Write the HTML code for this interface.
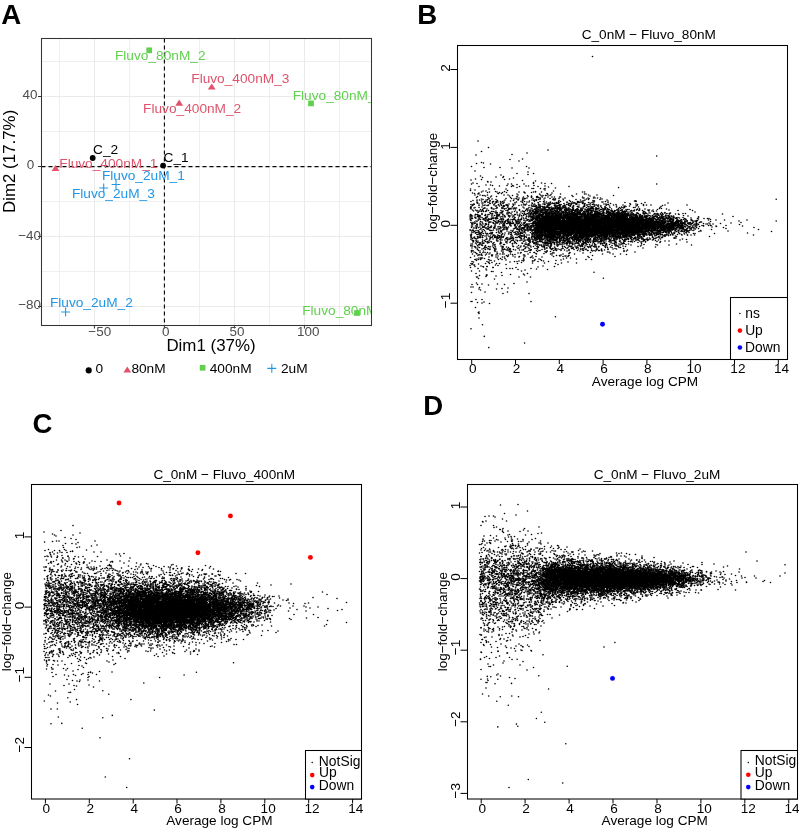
<!DOCTYPE html>
<html><head><meta charset="utf-8"><style>
html,body{margin:0;padding:0;background:#fff;}
svg{display:block;font-family:"Liberation Sans", sans-serif;-webkit-font-smoothing:antialiased;will-change:transform;}
</style></head><body>
<svg width="799" height="830" viewBox="0 0 799 830">
<defs><marker id="dot" markerUnits="userSpaceOnUse" markerWidth="4" markerHeight="4" refX="2" refY="2" overflow="visible"><circle cx="2" cy="2" r="1.6" fill="#000"/></marker></defs>
<rect width="799" height="830" fill="#fff"/>
<g font-weight="bold" font-size="27.6">
<text x="1.31" y="23.75">A</text>
<text x="417.15" y="24">B</text>
<text x="32.47" y="433">C</text>
<text x="423.15" y="415">D</text>
</g>
<path d="M59.5 38.5V325.5M129.5 38.5V325.5M199.5 38.5V325.5M269.5 38.5V325.5M339.5 38.5V325.5M41.5 61.5H371.5M41.5 131.5H371.5M41.5 201.5H371.5M41.5 271.5H371.5" stroke="#EFEFEF" stroke-width="1" fill="none"/>
<path d="M94.5 38.5V325.5M164.5 38.5V325.5M234.5 38.5V325.5M304.5 38.5V325.5M41.5 96.5H371.5M41.5 166.5H371.5M41.5 236.5H371.5M41.5 306.5H371.5" stroke="#EAEAEA" stroke-width="1" fill="none"/>
<path d="M164.4 38.5V325.5M41.5 166.6H371.5" stroke="#000" stroke-width="1.1" stroke-dasharray="4 3" fill="none"/>
<clipPath id="cpA"><rect x="41.5" y="38.5" width="330.0" height="287.0"/></clipPath>
<g clip-path="url(#cpA)">
<circle cx="92.7" cy="158" r="2.9" fill="#000"/>
<circle cx="163.1" cy="165.6" r="2.9" fill="#000"/>
<path d="M51.60 171.10H59.40L55.50 164.90Z" fill="#DF536B"/>
<path d="M175.30 105.70H183.10L179.20 99.50Z" fill="#DF536B"/>
<path d="M207.80 89.60H215.60L211.70 83.40Z" fill="#DF536B"/>
<rect x="146.35" y="47.45" width="5.7" height="5.7" fill="#61D04F"/>
<rect x="308.15" y="100.55" width="5.7" height="5.7" fill="#61D04F"/>
<rect x="354.15" y="310.15" width="5.7" height="5.7" fill="#61D04F"/>
<path d="M99.30 188.00H108.10M103.70 183.60V192.40" stroke="#2297E6" stroke-width="1.1" fill="none"/>
<path d="M111.60 184.50H120.40M116.00 180.10V188.90" stroke="#2297E6" stroke-width="1.1" fill="none"/>
<path d="M61.20 312.00H70.00M65.60 307.60V316.40" stroke="#2297E6" stroke-width="1.1" fill="none"/>
<text x="114.98" y="59.60" font-size="13.7" fill="#61D04F">Fluvo_80nM_2</text>
<text x="191.28" y="83.00" font-size="13.7" fill="#DF536B">Fluvo_400nM_3</text>
<text x="292.68" y="99.60" font-size="13.7" fill="#61D04F">Fluvo_80nM_3</text>
<text x="143.08" y="113.20" font-size="13.7" fill="#DF536B">Fluvo_400nM_2</text>
<text x="93.00" y="153.60" font-size="13.7" fill="#000">C_2</text>
<text x="163.50" y="161.60" font-size="13.7" fill="#000">C_1</text>
<text x="59.28" y="168.00" font-size="13.7" fill="#DF536B">Fluvo_400nM_1</text>
<text x="101.88" y="180.00" font-size="13.7" fill="#2297E6">Fluvo_2uM_1</text>
<text x="71.88" y="197.70" font-size="13.7" fill="#2297E6">Fluvo_2uM_3</text>
<text x="49.88" y="307.40" font-size="13.7" fill="#2297E6">Fluvo_2uM_2</text>
<text x="302.18" y="314.80" font-size="13.7" fill="#61D04F">Fluvo_80nM_1</text>
</g>
<rect x="41.5" y="38.5" width="330.0" height="287.0" fill="none" stroke="#333" stroke-width="1.05"/>
<path d="M94.4 325.5v3M164.4 325.5v3M234.4 325.5v3M304.4 325.5v3M41.5 96.5h-3.5M41.5 166.5h-3.5M41.5 236.5h-3.5M41.5 306.5h-3.5" stroke="#333" stroke-width="1" fill="none"/>
<text x="88.34" y="335.70" font-size="13.45" fill="#4D4D4D">−50</text>
<text x="161.97" y="335.70" font-size="13.45" fill="#4D4D4D">0</text>
<text x="229.56" y="335.70" font-size="13.45" fill="#4D4D4D">50</text>
<text x="296.98" y="335.70" font-size="13.45" fill="#4D4D4D">100</text>
<text x="22.59" y="99.40" font-size="13.45" fill="#4D4D4D">40</text>
<text x="26.67" y="169.40" font-size="13.45" fill="#4D4D4D">0</text>
<text x="18.14" y="239.60" font-size="13.45" fill="#4D4D4D">−40</text>
<text x="18.24" y="309.40" font-size="13.45" fill="#4D4D4D">−80</text>
<text x="166.41" y="351.30" font-size="16.9" fill="#000">Dim1 (37%)</text>
<text transform="translate(15.30,212.99) rotate(-90)" font-size="16.9" fill="#000">Dim2 (17.7%)</text>
<circle cx="88.7" cy="370.4" r="3.05" fill="#000"/>
<text x="95.56" y="373.20" font-size="13.7" fill="#000">0</text>
<path d="M123.40 372.60H131.20L127.30 366.40Z" fill="#DF536B"/>
<text x="131.40" y="373.20" font-size="13.7" fill="#000">80nM</text>
<rect x="199.75" y="364.95" width="5.7" height="5.7" fill="#61D04F"/>
<text x="209.69" y="373.20" font-size="13.7" fill="#000">400nM</text>
<path d="M267.35 368.40H276.25M271.80 363.95V372.85" stroke="#2297E6" stroke-width="1.1" fill="none"/>
<text x="280.91" y="373.20" font-size="13.7" fill="#000">2uM</text>
<clipPath id="cpB"><rect x="457.5" y="45.5" width="330.0" height="314.0"/></clipPath>
<g clip-path="url(#cpB)"><path transform="scale(0.5)" d="M952 310l-9 23 7 9 1 16-9 2 4 6-3 2-2 10 9 2-9 1 4 5 4 1 1 3-4 11-4 2 6 5-2 1-4 0 5 0 1 0-3 2 0 0-3 2 0 2 8 0-8 1-1 0 7 0-6 2 9 2-6 0 2 2 5 7-11 0 10 0 0 0-9 1 1 1 7 1-5 0-5 0 1 0 1 1 8 2-8 1 2 0 8 0-12 0 11 0-6 1-2 0-2 2 0 1 1 1 10 1-3 2-3 1-4 0 9 1-2 1-5 0 0 1 0 0 2 0-3 4 8 0-6 0-2 3 4 1 3 0-9 4-1 0 6 0 0 1-1 0-2 1 4 0 2 1 0 0-3 2 5 1 0 0-8 0 0 3-2 1 1 1 0 1 0 2 7 0-6 0 5 1-6 1 3 1 5 0-5 0 6 0-9 2 3 2 2 0-2 0 7 0-5 2-1 1 5 2-6 2-3 0 0 3 3 1-3 0 7 1 2 1-1 0-6 2 8 0-9 5 3 0-3 1 1 0-1 2 5 0 3 1-6 3 4 4-8 3 10 4-1 0-6 4 3 1-5 3 3 0-1 2 4 1 1 0-9 1 10 2-9 2 2 7 1 27 2 5-4 0 1 11 1 18-2 0 9 12 5-333 7 21 0 22 4 1-14 1 15 8-7 17 4 3-2 4-9 8 4 6 8 9-3 2-5 2-1 1-1 1 4 2 5 1-10 2-2 2 10 3 3 1-12 1 5 0 4 2-9 0 0 3 10 1 2 0-11 0 0 0 3 2 7 2-7 1 6 3-6 1 9 2-6 2 4 0-1 2-10 0 12 0-12 1 4 0 2 0 3 1 4 0-10 1-1 1 8 2-9 2 9 0-8 1 3 1 1 0-4 1 1 0 0 0 0 1-2 0 4 0 2 1 3 1-7 1 2 0 9 1-1 1-8 0 7 0-5 1 6 0-11 1 1 0 4 3-7 0 10 1 1 2-5 0 1 2 5 0-12 0 0 1 6 1-6 0 9 0-9 0 11 2-11 1 13 1-1 0-6 0 5 1-12 0 4 0 5 2-9 0 14 2-7 0 4 1-8 1-4 0 5 1 8 1-8 1 2 0-6 1 10 0-7 0 4 1 4 0-5 1 8 0-6 0-3 1 4 1-8 0 2 0 6 1-3 0 7 1-5 1 4 0-10 1 6 1-2 0-2 0 8 1-6 0 2 0 4 0-9 1-1 0-2 2 12 2-9 2 9 1-12 0 1 1 6 1-4 0 10 1-6 0 4 0 4 0-2 1-7 1-6 0 8 0-3 1 6 1-6 0 5 0 2 1-10 0 1 3 3 1 8 2-3 1-9 0 0 1 2 2 3 1 7 0-7 3 6 0-13 2 1 1 9 0 0 1-5 0 2 1 4 1-8 0 9 5-3 0 0 0-4 0 4 2-8 0 3 1 4 0-8 2 4 7 5 4 4 1 1 1-11 3 3 5-7 5 7 4-6 3 2 0 2 3-4 9 11 2-9 1 4 6-1 3 3 2 3 19-12 0 16 5-13 1 9 1-6 18 0 3 0 9 19-341 4 33-6 35 7 1-6 0-4 6 9 0-3 8-6 4 7 2-4 1 0 5-7 1 15 1-12 0 10 2-5 1 2 2 0 1-3 1-3 1 8 1-6 1 6 0-9 1-2 0 10 1-3 1-6 0 10 2 0 0-3 3-7 0 4 1 2 0-8 0 15 4-14 1 14 0-13 0 13 1-9 1-1 3 4 0-4 1 10 1-12 0 9 2 1 2 2 1-12 1 5 0 2 0-7 2-1 0 5 1 8 0-8 2-2 0-2 1 2 1 10 0-12 1 7 1 5 0-6 0 5 0-8 1 4 0-1 0 1 0 4 0-13 1 2 0 5 1-1 0-3 1-1 0 5 0 6 2-2 0-2 0 1 1-2 1-5 1-1 1 0 0 2 1 4 0-7 2 13 1-6 0-1 1 6 0-13 1 0 0 12 1 1 0-3 0-3 1-5 0 2 0 4 1-2 1-1 0 4 1 4 2-1 0-12 0 11 0-9 3 11 1 2 1-12 1 3 0 7 0-3 0 5 0-11 1 9 0-6 2-6 2 11 0-8 0 5 1 4 2-9 1 8 0-1 0 0 2-6 0-2 1 7 1-10 1 0 0 9 1-7 1 11 0-7 0-1 1 9 0-5 1-1 0-2 1-4 5 9 2-3 0-7 0-1 2 4 0-1 0 8 1-4 1 0 1-6 0 9 1-8 0 9 0-10 6 5 0 5 1-7 2 5 0 5 2-12 0 13 1 0 1-6 2-9 3 8 2 2 1 3 1-8 2 4 1-1 1-6 2 8 0-5 6 0 0-2 5 1 2 10 3-10 7 1 0-1 1-1 2 5 17-7 14 9 23 13-253-7 17 14 1-10 6 2 5 3 1 5 1-2 2-1 0-3 6-9 5 8 1 3 2-1 1-8 1 7 0-6 0 4 1-6 0 11 0-3 1-8 1 5 1 7 2-9 0 0 1 9 0 2 2-6 0-2 0 3 3 0 1-2 1-6 1 2 0 4 4-8 1 3 0 3 1 3 1 1 0-3 1 3 0-9 1 9 1 5 1-3 0-3 1-8 0 10 0 4 0-2 1-8 0 9 1-3 0-2 0 1 1-8 1 7 1 2 1-4 0-1 0-4 0 9 1-8 0 5 0-7 0 7 1 8 1-3 2-10 0 7 1-5 0 8 1-6 0 7 0-1 1-11 1 8 0-1 1-6 0 8 0-4 0-4 1 3 1 9 0-8 2-2 2 9 1-8 0 6 1-8 1-1 1 2 0 1 0 9 1-5 1 3 0 3 0-13 2 6 0-9 1 13 1 0 2-4 1-8 0 13 1-3 4-7 0-2 0 4 1-3 0 10 0 2 1-4 1-10 0 14 0 0 0-9 0 1 1 2 0-3 0 5 1-5 0-1 0 10 0-4 0-11 0 9 1 4 0-3 0 2 1-10 1 7 2 1 0 0 2 2 0-8 3-2 2 14 1-14 0 4 1-2 1-3 2 5 0 1 2-4 1 2 2 0 1 1 0 2 0-1 2-2 1 1 2 4 1 1 3 5 1-6 0-2 2-7 0 11 2-4 2 3 2 2 3-8 3-5 3 15 2-6 0-2 3 5 1-10 4 0 0 0 8 6 9-3 6 6 10-2 10 7-243 2 15 5 3-1 2 3 4 5 12-2 7 3 3-6 2-4 2 8 0-10 2 5 3 8 0-4 7-2 3-2 2-7 1 4 0 3 2-6 0 4 1-5 1 5 0-4 2 12 0-2 1 1 0 2 1-8 0-4 0 13 0-8 1 1 0-2 1-1 1 9 0-11 1 1 1 3 1 4 0-8 0 5 1 3 3 3 0-13 0 4 1-1 1-1 1 1 0 11 1-14 0-2 1 14 0-11 0 2 2 9 0 2 0-10 1 3 2-3 1 4 1-6 0-3 1 9 0-4 2-4 1 4 1-2 0-1 1 12 0-8 0 8 2-3 0 3 1-9 0-3 0 8 1-1 0-5 0 5 0-10 0 16 1-11 0-4 0 9 1-8 1 2 0 4 0 0 1 5 0-5 0 7 0-9 2 3 1 0 0-1 1-2 0 3 0-2 1-6 2 4 0 5 0 2 0-11 1 12 0-5 0 7 1-6 0-7 0 10 2 2 0-1 0 2 0-8 0 1 1-1 0-2 1-2 2-1 0 12 0-13 0 1 1 1 1 7 2-10 0 5 1 0 1 4 2-6 0 0 0-3 2 3 1 4 0-1 1 8 1-12 0 4 0 10 1-14 0 11 1-1 0 0 0-11 1 14 1-15 0 15 0 0 1-5 0-6 0-3 2 13 1-2 1 0 0-11 1 2 1 11 0-13 1 6 2 2 0-7 3 3 1 1 0-2 1 9 0-7 1-1 1 10 2-6 0-5 0 2 1 0 0 4 0 3 1-10 2 3 0 0 3-1 3 3 0 5 3 3 1-1 1-6 1-4 0 5 3-9 0 3 2 8 1 0 9 1 8-10 8 1 6 5 18 7 7-12 1 11 7-9 3 18-278-4 10 4 17 3 20-8 2-3 10 7 0 2 3 2 1-4 1 2 18-6 1 2 3 2 2 9 0-4 1-1 3-6 1 9 3-12 3 8 0 4 0-3 2 0 0-2 3-9 1 12 2 2 0-6 0-5 1 11 0-9 0-3 0 4 1 5 0-10 0 2 0-2 1 14 1-15 2 13 1-5 1-5 1-1 1 4 1 7 2 2 0-7 1-7 1 3 1-1 0 8 0 1 0-11 0 2 2 6 0 5 1-1 1-1 1-11 1 0 1 12 0-2 0-2 0-3 0 9 1-6 2 6 0-11 0-4 0 2 2 0 0 7 0-8 1 4 0 6 1 5 0-14 0 2 1 5 0 2 0-5 0-3 0 4 0-4 1 11 1-1 1-9 0 11 0-10 0 9 1-9 0 9 1-8 0-5 2 15 0-1 1 0 1-2 1-2 1-5 3 4 0-1 2-7 1 13 0-9 1 6 0-6 0 8 0-12 1 5 2-6 0 5 1 8 0-9 0 3 2-2 2 4 1 5 1-6 0-4 1 2 0 1 1-2 0 5 0-7 0 0 1-2 1 9 1-1 0 0 1-3 0-2 2 8 0-9 2 11 0-2 1-4 1 0 0 0 3 2 3-1 0-9 2 3 3 1 0-2 0-3 0 3 1 8 0 4 1-15 1 3 1 2 0 2 1-4 0 2 1 0 4 9 1-5 0-8 1 9 2 4 2-1 9-9 1 0 13 5 0-4 12 7 18 17-249-7 4-4 25 11 14-11 8 5 4-5 2 4 9-4 4 2 2-2 3 13 1-13 0 4 2 8 0-1 2-11 0 14 0-11 1-1 1 10 0-1 1-3 2 3 1-12 0 12 1 2 3-4 2-5 1 8 3-13 2 6 3 0 2 6 1 2 1-13 1 8 0-8 2 11 1-5 1 8 1-13 1 4 0 4 1 4 0-9 1 1 0 5 2-7 2 10 0-4 1 5 1-7 1-4 0 6 0-5 1-3 0 6 2-3 0-5 0 3 1-3 0 2 1 3 0 1 1-6 0 14 1-8 0 4 0-9 1 3 0-1 0 10 2-5 0-6 1 5 1 8 0-5 0-3 2-1 0-6 1 4 0 7 1 3 1-1 0-1 0-5 0 0 0 6 0 0 0 2 1-14 0 12 0-2 0-6 1-3 0 8 0 4 0-7 1-6 0 9 0-6 0 2 1 5 1 0 1-5 0-1 0 8 0-12 1 5 0 2 2-5 0 5 0-5 1 6 0 3 0-2 0-11 1 13 0-4 0-4 1-4 0 6 0-3 1 5 1-7 0 14 0-4 1-3 0 2 1-4 0 8 0-3 1-7 0 5 1-3 0-5 1 5 0-5 0 6 0 8 2-5 0-1 0 0 3 2 0-12 0 8 1-5 0 0 1 12 1-3 3 1 1-12 0 4 4 5 1 6 0-14 2 7 0-3 2-2 1 11 2-8 1 8 0-3 0-2 5-1 1-5 0 11 4-8 3 9 1-10 0 9 3 0 3-3 1-6 1 9 0-13 1 9 2-8 2-3 8 4 4 7 3 4 6-9 6 15-221 5 3-2 8 0 5-8 19 9 4-5 0-4 12 15 1-14 0 1 1 5 5 8 1-7 1 7 0 0 2-9 1-4 1 0 0 14 3-5 2-10 1 5 1 4 0 6 2-11 2-3 1 13 1-12 0-3 0 10 1 5 1-5 3 4 1-14 0 8 1 8 0-11 1 0 1 5 1-3 0 6 0-10 1 9 0-5 1 5 1-12 0 1 1 11 0-2 1 5 0-8 2 1 0 4 0-11 0 12 0 3 0-11 1 10 0-5 1 3 0-10 0 10 1 1 2-5 0-4 0 6 0 4 1-10 0 7 0 1 1-4 0-5 2 0 1 9 1-6 1 8 0-6 0-3 1-6 1 6 0 5 0 4 0-4 0 2 1-10 0 9 0-2 1-8 2-1 0 0 1 0 1 13 0 2 0-10 1 3 0 2 0-5 0-1 2 2 0-1 0-3 0 0 0 4 0-1 1-5 0 3 0 11 0-8 0 6 1-3 0-7 0 6 1-1 0 6 0-1 0 2 1-13 0-1 0 0 0 9 0-5 0 2 1 5 0 3 0-8 1 3 0 4 1-9 1 8 0-2 0-4 0 0 0 1 1 5 0-11 0-1 1 14 0-1 0-1 0-2 0-7 1 4 0-6 0 6 1-7 1-1 2 13 0-10 1 13 1 0 2-6 1-4 0-5 0 15 2-15 1 3 0-3 0 0 2 9 0-5 0 10 0-5 2 1 0 5 1-8 0 0 1 4 0-2 1-8 0 6 0-2 0-6 0 12 1-10 1 10 0-2 0 0 1 1 0 1 1 0 1-8 1 7 2-2 0 0 0-7 0 4 1-2 0 4 2 2 0-10 1 13 0-7 2 8 0-11 0 0 2 6 0-7 1 9 1 3 1 0 1-1 1-3 0-8 2 4 0 6 2-4 3-7 2 1 2 13 2-2 1-13 5 14 17-12 3 5 7-6 3 12 4-7 10 4 23 4 16 5-256 4 15-4 3 0 2 1 4 8 2-12 4 3 0 4 6-4 1 4 0 8 4-5 5 1 0-2 1 5 1-4 0 2 0-10 2 14 1-7 1 4 0-6 1-3 0 5 1-5 0 1 2 7 2 1 1-12 1 4 1 8 1 1 0-8 1-3 0 5 1 7 1-2 0-11 0 7 0-4 1 2 0-5 0 14 1-6 0 6 0-7 1 0 0 4 0-1 0 1 0-3 1-1 0-2 2 5 0-3 0-3 0 5 0 2 1-7 0-1 0 9 1-4 0 4 0-11 0-3 0 8 1 0 0 8 0-15 0 10 1-1 0 1 1-4 0-5 0 2 0 9 0-10 0 6 0-6 0 8 1-11 0 10 1-2 0 6 0-9 0 0 0 5 1-4 0 0 0 0 1 5 0-3 0 0 0-5 0 1 0 11 1-2 0-10 0 12 0-9 0 8 1-2 1 3 0-12 0 11 0-6 0-6 0 6 0-6 0 11 1 2 0-2 0-4 1-5 0 7 0 0 0 4 0-10 0 11 0-7 1-8 0 14 0-1 1-4 0 1 0 2 0-12 0 6 0-4 0 8 0-11 0 8 0 1 1 6 0-11 0 9 0 0 0-13 0 12 0 0 1-11 0 2 0 10 0-12 0 3 0 11 0 0 1-14 0 5 0 0 0 7 0 2 0-4 0-1 0 5 1-12 0 6 0-8 0 11 0-4 0 2 0-3 0 9 0-7 1-7 0 7 0 6 0-8 0-6 0 15 1 0 0-1 0-5 0 1 0-1 0 4 1-1 0-12 0 9 0 4 0-3 0-5 1 7 0-6 0 7 0 1 1 1 0-9 0 5 0 3 0 0 0-9 0 8 0-2 0-7 0 10 0-11 0-1 1 10 0-7 0 1 0 1 0 7 0-3 0-6 0-1 0 4 1 4 0-2 0-1 0 1 0 2 0-11 0 11 0-10 1 0 0 10 0 1 0-1 0 1 0-4 0 5 0-7 1-3 0 2 0-6 0 3 0 11 0-3 0-1 0 0 1-3 0 8 0-7 0 5 0-3 0 2 0 1 0 2 1-1 0-1 0-4 0 3 0-6 0 3 1-9 0 15 0-5 0-8 0-1 0 9 1 4 0-6 0-5 0 7 0-4 0 7 1-2 0-10 0 1 0 3 0 8 0-2 0-3 1 6 0-12 0 10 0-10 0 8 0 4 0-2 0 2 1-7 0-6 0 8 0 3 0-4 0 1 0-2 1 4 0 1 0-6 0 4 0-6 1 7 0-1 0-1 0-1 0 7 0-3 0-8 0 6 1 4 0-10 0 10 0-4 1-4 0 7 0-9 0 6 0 3 0-1 0-5 0 1 0 5 0 0 0-3 0-3 1 3 0 2 0-5 0 3 0-8 0 11 0-12 1 12 0-13 0 6 0 7 0-10 0 0 0 10 1-4 0 5 0-4 0-4 0 9 0-5 0-10 0 7 1 7 0-4 0-6 0 10 0-1 1-7 0 5 0-12 0 13 0-2 0 2 0-5 1 7 0-10 0 3 0 0 0 3 0 1 0-6 0 10 0-1 0-1 0-2 1-4 0 6 0-12 0 8 0 5 0-10 0 9 0 2 0-9 0 7 0-12 1 9 0-7 0 6 1 4 0-7 0-4 0 4 0 9 0-8 1 2 0-4 0 9 0-14 0 4 1 5 0 3 0 1 1-9 0 6 0 0 0 0 0-9 0 13 0-2 1-2 0-5 0 6 0-1 0-3 1 4 0-3 0 4 0-11 0 11 1-11 0-2 0 10 0 1 0 4 0-6 0-4 0-3 1 11 0 0 0 3 0-2 0-4 0-1 0 1 0 2 0-5 1-2 0 0 0 10 0-3 1-6 0 1 0 3 0-5 0 10 0 0 0-8 1-1 0 9 0-8 0 7 0-2 0 3 0 0 1 0 0-15 0 16 0-8 0-3 0 4 0 2 1 4 0-5 0-7 1-1 0 4 0 2 1-1 0 8 1 1 0-15 1 11 0 4 0-5 0-9 0-1 1 8 0-5 1 4 0-2 0 6 1-3 0-5 1 0 0 0 0 2 0 4 1-1 0 3 1-5 1 8 0-4 2-1 1-7 0 9 1 1 0-1 1-2 2-4 0 5 1-2 3 5 0 2 0-5 2-6 2-1 0 4 2 1 1-8 4 7 1-6 3 12 2-8 1-1 2-4 1 1 0 10 1-11 3 11 8-3 4 10-172 7 1 0 5 0 5-9 0 7 1 2 2-7 4 11 3 1 1-14 2 10 1 1 0-6 0-3 1 2 2-4 2 9 0-2 2-8 0 9 4-9 1 7 0 6 1-5 2 2 0 4 1-8 1 10 1-7 0 1 0-9 1 15 1-16 1 15 0-1 0 1 1-7 0-3 0-3 0 8 1 3 0 3 0-10 1 4 0-1 0 5 0-14 0 7 1-7 1 9 0-5 1 6 0-8 0 4 0 4 0 6 1-11 0-3 0 10 0 0 0-2 0-4 1 4 0 3 0 2 0-8 0-2 0 10 1-12 0 7 0 5 1-9 0-4 0 11 1-2 0 1 0-10 0-2 0 2 0 7 1-4 0 6 1-6 0-2 0-1 0 9 0-3 0 4 0-1 0-6 0 9 1-7 0 7 0-13 0 10 1 0 0-3 0 4 0-2 0-4 0 8 0 0 0 1 1-1 0-3 0 0 0 2 0-1 0-10 1 0 0-1 0 3 0 3 0-2 0-5 1 4 0-3 0 4 0 7 0-9 0 10 0 0 0-7 0 8 1-9 0 6 0-9 0 2 0 1 0-2 0 8 0 1 0-2 1 1 0 2 0 2 0-3 0-8 0-1 0 0 0 11 1 2 0-12 0 1 0 8 0-2 0-8 0 8 0-6 0 2 0 8 0-4 0 4 1-9 0 3 0 0 0-5 0 3 0 4 0-1 0-8 1 5 0 6 0 2 0 0 0-5 0 0 1 5 0-3 0-3 0-4 0 6 0 0 0-3 0 3 0-5 0 10 0-7 0-4 0 8 0-7 0-1 1 4 0-4 0-1 0 4 0-8 1 6 0 8 0-2 0-4 0 2 0-8 0 6 0-2 0-6 0 6 1 2 0 8 0-4 0-1 0 4 0-1 0-8 0 4 0 4 0-1 0-1 0-9 0 10 0-1 1-10 0 3 0 9 0-4 0-1 0 5 0-9 0 5 0-6 1 7 0 0 0 1 0-4 0 1 0-9 0 0 0 0 0 5 0 3 0 2 0 5 0-11 1 5 0-9 0 7 0-1 0 1 0-1 0 8 0-10 1 7 0-6 0 1 0 4 0-9 0 13 0 1 0-6 0-6 0 7 0-3 0-6 1 12 0 3 0-10 0 0 0 9 0-1 0-9 0 11 0-9 0 5 1-2 0-4 0 4 0-9 0 2 0 5 0-4 0-3 0-1 0 12 0-11 0 12 0-3 0-5 1 6 0-7 0 8 0 1 0-5 0 5 0 1 0-2 0-3 0-1 0-8 0 2 0 9 1 0 0-1 0 5 0-12 0 1 0 6 0-2 0-6 0 1 0-2 0 14 0-11 0 8 1 3 0-14 0-1 0 13 0-4 0 3 0 2 0-14 0 9 0-4 0 6 0 5 1-12 0-1 0 7 0-4 0 3 0-4 0 8 0-8 0-5 0 15 0-5 0-4 0-1 0 10 0-7 0-6 0 6 0 5 0-3 0 5 1 0 0-7 0 3 0 0 0-6 0 6 0-10 0 8 0 1 0 5 0-9 0 9 0-4 0-4 1 7 0 0 0-14 0 4 0 9 0-10 0 8 0 5 0-2 0-8 0 4 0 1 0-3 0 5 0-7 0-4 0 6 0 5 1-5 0 6 0-6 0 6 0-2 0-3 0-8 0 3 0 4 0 0 0-6 0 7 1-2 0 7 0-14 0 4 0 3 0 3 0-8 1 3 0 1 0 9 0 0 0 1 0-2 0 2 0-13 0 13 0-15 0 0 0 4 0 7 1-9 0 0 0 5 0 7 0-5 0 4 0 2 0-4 0-8 0 7 0-8 0 2 1 6 0-3 0-1 0 9 0-10 0 5 0-10 0 9 0 3 1-5 0-7 0 4 0 4 0-8 0 5 0-3 0 7 0-9 0 11 1-7 0 8 0-10 0 6 0 3 0-7 0-1 0 3 0 3 0 3 0-12 0 9 0 4 0-1 1-10 0 12 0-12 0-1 0 8 0-4 0 10 0-7 1-3 0 5 0 4 0-9 0-2 0 0 0 9 0 2 0-5 0 5 0 0 1 1 0-8 0-5 0 1 0 0 0-1 0 11 0 0 0-11 0 6 0-3 1 8 0-1 0-2 0 2 0-9 0 5 0 0 1 1 0 2 0-7 0-4 0 14 0-12 0 12 0-12 0 1 0 3 1 3 0 1 0-9 0 0 0 8 0-6 0-1 0 13 1 0 0-4 0-10 0 6 0-4 1 2 0 4 0-5 0 4 0 2 0 3 1-11 0 8 0-11 0 4 0 0 1 2 0 5 0-9 0 7 0 7 0-3 0-8 1 8 0 0 0-6 0-1 1-5 0 9 0-6 0 11 0-13 0 6 0-6 0 7 0-2 0-5 0 9 1-10 0 7 0-6 0-2 0 11 0-6 0 8 0-11 1 14 0-2 0-2 0-3 0 4 0-8 0 6 0-1 1-1 0-5 0 0 0 7 0 3 0-11 0 13 0-7 1 4 0-13 0 2 0 10 0-8 0 7 0-8 0 11 0-11 1 12 0-1 1-12 0 6 0-6 0 13 1-12 0 9 0-3 0-4 1 10 0-11 0-2 1 12 0-7 0 5 1-9 0 2 0 5 0-10 1 15 0-4 1-10 1 2 0-3 0 14 1-9 0 5 0-1 1-1 0-3 0 10 0-2 0 0 0-1 1-3 0 2 0 3 1-3 0 1 1-5 0-7 2 11 0-8 0 6 0-6 1 11 0 0 0-6 1-1 0 2 1-5 0 2 1 3 1 5 1-1 0-4 2 1 0-6 1 10 3 0 0-4 1 3 1-1 1-4 2-4 7-3 5 2 2 4 1 2 4-3 6 9 7 8-172-6 7 14 2-4 6-3 4-2 3-6 1 4 1 4 3-8 0 13 0-9 3 11 1-1 0-3 0 0 0-1 1 4 1-2 0-7 4-1 1 10 1-5 0-8 0 10 1 2 0-5 0-6 0 3 1-3 1 2 0-1 1-1 0 13 0-2 0 0 1 2 1-8 2 7 0 1 0-11 1-1 0-2 0 11 1 3 0-6 0 6 1-4 0 0 0 0 0-4 0-4 0 5 0 2 1 3 0-11 0 5 0-5 0 7 1-4 0 2 1 1 0 6 0-9 1 8 0 0 0-11 0 8 1 5 0-11 1 11 0-8 0 4 0-11 1 9 0-2 0 3 0-4 0-3 1-1 0 11 0-11 0 1 0 4 0 6 0-12 0 0 1 5 0 2 0 5 0 1 0-10 0-1 0-2 0-1 1 12 0 3 0-5 0 5 0-4 0 4 0-14 0 11 0-5 0-7 1 4 0 4 0 2 0-6 0 2 0-4 0 1 0 12 1-13 0 8 0-2 0-6 1 13 0-1 0 0 0-5 0 1 0-1 0-6 0 13 1-14 0-1 0 8 0 5 0-6 0 0 0 7 0 1 0-16 0 14 0-14 1 1 0 10 0 2 0-6 0-2 0 3 0-4 0 11 1-5 0-10 0 14 0-7 0-3 0 4 0-1 1 2 0 2 0-3 0-2 0 1 0 3 0-7 0 13 0-8 0 2 0 6 1-6 0-6 0 9 0-10 0 2 0-5 0 10 0 3 1-11 0 9 0-6 0 9 0-10 0 4 0 7 0-10 0 6 0-7 0 10 0 1 1-14 0 2 0 7 0-5 0 10 0-6 0 5 0-11 0 3 0 2 0 3 1 5 0 0 0-10 0-1 0 2 0 1 0 1 0-7 0-2 0 5 0 8 0-2 0-2 0-1 0 2 1 1 0-8 0 11 0-13 0 12 0-12 0 1 0 11 0 3 0-14 0 5 0-3 1-1 0 0 0-2 0 12 0-12 0 6 0-4 0 6 0 4 0 1 0-3 0-3 0 5 1-12 0 3 0 8 0 3 0-15 0 3 0 13 0-10 0 8 0-4 0-3 0-5 1 11 0-9 0 3 0 3 0-1 0 2 0-6 0-2 0 10 0 1 1-13 0 0 0 0 0 1 0 0 0 13 0-3 0 4 0-1 1-9 0 6 0-7 0-2 0 4 0-3 0 7 0-4 0-5 0 3 0-1 0 3 0 4 0-3 0-8 0 10 0-9 0 14 0-9 1 6 0-11 0 12 0-6 0-3 0 5 0-3 0 9 0-6 0-7 0 1 0 5 0 0 0 2 0-10 0 8 0-8 0 14 1 0 0 1 0 0 0-1 0-9 0-2 0-3 0 15 0-3 0 2 0-12 0 12 0-2 0 3 1-2 0-12 0 0 0 8 0-3 0 10 0-13 0 11 0-8 1 0 0 9 0-11 0 10 0-1 0-4 0 6 0-13 0 8 0 1 0-4 0 1 0 1 0 5 0-7 0-1 1-6 0 7 0-3 0 6 0-3 0-1 0 8 0-2 0-11 0 13 0-6 0 3 0 4 1 0 0-7 0 0 0-6 0 2 0 10 0-10 0 5 0-8 0 10 0-8 0 13 1-15 0 6 0 4 0-9 0 12 0-3 0-5 0 7 0-1 0-4 0-7 0-1 0 7 0 5 0-8 0 2 1 3 0 2 0-3 0 2 0-6 0 12 0-12 0-2 0 10 0 1 0-11 0 7 0 2 1 0 0-9 0 0 0 0 0 8 0-5 0 7 0-6 0 5 0 0 1-4 0-6 0 11 0-1 0-3 0 7 0 1 0-4 0-4 0 2 0-1 0 0 1 7 0-11 0-4 0 3 0 5 0 3 0-10 0 5 0 6 0-4 0 5 0-5 0 6 0 0 0-1 0-3 0-8 0-2 1 8 0-3 0-3 0 8 0-6 0 7 0 4 0-7 0-1 0-7 1 0 0 0 0 5 0 8 0-3 0-7 0 12 0-13 0 3 0 0 0 0 0-3 1 13 0-4 0-10 0 2 0 2 0-3 0 11 0-2 0-10 0 7 0 7 0-8 0-4 0 7 0 2 1-6 0-4 0 3 0 4 0 0 0 6 0-7 0 6 0-11 0 10 0-11 0 6 0 2 1-9 0 12 0-12 0 3 0 8 0-10 0-1 0 9 0-9 0-1 0 4 0-3 0 4 0-2 0 12 0-3 0-1 1 3 0-13 0 0 0 0 0 6 0-7 0 13 0 0 0 0 0 1 0-9 0 0 0-2 0 2 1 4 0 5 0-5 0-1 0-2 0 1 0 6 0-7 0-5 0 6 1-1 0 9 0-15 0 12 0-7 0 0 0-5 0 14 0-11 0-1 0 3 1 3 0-6 0 5 0 4 0 2 0-1 0-1 0-5 0-2 1 1 0 3 0 1 0-8 0-2 0 12 0-11 0 6 0-3 1 0 0 12 0-10 0 8 0-5 0-4 0 4 0-4 0-1 1 2 0-1 0-1 0 9 0-10 0 4 0 3 0-4 0-2 0 3 0 0 0-7 1 4 0 2 0 2 0 8 0-15 0 11 0-10 0 12 0-10 1 4 0 6 0-1 0-7 0 5 0-2 0-7 0 8 0 1 0-5 0-3 0 12 0-14 1 14 0-9 0-2 0-1 0-2 0 4 0 5 0 0 0 1 0-8 0 11 1-5 0-1 0 4 0 0 0-12 0 9 0-4 0 2 0 6 1-2 0 0 0 5 0-11 0 1 0 3 0 5 1-11 0 1 0 9 0-6 0 0 0-4 0 9 0 0 0-4 0 7 1-3 0-12 0 3 0-3 0 1 0 2 0-1 0 10 0 2 0-8 0 8 0-10 0 6 0-2 1 1 0-4 0 2 0 4 0-8 0 8 1 4 0-7 1-2 0-2 0 7 0 0 1 2 0-11 0 7 0-7 0 3 0 2 0 7 1-9 0 3 0 2 0 2 0-9 1 11 0 2 0-13 0 5 0 4 0 1 1-11 0 9 1-9 0-2 0 8 0-4 0 1 0 3 0-6 1 1 0 13 1-11 0 0 0 6 1-1 0-4 0 4 0 3 0-11 1-2 1 13 0-6 0-4 0 2 0-4 0 6 1-7 1 13 0-7 0 1 1-2 2-4 0 5 0-1 0 0 1 8 1-9 0 0 1 1 1 9 0-4 1-5 0 0 0 4 0 6 0-7 1 7 1-8 0 7 1-3 1-6 2 5 2 2 1-4 1-3 1 3 2 3 3-10 10 14 4-2 6 12-145 0 6-2 0-1 3 8 1 1 2-9 1-1 2 4 0-3 2-5 0 3 1-2 0 0 1 3 0-4 0 6 2 3 0-1 1-2 1-2 0-1 0 11 1-12 0 5 0-7 0 13 0-14 1 8 0 5 1 2 0-13 0 14 1-10 0-2 0 6 0-3 0-2 0-3 1 5 0-7 0 4 0 3 0 7 0-7 1-5 0 3 0-1 0 5 0 3 0-3 0-5 1-2 0 5 1-4 0 7 0-7 0 8 0-3 1 1 0-7 1 0 0 6 0 0 1 3 0-8 0-3 0 5 1 9 0-1 0 2 0-9 0-6 0 11 1-10 0 14 0-10 0-2 0 10 1 0 0-12 0 3 0 9 0 2 1-8 0 2 0 0 1-6 0 8 0-4 0 0 0-1 0 5 1-1 0 5 0-5 0 4 0-4 0-9 0 6 0 0 1-7 0 6 0 9 0-5 0-6 0-3 0 6 1-2 0-2 0 7 1-1 0 7 0-7 0 5 0-8 0-4 0 6 1 4 0-11 0 9 0 6 0-15 0 6 0-5 0 14 0-13 0 8 1-7 0 5 0-7 0 13 0-11 0 7 0-2 1 2 0-10 0 13 0-7 0-7 0 10 0-6 0 0 1 4 0 1 0 6 0-1 0-2 0-6 0-6 0 9 0 3 0 1 1-13 0 1 0 2 0 5 0 0 0-4 0 2 0-3 0 13 0-3 0-5 1 2 0-9 0 15 0-6 0 2 0-7 0 8 1 2 0-13 0 2 0-1 0 11 0-6 1-1 0 7 0-10 0 11 0-9 0-4 0 5 0-4 0-1 0 6 0 1 1-1 0-4 0 12 0-13 0 2 0-1 0-3 0 2 0-3 0 1 0 1 0-2 0 8 0-1 1 7 0 1 0 0 0 1 0-4 0-6 0 8 0-9 0 0 0 2 0-3 0 8 0-2 1 2 0-9 0 8 0-6 0 6 0-5 0 1 0 4 1 0 0 0 0-7 0 6 0-4 0-2 0 0 0 7 0-2 0-8 0 3 0-3 0 6 0 2 0 1 0-2 1-1 0-1 0 7 0-5 0-5 0 12 0-13 0 9 0-8 0 5 0 8 0-9 0-6 0 1 0 13 0-8 1 0 0 7 0-13 0 14 0 0 0-3 0 3 0-12 0 1 0 5 0-7 0 7 0-8 0 1 0 4 1 3 0-8 0 12 0 2 0-2 0 2 0-5 0 5 0-6 0 1 0 5 0-7 1 3 0 0 0-11 0 2 0 5 0-3 0 9 0 2 0-1 0-1 0-11 0 4 0-4 1 14 0 0 0-9 0 2 0-8 0 3 0 1 0 0 0 11 0-2 0-13 0 5 0 2 0 0 0-4 0-1 0 7 0-8 0 11 0 2 1-3 0-7 0 2 0-1 0 8 0-5 0-4 0-3 0-1 0 4 0 1 0-2 0 0 1 7 0-6 0 11 0-8 0 7 0-13 0 11 0-5 0 2 0 2 0-1 0 1 0-9 0 1 0 12 0-2 0 2 0-12 0-3 1 2 0 9 0 1 0 0 0-3 0 6 0-15 0 8 0-3 0 9 0-13 0 11 0 0 0-3 1-9 0 7 0-2 0 1 0-1 0-1 0 11 0-13 0 13 1-2 0 1 0-4 0-5 0 9 0-1 0-7 0 7 0-7 0 8 0-1 0-4 0-2 0 5 0-3 0-3 0 6 1 2 0-14 0-1 0 7 0-1 0-5 0 1 0 5 0 5 0 0 0-3 1-8 0 13 0-9 0-2 0 1 0 11 0-13 0 6 0 6 0-1 0-11 0 11 0 0 0 2 1-10 0 4 0-8 0 13 0-3 0 2 0-12 0 2 0 9 0-6 0 8 1-13 0 2 0 2 0 6 0 0 0 0 0-9 0-1 0 14 0-6 0-9 0 2 0 6 0-5 0-1 0 9 1-6 0-3 0 10 0 0 0 0 0-9 0 6 0-6 0 4 0-3 0 5 0-5 0 2 0 9 1 1 0-15 0 13 0-8 0 8 0 1 0-14 0-1 0 8 0-1 0 8 0-7 1 3 0-9 0 9 0-7 0 8 1 4 0-2 0-5 0 0 0 6 0-10 1 6 0 2 0 0 0-2 0 0 0-2 1-1 0-3 0-1 0 12 0-9 0 9 0-2 0-5 0-8 0 2 0 10 0-3 1-5 0 10 0-13 0 13 0-3 1-11 0 8 0-8 0 6 0 6 0-13 0 7 0-6 0 0 1 15 0-2 0-1 0-11 0 1 0-3 0 16 0-6 0 4 0-8 0 8 1-10 0 5 0 4 0-1 0-5 0-3 0 2 0 1 1-2 0 2 0-7 0 2 0 3 0 5 0-8 1 0 0 13 0-11 0 3 0 7 1-6 0 1 0-2 0 2 0-5 0-2 0 12 1-11 1 4 0-4 0 7 0-5 0 9 1-6 0-1 0 7 1-3 0 1 0-8 0 2 0 9 0-15 0 13 1-6 0-6 0 12 0-11 1 14 0-11 0-2 0 0 0 5 0 2 0-9 1 2 0 12 0-7 0 3 0 0 0-1 1-7 0 5 0-7 1 14 0-15 0 1 0 6 0 1 1 4 0 3 0 0 1-15 0 1 0 9 0-3 0 6 1-5 0-6 0 0 1 6 0-1 1-1 0-4 0 6 0 6 1-10 0 11 0-14 1 11 0 1 0-10 2 5 0-1 0 9 0-6 1-6 0-3 1 4 0 8 0-10 2 0 0 10 1 0 3 1 1-3 1-10 0 3 0 4 1-7 2 9 0 4 7-4 2-3 1-6 0 7 1 6 1 1 5-5 2-10 1 11 5-7 3 22-156-8 23 9 5 2 2-7 1 0 1 9 1-5 1-1 0 1 0-10 0 14 1 1 0-1 0-6 1-3 0 5 1-9 0 9 1-9 0 12 0-10 1 10 0-1 0-9 2-2 0 1 1 7 1-4 0 5 0-4 1-2 0 6 1-9 0 3 0 8 0-4 1-3 0 5 0 4 0-12 1-1 0 5 0 8 0-10 0 6 1-4 0 0 0-4 0 7 1 5 0-10 0 12 1-5 0 3 0-10 0 7 1-9 0 2 0 0 1 6 0-10 0 7 0 9 0-8 0-4 1 8 0-9 0 12 0 1 0-2 1-10 0 3 0 7 0-2 0 0 1-9 0 5 0-6 0 10 0-2 0-8 0 9 0 3 0 1 1-7 0-4 0 5 0-3 0-3 0 7 0 3 0-6 0 2 0 3 1 1 0 0 0-5 0 6 0-8 0 0 0-1 0-4 1 4 0-2 0 5 0-6 0 4 0-2 0-1 1-2 0 3 0 6 0 1 0-4 0-4 0-2 0 6 0 8 1-11 0 6 0 4 0-8 0 8 0-2 0-11 1 14 0-11 0 10 0-6 0 0 0 0 0 5 0-6 0 8 0-13 0 4 0 4 0 3 1-6 0 4 0 4 0 0 0-11 0-2 0 9 0 2 0-2 0-6 0 4 1-6 0 5 0 0 0 7 0-10 0 2 0 0 0 4 0-10 1 5 0 8 0-9 0 8 0-4 0 6 0-7 0 0 0 8 0-6 1 0 0-3 0 5 0 3 0 0 0-15 1 15 0 1 0-3 0-3 0 1 0 1 0-5 0 1 0 4 0-11 1 7 0 5 0-13 0 1 0 5 0 4 0-4 0 9 0-12 1 4 0-4 0-3 0 3 0 6 0 5 0-10 0 7 0-1 0 4 0 0 0-12 0 12 0 2 0-6 0-5 0 0 0 9 0 1 0-7 0-6 0 3 1 0 0-3 0 11 0-9 0 7 0 5 0-4 0-2 0-5 0-3 0 7 0 2 0 1 0-1 0-4 1 4 0-2 0-2 0 4 0 4 0-3 0-11 0 8 0-9 0 13 0 2 0 1 0-13 0-1 1 5 0 5 0 2 0-12 0 4 0 5 0-3 0 5 0-10 0 8 0 2 0-10 0 1 0 10 0-1 1-10 0 5 0 1 0-7 0-1 0 9 0-1 0 2 0-3 0 2 0 4 0-5 0 0 0-6 0 12 1-12 0 5 0 0 0 0 0-2 0 8 0-10 0 7 0-5 0 7 0-2 0 0 0-4 0 9 0-6 0 2 0 2 1-14 0 7 0 5 0-10 0 2 0 5 0 5 0-4 0 3 0-4 1 5 0-8 0-2 0-4 0 13 0-12 0 1 0 12 0-11 0 5 0 3 0-4 0 1 0 4 0-1 0-10 0 13 0-9 0 2 0-3 0 9 0-13 0 2 1 9 0-9 0 3 0 1 0 1 0-3 0 2 0 5 0-5 0 7 0-4 0 0 0 5 0-1 0-12 0 7 1-7 0 14 0-7 0-8 0 1 0 11 0-6 0 8 0-14 0 13 0-9 0 3 0-3 0 11 0 0 0-13 1 4 0-3 0 8 0-8 0 4 0 3 0 2 0 1 0-11 0 7 0 0 1-1 0 8 0-9 0 1 0 4 0-2 0 0 0 5 0-10 1 8 0-5 0 3 0-9 0 10 0-10 0 9 0 5 0-4 0-7 0-5 0 4 0 4 0 6 0-2 0-10 0 0 0 4 1 9 0-12 0-3 0 2 0 8 0-1 0-8 0 4 0-1 0-3 0 2 0 6 0 6 0-1 1-12 0 11 0-4 0-8 0 3 0 7 0-8 0 6 0-3 0 4 1-6 0 1 0 4 0-7 0 9 0-7 0 7 0 2 0 1 1-1 0-12 0 8 0 7 0-6 0-3 0-3 0 0 0 0 0-3 0 10 1 1 0 0 0-12 0 14 0-3 0 1 0-2 0-5 0-3 0 12 0-7 0 6 0-2 0-11 0 16 0-14 0 13 1 0 0-2 0 0 0-6 0-3 0 1 0 9 0-5 0 7 0-13 0 4 0 8 1 0 0-9 0 2 0 2 0 5 0-4 0-4 0 5 0-5 0 4 0-4 1 0 0-1 0-3 0-3 0 3 0 11 0-6 1 7 0-11 0 5 0 6 0 1 0-15 0 15 0-7 0 7 0-9 1 9 0-10 0 6 0-5 0-3 0-3 0 5 0-4 0 12 0-8 0 3 1 1 0-10 0 13 0-4 0 6 0-11 0 0 0 4 1 3 0 4 0-1 0 0 0-4 0 3 0 2 0-1 0-13 0 10 0-8 0 12 0-13 1 9 0 1 0-9 0 0 0 4 0-5 0 4 0-5 0 7 0-5 0 12 0-8 0 7 0-7 1 1 0-5 0-3 0 8 0 4 0 0 0 1 0-2 0 5 1 0 0-5 0 3 0-3 0-2 1 6 0 0 0-1 0-10 0 1 0-3 0 6 0-4 1 8 0 2 0-11 0 5 0 0 0 3 0-10 0 3 0 9 0-6 0-3 0 10 0-2 1-4 0-3 0-3 0 1 0-2 0 10 0-5 0-1 0-4 0 8 1 5 0-13 0 4 0 4 0-1 1-3 1 1 0-4 0 3 0 11 0-9 1 7 0-2 0 2 0-14 0 14 0-7 1 8 0-5 1-8 0 9 0-7 0 11 0-9 1 1 0 1 0 2 1-5 0 2 0 5 1-8 0-2 0 2 1-4 0 8 0-8 1 9 0-8 0 7 0 3 0-10 0 12 1-6 0-5 0 8 0 0 1-3 0 2 0-2 0-2 1 7 0 2 1-9 0 6 0-10 0 3 1 8 0-5 0-1 0 10 0-10 0 5 1-6 0 1 2 10 2-5 0-2 0 3 1 2 0-13 0 12 0 1 0 1 1-7 1-5 0 3 2 9 0-5 2-9 1 9 1-4 1 6 3-1 1-1 1-1 4 1 0-8 1 2 0 4 1-3 3 8 0-5 8 17-136-9 3 2 2 6 6 3 4 1 0 2 1-13 0 13 1-10 0 10 0-3 0-6 1 1 0-4 1 6 0 2 1-1 0-1 1 6 1-11 1 0 1 8 1 0 0-8 1-2 0 13 0-1 0-12 1 1 2 9 0-8 1-1 0 8 0 0 1-1 0 4 0-3 0-1 0-2 1-5 0-1 0 6 0 5 0-10 0-2 0 1 1 6 0-3 0 0 0 2 1 6 0-1 0-10 0 14 0 1 0-8 0-1 0 1 0-2 1 10 0-4 0-4 1 2 0 2 1 2 0-3 0-7 0 9 1-11 0 12 0-8 0 8 0-14 0 15 0-15 0 13 0-12 0 3 0 10 0-10 0 7 0-6 1 4 0-4 0 0 0 2 1 6 0-3 0-4 0 8 0-7 0 4 1-4 0 4 0-6 0 4 0 0 0-5 0-2 0 8 0 1 0-8 0 4 1 3 0-4 0-4 0 13 0-6 0-1 0-3 0 1 0-5 0 2 1 5 0-7 0 1 0-1 0 10 0-6 0-5 1 6 0 5 0-5 0 5 1 3 0-4 0 2 0-5 0 1 1-4 0 10 0 0 0-6 0-7 0 13 0-4 0-6 0-1 0 8 0-10 0 0 0 4 1 3 0-1 0-2 0-3 0 6 0 0 0 1 0 7 0-3 0-4 0-1 1 6 0-9 0-4 0 8 0 3 0 4 0-12 0 10 0-4 0 0 0-6 1-4 0 1 0 3 0-3 0 12 0-9 0 8 0-9 0 4 0 0 0 1 0 3 1 2 0-5 0-3 0 0 0-3 0 12 0-7 0 2 0 6 0-7 0 6 0-6 0 4 0-4 0 6 0-8 1-5 0 9 0-4 0 2 0 8 0-12 0 5 1-5 0 8 0-5 0-2 0 6 0-2 0-6 0 7 0 0 0-5 0 3 0-4 0-2 0 2 0-1 1 4 0 6 0-5 0 2 0 6 0-7 0 1 0-1 0 3 0-8 0-3 0 7 0 5 0-6 1-1 0-4 0 6 0 5 0-1 0-8 0 2 0 1 0 6 0-2 0 0 0-4 0 5 1-9 0-3 0 15 0-12 0 11 0-9 0 2 0 3 0 4 1-7 0 8 0-1 0-11 0 10 0-11 0 8 0-1 0-8 0 8 0 5 0 1 0-8 0 6 1-7 0 7 0-8 0 8 0-7 0 10 0-2 0-12 0 12 0-5 0 4 0-3 0 6 1-9 0-3 0 12 0-11 0-2 0-1 0 13 0-8 0-2 0 1 0-1 0 7 0-9 0-1 0 11 1-1 0-4 0 2 0-10 0 14 0 0 0-7 0 8 0-13 0 6 0 2 0 0 0-9 0 4 0-3 0 11 0 2 1-5 0-2 0 7 0-1 0 2 0-8 0-5 0-1 1 10 0 2 0-11 0 12 0-7 0-8 0 6 0 6 0-7 0-2 0 9 0-12 0 6 1 10 0-10 0-1 0 9 0-2 0 3 0-7 0 6 0-13 0 13 0-12 0 13 0-5 0-8 0 7 1 6 0-7 0-7 0 5 0-3 0 12 0-5 0 3 0-6 0-2 0-3 0 1 0 7 0-7 0 10 0-1 0-5 1 3 0 5 0-12 0-1 0 0 0 12 0-11 0 5 0 6 0-5 0-5 0 0 0 6 0-8 0 3 0 5 0-8 0 8 0 0 0 4 0-1 1 2 0-15 0 1 0 1 0 14 0-14 0 7 0-3 0-2 0-2 0 4 0-5 1 10 0 4 0-8 0-3 0 10 0 1 0-10 0 2 0-2 0-3 1 12 0-12 0 0 0 1 0 11 0-3 0-11 0 6 0-1 0 2 0 9 0-5 0 5 0-13 0 10 0-12 0-1 1 4 0 4 0 7 0-6 0-1 0 3 0 4 0-14 0 4 0-3 0 2 0-2 0 4 0 5 0 2 1-1 0-11 0 2 0 1 0 8 0-7 0 0 0 8 0-11 0 0 0 0 0 6 0-2 1 2 0-8 0 14 0 0 0-12 0 6 0-4 1 7 0 1 0-6 0 0 0-2 0 3 0 7 0-14 0 3 0 12 0-5 1-4 0-6 0 11 0 4 0-12 0 2 0 2 0-1 0 5 0-8 0 4 0-7 0 3 0 7 1 5 0-5 0-5 0 0 0 8 0 0 0-7 0 4 0 4 1-4 0-4 0 4 0-6 0-2 0 10 0 3 0-12 0 13 0-2 0-8 0 0 0 2 0 4 1-2 0 6 0-15 0 12 0 1 0-4 0-5 0-1 0-3 0 3 0-3 0 0 0 9 0 2 0-2 0 6 0-14 0 9 0-10 1 15 0-4 0-9 0 1 0-1 0 7 0 5 0-11 0 5 1-3 0-4 0 0 0 14 0-1 0-2 0 2 0-15 0 3 1 8 0-5 0 8 0-8 0-4 0 10 0 3 0-15 0 1 0 12 0-12 0 0 0 9 0 2 0 1 0 0 0 3 1-9 0 1 0-6 0 5 0-7 0 9 0-6 1 12 0-6 0-2 1 2 0 5 0 2 0-10 0 9 1-5 0-5 0 3 0 3 0 4 0-8 1 0 0 8 0-8 0 1 0 3 0-8 0 4 0 3 0 3 1-7 0 2 0-4 0 0 0 1 1 4 0 7 0-8 0-6 1 13 0 1 0-14 0 8 0 0 0 3 0 1 0-2 1-11 0 3 0 6 0-3 0 7 0-2 0 4 1-6 0-2 0-1 0-3 0 1 0 5 0 2 0 0 1 0 0-3 0-3 0-5 0 13 1-7 0-6 0 4 0 0 0 2 0 0 0-6 1 1 0 11 0-8 0 3 0 4 0 0 1 0 0-3 0 2 0 5 0-3 0-11 1 13 0-6 0-5 0 11 1-1 0-9 0 4 1 4 0 1 0-12 1 4 0-6 0 12 1-2 1-1 0 4 0 0 1-12 0 6 0 5 0 2 1-12 0 3 0-4 1 14 1-1 1-3 1-5 0 2 2 1 1-7 0 10 0-3 0 1 0-7 1 6 1-8 0 12 1-9 1 7 2 5 1-11 6 4 10 0 8 16-142-4 0 7 4-3 0-4 6 1 2 2 0 8 0-3 2-3 2-9 0 7 1-3 1 1 2-5 0 2 0 3 1 2 2-3 0 5 0-1 2 5 1 0 0-5 0 0 1 0 1-2 1 2 0 4 2-7 1 0 0-4 0 14 1-6 1-8 0 2 0-2 0 10 1 3 0-14 1 4 0 5 0-7 0-2 1 1 0 2 0 9 0 1 1 0 0-11 0 12 1-7 0 0 0 0 0 4 0-2 1 0 1 4 0-8 0-5 1-1 0 1 0 9 1 5 0-5 0-4 0 1 0 3 0-4 1 6 0-10 0 0 0 3 1 10 0-13 0-2 0 4 0 1 0 6 0-11 0 4 0 4 0 8 0-8 1 6 0-6 0-6 0 7 0 0 0-5 1 11 0-5 0-4 1 8 0-1 0-3 0-7 0 7 0 2 0-4 0 4 0-11 1 0 0 10 0-1 0 4 0-11 0 12 0-4 0 5 0-13 0 11 0-8 1 7 0 2 0-12 0-2 0 11 0-6 0 6 0-3 0 0 1 4 0-2 0-9 0 7 0-9 0 13 1-10 0 9 0 0 0-8 0 10 0-13 0 9 0 0 0 3 0-4 1 1 0-1 0 2 0 3 0-4 1 4 0-13 0 7 0 6 0-1 0-8 0 6 0-1 0-10 0 15 1-10 0 10 0 0 0-10 0 8 0 1 0-14 0 0 0 4 0 3 0 2 0-2 1 7 0 1 0-1 0-8 0-4 0 13 0-9 0-1 0 3 0-3 0 4 0-1 0-2 1 5 0-1 0 1 0 2 0 3 0-4 0-4 1-4 0 0 0-2 0 4 0 5 0-7 0-1 0-2 0 1 0 2 0 0 1 2 0-1 0 1 0 4 0 6 0-5 0-2 0-4 0 0 0 2 0-1 0-3 0 12 0 0 0-4 0-10 0 12 0-2 1 2 0-13 0 5 0 4 0-7 0 3 0 8 0-1 0 2 0-4 0 0 0-5 0 7 0-3 0-2 0 0 0 3 0 5 1-10 0 7 0 3 0-1 0 1 0-3 0-1 0-1 0 4 0-14 0 3 0-1 0 8 0 2 0-4 0-6 0 13 0-10 1-4 0 4 0-2 0 10 0-12 0 8 0-3 0-3 0 1 0 3 0-2 0-4 1 10 0-2 0-9 0 10 0-4 0 1 0 4 0-9 0 7 0 1 0-1 1 3 0-2 0-7 0 11 0-14 0 12 0-2 0 2 0-10 0 0 0 11 0-2 0-3 0-3 0-3 0-1 0 9 0 5 0-8 0 7 1-2 0-4 0-2 0-5 0 1 0 9 0-1 0 2 0-1 0 0 0-3 0 7 0-5 0-4 0 1 0-3 0 9 0-6 0-4 1 5 0-5 0 0 0 10 0-4 0 6 0-14 0 7 0 1 0 2 0-5 0 7 0 1 0-8 0-5 0 12 1-1 0-6 0 4 0 0 0 3 0-1 0-11 0 10 0-7 0 1 0 1 0-5 0 10 0 3 0-7 0-1 0 5 0-8 1 10 0 0 0-7 0-3 0-1 0 5 0-5 0-1 0 3 0 8 0-8 0 4 0-4 0 11 0-5 0-3 1-1 0-4 0 12 0-9 0 3 0-7 0 8 0-6 0-1 0 6 0-8 0 12 0-1 0 0 0-8 0 8 1 1 0-11 0 14 0-9 0 3 0-6 0 10 0-8 0 11 0-3 0-5 0 5 0 3 0-16 0 12 0-4 0 5 0-13 1 15 0 1 0-10 0-5 0 10 0-7 0-2 0 5 0-7 0 10 0 3 0 1 0-6 0-5 0 10 0 3 0-8 0-6 0 14 0-10 0 7 0-2 0 1 0-12 0 16 0-1 1 0 0-7 0-5 0 11 0-9 0-4 0 9 0-7 0 1 0-1 0-3 0 4 1 7 0 1 0 2 0-3 0 3 0-12 0 0 0 5 0 4 0 4 0-14 0 2 0-3 0 4 0-3 0 3 1 10 0-5 0 2 0 1 0-9 0 4 0-3 0 6 0-6 0-3 0 2 0-1 1 7 0 0 0 2 0-9 0 12 0-2 0 0 0 1 0-4 0 1 0-9 0 14 0-13 1 0 0 14 0-1 0-6 0-6 0 10 0-12 0 2 0 3 0-4 0 4 0 4 0 5 0-2 1-8 0-1 0 4 0 4 0 4 0-11 0 6 0-8 0 9 0-2 0-6 0 4 0-7 0 5 0 10 1-10 0 0 0-3 0-3 0 10 0 1 0-7 0 3 0-3 0-2 0 7 0-2 0 4 0 5 0-10 0 6 0 3 0-10 0-1 1 11 0 1 0 0 0-3 0-1 0-10 0 13 0-3 0-4 0 5 0-1 1-9 0 13 0-10 0-2 0 10 0-6 0 5 0 3 0-10 0-2 1 9 0-4 0-1 0-2 0 2 0-2 0-1 0-1 0 7 0-2 1-9 0 15 0-3 0 3 0-4 0 4 0-4 0-5 0-3 0 6 0 4 0-8 1-4 0 1 0-1 0 3 0 11 0-8 0 6 0 1 0 0 1-4 0-1 0 1 0-1 1-3 0-2 0 9 0 2 0-12 0 10 0-4 0-6 0-3 0 15 1 0 0-11 0-1 0 4 0-3 0 9 0-7 0 5 0-1 0-8 0 6 0-6 1 7 0-6 0 10 0-6 0-6 0-1 0 9 1 1 0-3 0 3 0-1 0 2 0-10 0 4 0 10 1-1 0-10 0 10 0-11 0 5 0 5 0 3 0-8 0 3 1-8 0-1 0 4 0-2 0 11 0 0 1-1 0-14 0 7 0-4 0 1 0 3 0-5 0 12 0-10 0-2 1 14 0-4 0 2 0-4 0 5 0-11 0 4 0-5 1 9 0 4 0-12 0 9 0-8 1 1 0 6 0-10 0 3 0 10 0 0 1-5 0-10 0 9 0 6 0-14 1 0 0 9 0 2 0 4 0-5 0 4 1-13 0 12 0-8 0 6 1 3 1-15 0 11 0 1 0-6 0-5 1 5 0 1 0 9 1-7 0 2 0 0 1-4 0 2 0 3 0-8 1 3 0 5 0-6 1-1 1 9 0-8 0 1 0-3 1-1 0 9 0-10 1 2 0 0 1 1 0 5 0-9 1 0 0 14 0-10 0 4 2-3 2-4 1 10 0-11 0 7 0-3 0 7 1-7 1 10 1-8 0-1 5 10 7-4 6 5-129 3 2 8 2 2 2-3 0-9 1-1 2 9 2 2 1 1 0-3 2 2 0-4 1-7 0 3 1 1 2 6 0-2 1-7 0 10 0 2 1-1 2-8 0-3 1-2 0 12 0-2 1-2 0-1 0 0 1 2 0-7 1 4 0 3 1-4 0 1 0 5 0-4 0-1 0 5 1-8 0 12 0-12 1-1 0 13 1-5 0-4 0-5 0 3 0 1 1 2 0-7 0 5 0-3 0 6 0 2 0 4 1-13 1 11 0-5 0 1 1 0 0 6 0-13 0 5 0-4 0 12 0-13 1 4 0 9 1-6 0-1 0 8 1-14 0 0 0-1 0 14 0-10 0 9 1 1 0-10 0 9 0-13 0 14 0-10 0 8 1-4 0 3 0 3 0 2 0-6 0-1 0-1 0-3 0 7 1-5 0-5 0 7 0 6 0-7 1-1 0 1 0-8 0 6 0 10 0-15 0 7 0-1 0 6 0 1 1-2 0 2 0-2 0 3 0-13 0 3 0 9 0-4 0 2 0-9 0 13 0-1 0-4 0 2 0-3 0-2 1 2 0 6 0 0 0-2 0-5 0 3 0-2 0-5 0 6 0 2 0-10 1 6 0 0 0 7 0-1 0-15 0 10 1-2 0-4 0 4 0 8 0-3 0 2 0-7 0 1 0 5 0-9 0 10 0-9 0 8 1-6 0-8 0 3 0-1 0 10 0-2 0 2 0 2 0-13 0 15 1-8 0-6 0 0 0 2 0 5 0 5 0-9 0-3 0 14 0-5 0-6 1 0 0 11 0-3 0-12 0 6 0 2 0 6 0-7 0-6 0 3 0 3 0 5 0 1 0-2 0-10 0 6 0 7 1-6 0 1 0-1 0-1 0 5 0-13 0 15 0-14 0 7 0 2 0-6 0-2 0 8 0 3 0-8 1-1 0 10 0-2 0 2 0-10 0 0 0 6 0-5 0 0 1 7 0-3 0-2 0 7 0-9 0 3 0-1 0-1 0 9 0-11 0-2 0 0 1 11 0-6 0-3 0 7 0-2 0 1 0-10 0 14 0-5 0-6 1 7 0 6 0-11 0 4 0-9 0 13 0 2 0-11 0 0 0 1 0 8 0-13 0 12 0-4 0-2 0-3 0 5 0-3 1 0 0-4 0 0 0 2 0 8 0-3 0-4 0 8 0-12 0 8 0 2 0-5 0 9 0-13 0 0 0 2 0 4 0-2 0 10 0 0 0 0 1-15 0 13 0 0 0 2 0-2 0 2 0-13 0 14 0-10 0 9 0-1 0 2 0-6 1 2 0-12 0 11 0 0 0-9 0 3 0 7 0-4 0 0 0 8 0-10 0-4 0 12 0 2 0-15 0 8 0-9 1 1 0 9 0-9 0-1 0 2 0-1 0 11 0-5 0-4 0 11 0 2 0-14 0 1 1 4 0 9 0-11 0 6 0 2 0-10 0 0 0 7 0-6 0 4 1 3 0-3 0 6 0-2 0-10 0 1 0 6 0-2 0 9 0-11 0 3 0-8 1 8 0-6 0 12 0-7 0-2 0-4 0 4 0 10 0-9 0 3 0 6 0-6 0 0 0 2 1-1 0 1 0-9 0 0 0 3 0-1 0-4 0 6 0 6 0-7 0 3 0 7 0-3 0 1 0-6 0 2 0-1 0 1 0 2 0-11 0 13 0-12 0 9 1-5 0 9 0 0 0 0 0-9 0-3 0-1 0-1 0 6 0-4 0 0 0 13 0-12 0 7 0-6 1 11 0 0 0-14 0 2 0 9 0 1 0 1 0-11 0 0 0 2 0-1 1 1 0 10 0-14 0 13 0-9 0 3 0 3 0 0 0-8 0 1 0 9 0 2 0-5 0 1 0 1 0-11 0 9 0-9 1 14 0-10 0 3 0 7 0-12 0-2 0 15 0-13 0-1 0 8 1 5 0-15 0 9 0-6 0 6 0 5 0-10 0 1 0 6 0 0 0 1 0 2 1-13 0 12 0 3 0-13 0 4 0 1 0-7 0 0 0 0 0 8 0 6 0-6 0 4 0-9 0 5 0-7 1-1 0 7 0 6 0-2 0 4 0 0 0-3 0-6 0-4 0 4 0-4 0 2 0 0 0 8 0-12 0 10 0-9 0 1 1 10 0-8 0 4 0 7 0-7 0-2 0-5 0-2 1 3 0 12 0-3 0-7 0-4 0 4 0-2 0 0 0 0 0 2 0-1 0 1 0 8 0-11 0 9 0-9 0 2 0 0 0-3 1 10 0 4 0-5 0 1 0 0 0 1 0-8 0 2 0 1 0-3 1-3 0 12 0-11 0-1 0 11 0-5 0-4 0 3 0 8 0-6 0 1 0 6 0-5 0-5 0 7 0-9 0 8 0-8 0 3 1 8 0 1 0-1 0-6 0 3 0-9 1 13 0-1 0-7 0 3 0 0 0-9 0 0 0 8 0-5 0 8 1-5 0-4 0-1 0 6 0 3 0 3 0 0 0-10 0 1 0-5 0 5 1-1 0 11 0-14 0 5 0 6 0-8 0 3 0 8 0-10 0 9 0-4 0 2 0 3 0-8 1-5 0 12 0-13 0 12 0 3 0-11 0 9 0-10 0 4 0-7 1 7 0 5 0-7 0 3 0-8 0-1 0 5 0 10 0-7 1-2 0 10 0-2 0-4 0 0 0 5 0-12 0-1 0 10 0-1 0-4 0-3 0 7 0-10 1 12 0-2 0-11 0 14 0-6 0 3 0-2 0-6 0 6 0-7 0 1 0 4 1-6 0 9 0-3 0-1 0-3 0 9 0 3 0-11 1 10 0 1 0-14 0 7 0 6 0-4 1-5 0 2 0 0 0-5 1 14 0-6 0-7 0 4 0 9 1-3 1 3 0-1 0-15 0 13 0-8 1 8 0-12 0 0 1 11 0 3 0-14 0 11 0-7 0 7 0-1 1 1 0-7 0-2 0 9 1 2 0-3 1-5 1 4 0-6 0-2 0 1 0 10 1 2 0-4 0-1 1-5 1 6 0-10 0 12 2-4 1-6 1 11 0 0 1-6 1 5 1-9 0 3 0 4 1-7 0-3 1 12 0-12 1 4 0 2 3 5 3-12 0 7 0 8 1-6 0-4 3 4 6-7 4 5 4 11-129 1 6 6 0 3 2-4 1 4 5 2 0-9 6-4 0 3 1 6 1-1 0-5 1 7 2-11 0 6 1 8 1-13 0 3 0 1 0-5 0 3 1-2 0 0 0 12 0 2 1-5 0 0 0 0 0-4 1 10 0-9 1 7 0-12 1 13 0-13 1-1 0-1 0 10 0-9 1 12 0-10 0 3 0 9 0-9 1 0 0 10 0-13 0-1 1 1 0 6 0 5 0-9 0 0 0-3 0 5 1-5 0 8 0-5 0-5 0 2 0-1 0 14 0-2 0-8 1 1 0 3 0-2 0-5 0 0 0 2 0 5 1-3 0-5 0 10 0-3 0 7 0-8 0 8 0-10 1-4 0 10 0-6 0 10 1-3 0 1 0-12 0 2 0 5 1-3 0 2 0 4 0 5 0-6 0-10 1 1 0 6 0 4 0-9 0 10 0-8 0 0 0 6 1-8 0 2 0-1 0 2 0-4 0 14 1-8 0-5 0 2 0 0 0 8 0-11 0 4 0 8 0 2 0-9 0 10 0-15 0 9 1 3 0-12 0 10 0 3 0-13 0 9 0-8 0 13 1 1 0-10 0 4 0 5 0-1 0-9 0 9 0-2 0-3 0 5 0 0 1-4 0-10 0 5 0 8 0-8 0 9 0-13 0 10 0 3 0-3 0 4 1-6 0-5 0-4 0 4 0 6 0 2 0-7 0 1 0 2 0-4 0 6 0 1 0 1 0 1 1-7 0 3 0 5 0-14 0 2 0 11 0 2 0-4 0-3 0-6 0 4 0 1 0 9 0-15 0 0 0 7 0-6 1 12 0-3 0-6 0 5 0 1 0 2 0 1 0 1 0-10 0 7 0-12 0 15 0-1 1-3 0 2 0-8 0-3 0 2 0 5 0 1 0 0 0 3 0-10 0-1 0 2 0 1 0 6 0 4 0-6 0-6 1 5 0-6 0 6 0-3 0 6 0-2 0-6 0-2 1 14 0-2 0 1 0 2 0-12 0-1 0 13 0-4 0-5 0-3 0 5 0-4 0 4 0 5 0-2 0-1 0 0 0 0 0-7 0 10 0-6 0 6 0-1 1 2 0-9 0 10 0-1 0-12 0 9 0-10 0-1 0 7 0 8 0-6 0-8 0 5 0 1 0-1 1 8 0-13 0 1 0-1 0-1 0 6 0-4 0 6 0 1 0 5 0-12 0 5 0-7 0 8 0-7 0 5 0 6 1-2 0-2 0 3 0 3 0-11 0 10 0-7 0 2 0 5 0 0 0-12 0 6 0-7 1 8 0 2 0-10 0 1 0 14 0-15 0 4 0-4 0 5 0 8 0-13 0 14 0-14 0 6 0 4 0-10 1 9 0-8 0 1 0 6 0 1 0-7 0-2 0 6 0 4 0-9 0 13 1-7 0-8 0 7 0-2 0-5 0 5 0 5 0-4 0-6 0 7 0 2 0 3 0-7 0-2 0 4 0 3 1 6 0-7 0 0 0 0 0-6 0 4 0-3 0 6 0 3 0-3 0-8 1 12 0 1 0 0 0-10 0-4 0 12 0-8 0 0 0-5 0 9 0-5 0 3 0 0 0-5 0 10 0-1 0-6 0-2 1-1 0 12 0-3 0-9 0 2 0 4 0 1 0 1 0 0 0-1 0 4 0-4 0-8 0 2 0 10 0 0 0 0 0-6 0 6 1-4 0-8 0 12 0-11 0 0 0 7 0-8 0 14 0-3 0-11 0 1 0 7 0-8 0-1 0 3 0 13 0-8 0 3 0 0 0-8 0 12 1-11 0 8 0-10 0 3 0 9 0-8 0-1 0-4 0 6 0 8 0-9 1-1 0 3 0-7 0 0 0 15 0-10 0 9 0-7 0 4 0-10 0 13 0-1 0 2 0-11 0 4 0 6 0-14 0 12 1-9 0 10 0-11 0 7 0-4 0 1 0-6 0 11 0-7 0-1 0 4 0-7 0 1 0 12 0-14 0 7 0-1 0 4 0-9 0 4 1 3 0-1 0-5 0 13 0-12 0 5 0 0 0 4 0 0 0 3 0-3 0-1 1 4 0-9 0 3 0 4 0-8 0-1 0 2 0-3 0 2 0 10 0-10 0 2 0-3 0 8 0-9 0 8 0-1 0-7 0 6 1 6 0-3 0-5 0 8 0-2 0 1 0-3 0-6 0 2 0 6 0-3 0-1 0 6 0-8 1 1 0 2 0-1 0-6 0 10 0-4 0-2 0 5 0-1 0-1 0-8 0 13 0-4 0-4 1 9 0-16 0 5 0-2 0 7 0-6 0-2 0-2 0 15 1-12 0-1 0 14 0-5 0 4 0-9 0 6 0-8 0 10 0-4 1-7 0 5 0-6 0 3 0 7 0 3 0 0 0-14 0 9 0-2 0-8 0 13 0-7 1 1 0 6 0 1 0-2 0 3 0-4 0 3 0 1 0-4 0-3 0 0 0 1 0 7 0-8 1-4 0 6 0-10 0 3 0 5 0 5 0-4 0-4 0-5 0 2 0 0 0 3 1-5 0 12 0-3 0 1 0 3 0-3 0 2 0 2 1 2 0-15 0 4 0 5 0-2 0 5 0 0 0-10 0 11 1-14 0 0 0 12 0-10 0 7 0 6 0-7 0 2 0-7 0 10 1 1 0-12 0 11 0 1 0-6 1 4 0-6 0-1 0 9 0-3 0-7 0 6 0 5 1-1 0 1 0-4 0 5 0-8 0-1 0 0 0-1 0 2 0-1 0-4 0 3 1 5 0-7 1 3 0 0 0-1 0 1 0 4 0 0 0-8 1 11 0-6 1 4 0-9 1 13 0-5 1-2 0 5 0-6 0-2 0 6 0 3 0-5 0-6 1-3 1-1 0 11 0-11 0 2 1 12 0-3 0-2 0 2 1-7 0 8 0-10 1 7 0-3 0 5 1 4 0-9 0 2 0-4 2 9 1-4 0 1 0 6 0-7 1-9 2 13 0 2 1-9 2-6 0 5 1-5 0 1 2 10 2-8 0 8 1-10 0 0 1 6 1 4 0-6 0 7 1 1 6 9-108 2 2-5 1 5 2 5 2-9 1-4 0 8 1 1 0-5 1 1 0 6 2-9 1 10 2-8 0-2 1 0 0 5 1-4 0 12 1-13 0 7 1 1 0-1 0-7 0 4 0 8 2 2 1-11 0 1 0 2 0 4 0-6 1 3 0 0 0-3 1 1 1 1 0 5 0-5 0 3 0-5 1 5 0 3 0-10 0 8 0-1 1 2 0-3 0 0 0-5 0 8 1 2 0-15 0 11 1-4 0 1 0 4 0-2 0 3 1 3 0-3 1-3 0-7 0-1 0 7 0-5 0 11 0-9 0-6 1 9 0-9 0 6 0 4 0-6 0 4 1 0 0 8 0-9 0-4 0-1 0 13 0-4 0-4 0 9 0-10 0 3 1 6 0-11 0 2 0 5 0 0 0-1 1-8 0-1 0 13 0-7 0-3 0 1 0 3 0-7 0 10 0-1 0-2 0 2 0 4 1-11 0-2 0 13 0 2 0-7 1-1 0-8 0 10 0-8 0 13 0-4 0-1 0-2 0-5 0 9 0 0 0 3 0-11 0 7 1-11 0 2 0 6 0-3 0-2 0 3 0 4 0-7 1 12 0-5 0-8 0 11 0-7 0 5 0-9 0 0 0-1 0 9 0 2 0-5 0-7 0 7 1 3 0-6 0 6 0-1 0-7 0 8 0-5 0 2 0 3 0-9 0 12 1-1 0-3 0-2 0 7 0-11 0 5 0-6 1 10 0-1 0-5 0 0 0 9 0-12 0 5 0-5 0 11 0-7 0 6 0 3 0-13 0 12 0-1 0 2 0 0 0-14 0 11 1-7 0 1 0 8 0-9 0 2 0-8 0 1 0 1 0-2 0 15 0-14 0 6 0 5 0-10 0 6 0 1 0-8 1 3 0 5 0 6 0-12 0 6 0-1 0 5 0-7 0 1 0-2 0 1 0-4 1 8 0-9 0 8 0 3 0-9 0 3 0 9 0-2 0 0 0-13 0 2 0 8 1-3 0-7 0 4 0-3 0 4 0 7 0-5 0 3 0-10 0 4 0 10 0-3 0-3 0-5 1 4 0 7 0 1 0-11 0 10 0 1 0-8 0-1 0 3 0-6 1 11 0 1 0-7 0 1 0-5 0 3 0 4 0-3 0-1 0 1 0 6 0-10 0 4 0-2 0 9 0 0 0 0 0-3 0-1 0-5 0 2 0 5 0-12 0 13 0-9 0-3 0 6 1-6 0 5 0-2 0-4 0 14 0-6 0 6 0-7 0 7 0-4 0-1 0-1 0 3 0-8 0 10 0-10 0 6 1-8 0 14 0-12 0 7 0 1 0-11 0 5 0 8 0-1 0 2 0-13 0 0 0 1 0 6 0-2 0-1 0-3 0 3 0 9 1-11 0 8 0-4 0-1 0-5 0-2 0 0 0 11 0 4 0-8 0-3 0 12 1-9 0 4 0-1 0-9 0 11 0 2 0-6 0-3 0 3 0-3 0 2 0 8 0-13 0 6 0-2 1 7 0-4 0 6 0-1 0-13 0 11 0-6 0 7 0-11 0 10 0-5 0-6 0 8 0-6 0 2 0 10 0-8 0 1 0 6 0 0 1-14 0 9 0 4 0-10 0 2 0-5 0 6 0-4 0 9 0 4 0-12 1-2 0 11 0-6 0 7 0-4 0 2 0 0 0 0 0 2 0-4 0-8 0 10 0-7 0 9 0-9 1 7 0 1 0-6 0 9 0-6 0-5 0 0 0 2 0 6 0-9 0-2 0 7 0-3 0-4 0 13 1-13 0 7 0-3 0 6 0-1 0 4 0-5 0-4 0 9 0-13 0 11 0 2 0-7 0 4 0 0 0 0 0-8 0 1 0 8 1-11 0 8 0-4 0 0 0 4 0 1 0-9 0 7 0 1 0-5 0 11 0-8 0 9 0-3 0-12 0 9 0-1 0-2 0 8 0-6 1-1 0 1 0-1 0-4 0 10 0-5 0-9 0 10 0 1 0-4 0 0 0-4 0 4 1 1 0 4 0 1 0-9 0-3 0 8 0-6 0 0 0 7 0 2 0-11 1 11 0-4 0-6 0 4 0-1 0 4 0 6 0 1 0-6 0 0 0-10 0 12 0-2 0 2 0-2 0-3 0 1 0 6 0 0 0 1 1-9 0-3 0 0 0 6 0 7 0-10 0 9 0-6 0-8 0 2 1 11 0-1 0 0 0 2 0-8 0 6 0-1 0-12 0 15 0-15 0 15 0-10 0-1 0 5 0-7 0-2 0 0 0 8 0 7 1-10 0 9 0 1 0-5 0-7 0 3 0 0 0 1 0-5 0 13 0-1 0-11 0 10 0-11 0 4 0-5 0 1 1 5 0 1 0 7 1-5 0-4 0 4 0-1 0-2 0 2 0 2 0 0 0-7 0 0 1 5 0 5 0-2 0-9 0 5 0-4 0 4 0-5 0 11 0-6 0-3 0-5 0 13 1-12 0 1 0 11 0 2 0-15 0 1 1 3 0-4 0 10 0-8 0 5 0-4 0 8 0-11 1 6 0 5 0-6 0-4 0 6 1-6 0 15 0-14 0 9 0-6 0 3 1-4 0 8 0-11 0 3 0 11 0-10 0 8 1-10 0 2 0 6 0-5 0 6 0-6 0-6 0 3 0-3 1 2 0 3 0-1 0 10 0-13 1 2 0 1 0 6 0-8 0 6 1-4 0 2 0-4 0 13 0-11 0 6 1-6 0 0 1 10 0-8 0 3 0 2 1 1 0-10 0 9 0-7 0-3 1 10 1 2 0-13 1 12 0-8 0 6 1 2 1 3 0-14 1 13 1-12 0 3 1 0 2 6 0-8 1 13 1-13 0 3 1-4 1 11 1-10 1 4 0 1 3 0 1-7 1 6 4 3 0 2 2 7-115 5 18-5 1 6 2 0 2 6 1-2 2-3 2 4 1-2 0 0 0-7 1 3 0-8 0 13 1-7 0-4 1 10 0-12 0 1 0 4 0-3 1 13 0-3 1 2 0-11 0 8 0-6 1 4 0 4 0-12 0 7 0-3 1 11 0-13 0-3 0 13 0 2 0-6 0 1 0-8 1 9 0 3 0-12 0 11 0 0 0-5 0-5 0 6 1-2 0-5 0 0 0 9 0-6 0 2 1 5 0 4 0-7 0-1 0 3 0-4 0 4 0-8 1 1 0-1 0 12 0-7 0 5 0 1 0-6 1 7 0-5 0 5 0-11 0 1 0 2 0-6 0 8 1 4 0-13 0 12 0-2 0-6 1 3 0-3 0 10 0 0 0-9 0-4 0-1 0 8 0 5 1-4 0-5 0 11 0-6 0-7 0 7 0 2 0 2 0-1 0 4 1-9 0 6 0 0 0-4 0 2 0 1 1 2 0-10 0 8 0-8 0-1 0 9 0-7 0 10 0-12 0 6 0 4 0 3 0-7 0 0 0 4 0-4 1-5 0 8 0-8 0 5 0-9 0 14 0 0 0 2 0-1 0-8 1-7 0 7 0-6 0 12 0-4 0-1 0 6 0-13 0 0 0 9 0 2 0 3 1-14 0 6 0-4 0 2 0 9 0-9 0 3 0 3 0 4 0 0 0-9 1 5 0-10 0 7 0 7 0-15 0 4 0 6 0 2 0-5 1 6 0-3 0-5 0-4 0 1 0 2 0 6 0 0 0-3 0 8 0-5 0-9 0 3 0 6 0 4 1-10 0 9 0-11 0 14 0-12 0-4 0 14 0-11 0 8 0-6 0 9 0-7 0 7 0 1 0-11 0 3 0-5 0 3 0 4 1-4 0 5 0 1 0-7 0 2 0-5 0 4 0 8 0-7 0 4 0 5 0-10 0 1 1 4 0-4 0 1 0 6 0-1 0-7 0 5 0 2 0 0 0-9 0 13 0-12 1 12 0 0 0-5 0 4 0-7 0-2 0-4 0 11 0-6 0 8 0-13 0 6 0-4 0 7 0-3 0-4 0-3 0 3 0-1 1 2 0 6 0-9 0 10 0-3 0 5 0-8 0-3 0 1 0 0 0 7 0-6 0 0 0 2 0 4 0 3 0 1 0-5 1-4 0 9 0 1 0-7 0 4 0-10 0 12 0-5 0 0 0 4 0-7 0 8 1-8 0 8 0-1 0-7 0 2 0-2 0-3 0 5 0 5 0-8 0 3 0-3 0 6 0-3 0 2 1 0 0 4 0-9 0-5 0 5 0 8 0 2 0-13 0 0 0 0 0 2 0-3 0 1 0 4 1 0 0-4 0 9 0 0 0 0 0 2 0-6 0 2 0 2 0-5 0-3 0 5 0 0 0 4 0-2 0-1 1 4 0 0 0-9 0 1 0 6 0-9 0 2 0 9 0-3 0-3 0-4 0 10 0-14 0 8 0-1 0 8 0-13 0 13 0-9 1-3 0 1 0 11 0-14 0 13 0-2 0-11 0 6 0 4 0-11 0 8 0 4 0 4 0-8 0 6 0-10 0 11 0 1 1-2 0-12 0 7 0 3 0-3 0 0 0 5 0 1 0-9 0-3 0 8 0 2 0-7 0 1 0-7 0 4 0-2 0 13 0-7 0-7 0 5 0-5 1 7 0 7 0-5 0 5 0-14 0 11 0-9 0 0 0 5 0 7 0 0 0-2 0-3 0-9 1 13 0-7 0 6 0 0 0-12 0 1 0 9 0 2 0 0 0-9 0 2 0 7 0-10 1-2 0 13 0-6 0 3 0 3 0-2 0-10 0 7 0 5 1 1 0-13 0 8 0 5 0-7 0-6 0 4 0 10 0-6 0-8 0 7 0-8 0 0 0 0 0 13 0-13 0 0 1 13 0-2 0-12 0 14 0 1 0-6 0-6 0 11 0-6 1 3 0 4 0-7 0-2 0 1 0-2 0 5 0 2 0 2 0-11 0 4 0-5 0 5 1 5 0-1 0-10 0 4 0-4 0 4 0-3 0 6 0-5 0 10 0-3 0 4 0-4 0-10 0 4 0 9 1-10 0 2 0 5 0-7 0-2 0 7 0 5 0-1 0 3 0-4 1-3 0-8 0 2 0 11 1-4 0-5 0 6 0 0 0 4 0-13 0 3 0 0 0 12 0-3 0-9 1 8 0-8 0 8 0 2 0-10 0 5 0-3 0 0 0 0 0 9 1-3 0-12 0 3 0-1 0 11 0-5 0-3 0 9 0-5 0-2 0 4 0 1 1 4 0-16 0 1 0 7 0-1 1 8 0-2 0-8 0 9 0-11 0 5 0 3 1-9 0 4 0-5 0 2 0 1 0 0 0 1 0-1 0 2 1-3 0 1 0 4 0 4 0-4 0-6 0 4 0-6 0 14 1-9 0 1 0-3 0-2 0 6 1 4 0-3 0 4 0 1 0-12 1 8 0 6 0-12 0 3 0 9 0-1 1-9 0 6 0 3 0 1 0-6 0 3 0-11 0 6 1 7 0 0 0-6 0 7 0-7 0 4 1-3 0-6 0 8 0-7 1 11 0-11 0 1 1 2 0 2 0-5 1 6 0-2 1 7 0-13 1 2 0-4 0 5 1 0 0 2 1 8 0-7 1-1 1 2 1-4 0-3 1 3 0 9 1-8 1 0 1 3 0 7 0-7 1 1 1 2 0-5 0 6 1-13 2 14 0-8 2 3 1-7 0 0 10 4 5 20-108-4 5 4 2-1 1 3 0-4 1-5 0 6 1-5 0 3 1-6 1 11 2-8 0 11 0-10 1-4 1 1 0 7 1 4 0-9 0 9 0-2 1-6 0 5 0 0 0-4 0 5 1-5 0 1 0 2 0-5 1 3 0-5 1 14 0-13 0 5 0 3 0-8 0 11 1-9 0 6 0-2 0 1 0-1 1-5 0 7 0-10 0 9 0-4 0 3 1-4 0 9 0-11 0 4 0 5 0 1 0 3 0-13 1 9 0 1 0 0 0-5 0-8 0 1 0 6 0-6 1 2 0 12 0-1 0-12 0 13 0-9 0 4 0-4 0-1 0 10 0-2 0-12 0 8 0 3 1-11 0-1 0 11 0-7 0 6 0-2 1-7 0 2 0 1 0 5 0 0 0 5 0-7 0 0 0-2 1 7 0-6 0-3 0 4 0 6 0-11 0 8 0-9 0 5 0 4 1-5 0-2 1 3 0-5 0 2 0 1 0-2 0 13 0-6 0-3 0 5 0-1 0-8 0 13 0-6 0 3 0 2 1 1 0-4 0 2 0-12 0 6 0 8 0-12 0 8 0-3 0-1 0-1 1-3 0 0 0 4 0-6 0 5 0 3 0-4 0 1 0 4 0-4 0 8 1-4 0 1 0-3 0-1 0-4 0 4 0-6 0 0 0 4 0 0 0 8 0-1 0-5 1 7 0-2 0 0 0-3 0 3 0-6 0 7 0-11 0-1 0 9 0-2 0-5 1 1 0 6 0-9 0 7 0 2 0-9 0 2 0 8 0 0 0-4 0 2 0 6 1-6 0-2 0 0 0 6 0-1 0-4 0-2 0-2 0 1 0 1 0-5 1 4 0 1 0 7 0-2 0-3 0 7 0-2 0-8 0 4 0-5 0-3 0 7 0-7 0 0 0 1 0 2 0-4 0 15 0-4 0 0 0-5 0-2 0 0 0 8 0-11 1 6 0 9 0-7 0 5 0-9 0-5 0 2 0-1 0 9 0 4 1-7 0 0 0-1 0-4 0 1 0 7 0 5 0 1 0-8 0-4 0-2 0 7 0-8 0 12 0-12 0 6 0 5 0-8 0 10 0-10 0 5 0-2 1-2 0 7 0 1 0-5 0-7 0 3 0-2 0 13 0-11 0-4 0 4 0-2 0 1 0 11 0-7 0-2 0 2 1 1 0-2 0 5 0-1 0 4 0-13 0 12 0-1 0-10 0 10 0-6 0 3 0-1 1 6 0-14 0 9 0-1 0-1 0 0 0 7 0-10 0-4 0 9 0-6 0 6 0-5 0 8 0-2 0 2 0-5 0-2 0 1 0 9 0-11 0 9 0 3 0-6 0-3 1 9 0-7 0-7 0 11 0 0 0-7 0-4 0 4 0 5 0-4 0 8 0-1 0-8 0-2 0 0 0-3 0 1 0 4 1-3 0 1 0 2 0-3 0 1 0 1 0-3 0 0 0 0 0 7 1 2 0 1 0-9 0 4 0-4 0 10 0-6 0 6 0-9 0 10 0-8 0-3 0 10 0-5 0 7 0-12 0 4 0-3 1 8 0-9 0 8 0-2 0-9 0 3 0 3 0 1 0 4 0 4 0-10 0 9 0-5 0-2 0 5 0-1 0-11 0 1 1 5 0 7 0-10 0 0 0 7 0-8 0 6 0 7 0-8 0-2 0 10 0-15 0 11 1-4 0 0 0 9 0-9 0 4 0-3 0-7 0 8 0-7 0 4 0 2 0 2 0 3 0-1 0-9 0 9 0-3 1-6 0 1 0 3 0 2 0-5 0 3 0-2 0 4 0 4 0-2 0-7 0-4 0 13 0-7 0 0 1 2 0 5 0-12 0 1 0-2 0 2 0 2 0-2 0 0 0 6 0-5 0-3 0 14 0-2 0 3 0-13 0 10 0-8 0 7 0-2 0 3 1-2 0-7 0 13 0-7 0-1 0-6 0 5 0-2 0 11 0 0 0-6 0 3 1-1 0-6 0-4 0 11 0-12 0 5 0 6 0-10 0 13 0-7 0-2 0-3 1 10 0-10 0 12 0-3 0 0 0-10 0 14 0-6 0 4 0-11 0 9 0-1 0 4 0-1 0-6 0 5 1-6 0 0 0 9 0-1 0-3 0 3 0-11 0 7 0-9 0 12 0-6 0 2 0-6 0-1 0-1 0 14 0-4 0-12 0 4 1 4 0-3 0 1 0-3 0 6 0-3 0 0 0 3 0 4 0-9 0 5 1-3 0-2 0-3 0 8 0 2 0-4 0 8 0-9 0 1 0 2 0 2 1-4 0-3 0 4 0 4 0 0 0-4 0 7 0-11 0 4 0 3 0-2 1 5 0-1 0-7 0 8 0 0 0-6 0-3 0-2 0 3 0 2 0 7 1-11 0 2 0 4 0 2 0 2 0-11 0-1 0 3 0 1 0-3 1 5 0-7 0 12 0 0 0-4 0 1 0 1 0-7 0 4 0-1 0-5 0 2 1-3 0 1 0-2 0 7 0-5 0 2 0 7 0 2 1-12 0 4 0 7 0 0 0-7 0 10 0-2 1-9 0 11 0-9 0 4 0 5 0 0 0 1 0-15 0 5 1 10 0-15 0 10 0 1 0-7 0 9 0 0 0-5 0 5 1 1 0-2 0 2 0 0 0-2 0-12 0 7 0 3 0-3 1 2 0 4 0-8 0 1 0 6 0-8 0 5 0-1 0 2 1 1 0-5 0 6 0-6 0 3 0-9 0 15 1-7 0-8 0 2 0-2 0 8 0-3 1 2 0 5 0-12 0 9 1-6 0-2 1 13 0-3 1 4 0-4 1-7 0 5 0-1 0 4 0-5 2 1 0-2 1-6 0 10 0-2 1-7 2 5 0 1 2-1 0-2 0 3 0-4 1-2 0 10 1-6 3 5 1-10 2 6 2 8 3-7 1 5 1-5 1-7 5 12 1 16-107 3 0-1 0 1 1-12 4 12 1-11 1-2 3 13 0-2 3-3 0-9 4 11 1-1 1-5 0-2 1 7 0-4 0-8 2 4 0 4 1-1 1-6 1 9 0-6 1 2 0 5 0 0 1-3 0 6 0-14 1 16 0-1 0-15 0 11 0-7 0 5 0-3 0-5 0 5 1-2 0 10 0-11 1 11 0-14 0 10 0-3 1 0 0-1 1 9 0-1 0 2 0-6 0 0 0-6 0 0 1 11 0 0 0-7 0 6 0-10 0 6 0-6 0 1 0 10 0 0 0-6 0-2 1 2 0 2 0 1 1-4 0 6 0-5 0 2 0-1 0 1 1-7 0-4 0 9 0-8 0 3 0 2 0 3 0 3 0-12 1 3 0 0 0 12 0-1 0-10 0-2 0 8 0 1 0-11 0 4 0 11 0-12 0 7 1-3 0 7 0 0 0-2 0-12 0 8 0 1 0-3 0-3 0 11 0-8 0 5 0 1 0-7 0 0 0-3 0 5 1-7 0 1 0 8 0 0 0-1 1 6 0-10 0 0 0 10 0-12 0 11 0 0 0-11 0 8 0-8 0 5 0 7 0-10 0 3 0 0 0 4 0-5 0-3 0 7 0-4 1 10 0-3 0-12 0 2 0-2 0 13 0-3 0 1 0 1 0-12 0 11 0-8 0 3 0-5 0 2 0 1 1 7 0-6 0 4 0-6 0 11 0 0 0-6 0 3 0-9 0 3 0 0 0 4 0 1 1 3 0-4 0-8 0 10 0-10 0 3 0-3 0 13 0-5 1-7 0-1 0 12 0-5 0 6 0-9 0-1 0 7 0 2 0 2 0-12 0 5 0 0 0 6 1-8 0-2 0 8 0-10 0 1 0-3 0 10 0-2 0-4 0 4 0-6 0 8 0 3 1-7 0 0 0-2 0-2 0 2 0 1 0 0 0 2 0-5 1 6 0 6 0-10 0 5 0-8 0 0 0 5 0 4 0 3 0-13 0 10 0-7 0 1 0 5 0-3 0-1 0 6 0-1 0 4 1-11 0-2 0 9 0 4 0-14 0 14 0-4 0-8 0-3 0 5 0-2 0 5 1 1 0-7 0 5 0 5 0-2 0-3 0 1 0-2 0-1 0 2 0 6 0 0 0 2 0-12 0-2 1 8 0 4 0-8 0-2 0 10 0-3 0-2 0 0 0-5 0 6 0 1 0-6 0 1 0 0 1-4 0 7 0 3 0-1 0-3 0 1 0 2 0 0 0-10 0 12 0-9 0 6 0-2 1 2 0-3 0-3 0 3 0 10 0-1 0-5 0-3 0 2 0 5 0-14 0 6 0-1 0 1 0 5 0 5 0 0 1-5 0 1 0-6 0 4 0-5 0 1 0 3 0 5 0 2 0-9 1 3 0 1 0-4 0 1 0 2 0-10 0 13 0-8 0 10 0 0 0-9 0 4 0-7 0 7 0-9 0 13 0-9 0 2 0 6 0-6 0 8 0-1 1 1 0 0 0-10 0 2 0 5 0-10 0 4 0 2 0 2 0-8 0 9 0-2 1-1 0-7 0 11 0 0 0-1 0 3 0-2 0-11 0 10 0 4 1 0 0-3 0-9 0 1 0 4 0 7 0-2 0-9 0 2 0 1 0 5 0-1 0-11 1 4 0 4 0-3 0-3 0 2 0-3 0 6 0-2 0 10 0-11 0 0 0 2 0-2 0 9 0 1 0-9 0-2 0 4 0-4 0 4 0 2 1 0 0-6 0 5 0 2 0-4 0-2 0 8 1-6 0-4 0 9 0-9 0 13 0-10 0 6 0-8 0 12 0-12 0 4 0 2 0-1 0-8 1 12 0-9 0 4 0 8 0-11 0 12 0-11 0 9 0-2 0 4 1-12 0 7 0-3 0 0 0-8 0 7 0 4 0 3 1 2 0-14 0 2 0 7 0 2 0-7 0 7 0 1 0-11 0-2 0 14 0-7 0-1 0-7 0 2 0 9 1-7 0 3 0 0 0 4 0-1 0-8 1 9 0-5 0-5 0 0 0 8 1 2 0-9 0 12 0 0 0 0 0-5 1-1 0-1 0 2 0 3 0-2 0-7 1 5 0-4 0-1 0 2 0-1 0 8 1 1 0-3 0-2 0-5 1 0 0 2 1-3 0 3 0-1 0 1 0-1 1 2 0 1 0 8 0-7 1-1 0 6 1 2 0 1 0-3 0-6 0 7 0 0 0-13 1 10 0-6 0 7 1-11 1 6 0 3 1-2 0-3 3 2 0 6 0-8 0-4 0 8 1-8 4 5 2 8 14 13-97 4 2-12 0 12 2-13 0 3 3 2 4-4 0 4 0-5 1 5 1-6 0 12 1-7 0 9 2 0 2-14 1 2 0 11 0 2 1-13 0 2 0 10 0-6 2-3 1-5 0 7 0 0 0-7 0 12 1-12 0 0 0 9 1 3 0-6 0-5 0 8 0 1 1-4 0-6 0 2 0 9 1-4 0-6 0 6 0 5 0-13 0 11 0-1 1-9 0 8 0-7 0 3 0 9 0-2 1 1 0-11 0 10 0-7 0 8 0-7 0 0 0 1 0-4 1 9 0-2 0 2 0-12 0 12 0-9 1 5 0 5 0-3 0 5 0-11 0 0 0-2 0 11 0 2 1-5 0 3 0-12 0 0 0-1 0 2 0 11 0-8 0 0 0 6 0 5 0-15 0 6 1 4 0 1 0-10 0 1 0 8 0-11 0 7 0 2 0 1 0 5 0-3 1 3 0-8 0 6 0-4 0 5 0-10 0 12 0-6 0 5 0-3 0-1 0-1 0 5 1-5 0-9 0 12 0-4 0-9 0 13 0-9 0 10 0-7 0-3 0 1 0 9 0-5 1 2 0-3 0-3 0 2 0 7 0-1 0-2 0 2 0-9 0 2 0-3 1 7 0 6 0-6 0-1 0-5 0 9 0-6 1 1 0 6 0-14 0 11 0 3 0 0 0-10 0 5 0-1 0 4 0-4 0-7 0 8 1-2 0 0 0-5 0 5 0 2 0-5 0 5 0 5 0-10 0 2 0-3 0 5 0 4 0-7 0 10 0-2 0-5 1 0 0 3 0-8 0 5 0 3 0-10 0 5 0-4 0 2 0 5 0-2 0-1 0 2 0-4 0 4 0 4 0-3 0-6 0-2 0 5 0-6 0 5 0 1 0 5 1-8 0 13 0-1 0-11 0 1 0 2 0-5 0 8 0-7 0 1 0 6 0 4 0-8 0-4 0 8 0 4 0-9 0 0 0-4 0 5 0 6 0-11 0 14 1-12 0 2 0-1 0 3 0 0 0 9 0-7 0-5 0 9 0-1 0-11 0 0 1 7 0 6 0-9 0 8 0-2 0-9 0 11 0-6 0-4 0 13 0-16 0 5 0 8 1-2 0 3 0-10 0 11 0-3 0-5 0-4 0 8 0-9 1 11 0-2 0 4 0-1 0 2 0-11 1 5 0-2 0-1 0-2 0-4 0 8 0-2 0 4 0-5 0-5 0 10 0-11 0 12 0 0 0-4 0-8 0 14 0-1 1 3 0-3 0-2 0 1 0-6 0-2 0 1 0 8 0-11 0 3 0 3 0 4 1-10 0 11 0-12 0 14 0-4 0 2 0-10 0-3 0 1 0 7 0 2 0-2 0-4 0 11 0-5 1-7 0-2 0 0 0 8 0-7 0 6 0 5 0-8 0 5 0 4 0-7 1-7 0 7 0 5 1-6 0-2 0 11 0-10 0 2 0 3 0 0 0 2 0 2 0-5 0 3 0 3 0-2 0-3 0 3 1-2 0-4 0-4 0 11 0-1 0-11 0 8 1 1 0-8 0 5 0-5 0 4 0-4 0 7 0-6 0 2 0 6 1 0 0-9 0 4 0-7 0 4 0 3 0 6 0 1 0-14 0 0 1 5 0 3 0 2 0-4 0 7 0-4 0-5 0 3 0 4 0 1 0-2 0-7 0 6 0 0 1 6 0-13 0-1 0 3 1-2 0 7 0-6 0-3 0 4 0 6 0 3 0-6 0 1 0 2 1-5 0 5 0 5 0-14 0 5 1 5 0-9 0-2 0 2 0 12 0-1 0-5 0-8 0 0 1 4 0 9 1 1 0-8 0 8 0-11 0-2 0 13 1-6 0-3 0 3 0-1 0 3 0 3 0 1 1-10 0-1 0 3 0 9 0-10 1 3 0-4 1 2 0 10 0-1 0-12 1 8 0 4 0-7 0 2 1-3 0-3 1 2 1 4 0 2 0-10 0 10 0-1 0-5 1 8 0-10 1-4 1 12 0-9 0 12 0-10 1-1 0 11 1-15 0 7 1 7 1-4 1 1 0-7 1 7 2 5 2-5 1-2 2-5 1 10 3 4-91 12 5-9 0-3 8 9 2-3 0 1 1 7 1-15 1 9 1-7 1 0 1 9 0-7 1-3 0 6 1-8 0 1 2 3 1 4 0 3 0 2 1-8 0 0 0 3 0-7 1 1 0 4 0-1 0-4 0 13 1-8 0-5 0 3 0 0 0-1 0 8 1-9 0 2 0 1 1 1 1 3 0-4 0 7 0 3 0-4 0 4 0-6 0 5 0-10 1 9 0 3 0-8 0-4 0 9 0-4 0-1 0 0 1-7 0 2 0 11 0 1 0-4 0-10 0 1 0 2 0 9 0 0 1-2 0-7 1-2 0 12 0-11 0 2 0 9 0 1 0-6 0-6 0 5 0 3 1-5 0-1 0 4 1-2 0 2 0-2 0 0 0-1 0 7 0 2 0-7 0 3 0-4 0 0 0 7 0-10 1-2 0-2 0 12 0-8 0-2 0 4 0 5 0-1 0 5 0-11 0 9 1-10 0 8 0-3 0 7 0-5 0-3 0 1 0 1 0 5 0-5 0 5 0 0 0-9 0-4 1 2 0 4 0-1 0-4 0 4 0 8 0-2 0 2 0-13 0 9 1-4 0-3 0-2 0 7 0 8 0-7 0 6 0-14 0 5 0 8 0-2 0 0 0-7 0 4 1 1 0-10 0 8 0 1 0 6 0-3 0 1 0-1 1-9 0 1 0 9 0-6 0 1 0 7 0 0 0-14 0 6 0 2 0-2 0 5 0-1 0 2 1-8 0 0 0 11 0-7 0-3 0 4 1 5 0-12 0 1 0 6 0 1 0-9 0-1 0 14 0-2 0-9 0 2 0 3 0 6 0-8 0 2 0 1 0-4 0-4 0 6 0 4 0-12 1 12 0-4 0-4 0 5 0-4 0 10 0-6 0 4 0 3 0-11 0 7 0-2 0-8 0 6 0 0 1 3 0-2 0-5 0 3 0-4 0-1 0 1 0 4 0-3 0 1 0 4 0-4 0-3 0-1 1 8 0-8 0 7 0 7 0-5 0 0 0-6 0 1 1 4 0-1 0-3 0-1 0 9 0 2 0-10 0 8 0-12 0 10 0-5 0 1 0-7 0 3 0 6 0-4 1-1 0 4 0 0 0 4 0 4 0-7 0 5 0-8 0 0 1 10 0-8 0-8 0 5 0 4 0 0 0-2 0 5 0-10 0 12 0 1 1-6 0 0 0-7 0 1 0 12 0-9 0-3 0 1 1 5 0-9 0 11 0 4 0-12 0 13 0-6 1-1 0 1 0-3 0-4 0 9 0-2 0 3 1-10 0 1 0 7 0 4 0-8 1-5 0 0 0 1 0 3 0-2 0 2 0 3 0-6 0 6 0-6 1 11 0-10 0 11 0-13 0 14 0-16 1 9 0-6 0 12 0-9 0 5 1 0 0-9 1 6 0-6 0-1 1 0 0 3 0 8 0 3 0-12 0 12 0-4 0-11 0 4 1-2 0 8 0-5 1 0 0-4 0 9 0 5 0-11 1 12 0-10 0 10 0-3 0 0 0-2 1-10 1-1 1 11 3-4 0-2 2 8 0-12 1 3 0 3 0 3 0-2 1-1 1-6 0 2 2 0 1 28-67-4 2-9 1 7 2-6 1 8 4-6 0 3 0 4 1-1 0-7 1 4 1 3 0-3 0 5 0-12 1 0 0 13 0-8 1-3 1 1 0 4 0 2 0-3 0 3 0-8 1 14 0-6 1-6 0-2 0-1 0 14 0-2 1 1 0-2 0-10 1 3 0 1 0-3 1 1 0 7 0 3 1-12 0-1 0 11 0-3 0 2 0-3 0 3 0-3 1 7 0-6 0 7 1-13 0-3 0 1 0 8 1 7 0-14 0 7 0 5 0-11 0 5 1-5 0 5 0-2 0 3 0 5 0-2 0-5 0 4 0-6 0 6 0-9 0 4 0-3 0 0 0 11 0-3 0-9 1 7 0-2 0-4 0 10 0 2 1-13 0 10 0-3 0 4 0-8 0-1 0 2 0 4 1-7 0 12 0-15 0 0 0 11 0-5 0-4 0 1 0 5 0-7 1 10 0-5 0 1 0 6 0-1 0 0 0-11 0 2 0-3 0 4 0 7 1 4 0-13 0 9 0 1 0-1 0 0 1-3 0-1 0-2 0-2 0 1 0 3 0 0 0-4 0 0 0 4 1-5 0 11 0-8 0-1 0 10 0-1 0-13 0 2 0 4 0 9 0-12 0 1 0-1 0 4 0-4 0 2 0 1 0 4 1 5 0-3 0 3 0-6 0-5 0 5 0 2 0 1 0-4 0-8 0 0 0 5 0-5 0 2 1 10 0-3 0-4 0 0 0-1 0 3 0 2 0 1 0-8 0 5 1-2 0 5 0-7 0 11 0 2 0-1 0-14 0 8 0 4 0-8 0-2 0 11 1-1 0-2 0-8 0 10 0-12 0-1 0 8 0-5 0 10 0-1 0-5 0 8 0-10 1-5 0 12 0-6 0 6 0-1 0 2 0-1 0-10 0 1 0 1 1 8 0-3 0 3 0-6 0 6 0-8 0 8 0-5 1 6 0-4 0 3 0-9 0 0 0-1 0 5 0 5 0-6 1-1 0-2 0 4 0-1 0 1 0-4 1-3 0 4 0-3 0-1 0 11 1 0 0 4 0-12 0-3 0 11 0-3 0 7 1 1 0-9 0-5 0 9 0-2 0-6 0 3 0-1 0 8 0 1 1-8 0-4 0 13 0-2 1-12 0 15 0-5 1-10 0 9 0 0 0 2 1-4 0-4 0-2 0 11 1-7 0 4 1-1 0 7 0-8 0-5 0 10 1-8 0 4 0 0 0-5 0 10 0-1 1-2 0-2 1-4 0 3 1 8 1-10 0 7 1-12 0 12 1 1 0-13 1 9 0-7 1 5 0 7 0-11 1 3 0-4 2 10 1-12 0 6 1 3 2-2 6 3 1-4 4 25-88-6 4-5 1-3 2-2 2 3 2 10 1-10 7 7 0-1 1-4 1 9 0-13 1 11 0-11 0 5 1-2 0 10 2-3 0-8 0 0 1 2 0 1 1 4 0-10 1 7 0 6 0 3 0-13 0 1 0 8 1-9 0 2 0-3 1 6 0 5 0 1 1-7 0-2 0-4 0 9 0-5 0 5 1 5 0-11 0 3 1 3 0-10 0 10 1-3 0 1 0-4 1 1 0 9 0-10 0-3 0 5 1 5 0-7 0-1 1 7 0 0 0-1 0-5 0 8 1-1 0 0 0 5 0-9 0-5 0 6 0 3 0-5 0-2 1-3 0 4 0-3 0 5 0-1 0-5 0 8 0-1 0 2 0-2 1-7 0 2 0 5 0-6 0 4 0 1 1-5 0 4 0 3 0-4 1 10 0 0 0-5 0 5 0-13 0-1 0 12 0-10 0 12 1-15 0 3 0 4 0 8 0 1 0-13 0 9 0 2 1-6 0-2 0-5 1 1 0 11 0-13 0 3 0 3 0 2 0 6 0-8 0 1 1 0 0-3 0 7 0-2 0-8 0 12 0-8 0 10 0-12 0 11 0-12 0 9 0-8 0-1 1 8 0 3 0-1 0-3 0 1 0-8 0 10 0-9 1 9 0-5 0-2 0-5 0 2 0 3 0 3 1 7 0-13 0 3 0 5 0 3 0-7 0 8 1-6 0-5 0 4 0-2 0-3 0 10 1-1 0-5 0-5 0 0 0 6 0-1 0 4 0 3 0-1 0-2 0-7 1-2 0 1 0 14 0-2 0-7 0-7 0 4 0 1 0 5 0-7 1 2 0 3 0 0 0 3 0 4 1 1 0-8 0-3 0 5 1-4 0-3 0 2 0 8 0-5 0 1 1 4 0-12 0 0 0-1 0 14 0-13 1 10 0-3 0 4 1-5 0 4 0 1 1-8 0 1 0 2 0-7 0 0 1 13 0-12 1 4 2-3 0 0 0 11 0-3 1 0 0-2 1 4 0-3 0-4 1 3 0 2 1-6 2 1 0-2 0-2 3 9 4-9 1-1 2 18-65 3 6-2 1 0 0 12 1-12 0-2 3 0 1 10 0-7 0 3 0-4 1 5 0 4 1-1 1-8 0 8 0-10 0 7 1 6 0-9 0-4 1 4 0 1 0-6 0 1 0 4 0 6 1-5 0 4 0-7 1 3 0 5 0-1 0-5 0 1 0 2 1-4 0 6 1-5 0 6 0-9 0 8 0-6 1 5 1-2 0-7 0 4 0-2 0 5 1 8 0 0 0-9 0-6 0 11 0-3 1-1 0 7 1-1 0-3 0-2 0 4 0-7 0 11 0-6 0-6 1 4 0 0 0-5 0 12 0-11 0-2 0 12 0-6 0 2 0 2 0-1 0-3 0 6 0-7 1-6 0 0 0 11 0 3 0-10 0-4 0 12 1-6 0-2 0 0 0-4 0 4 0 7 0-3 0 2 1-9 0 8 0 2 0 0 0-8 0 7 0 4 0-7 1 3 0-4 0 7 0-7 0 1 0-5 0 1 1 0 0-4 0 2 0 12 0-11 0 0 0 12 0-5 0 2 1-10 0 4 0-2 0 1 0 3 0-1 0 4 0-7 0 2 1-3 0 1 0 3 0-2 0 1 0 3 0-8 0 9 0-2 0-6 0 10 1-11 0 7 0-5 0-1 0 8 0 4 1-4 0-9 0 5 0-6 1 12 0 3 0-7 0 3 0-5 0-3 0 4 1 4 0-5 0 4 0-8 0 2 0-2 0 4 1-5 0 15 0-13 0 7 0 2 0-3 1-6 0 4 0-2 1-2 0 12 0-15 0 14 0-12 1 2 0-4 0 4 0 2 1-4 1 0 0 12 0-14 0 12 1-5 0-5 1 0 0-2 0 13 1-5 0 4 0-7 2 4 0-9 0 5 1 5 0-9 1 0 0 14 1-1 4-2 0 1 0 3 0-14 6 0 8 18-69 10 6-9 1 1 1 9 2-1 4-10 0 3 1-6 0 0 0 0 1-1 0 2 1 9 1 4 0-12 0 7 1-2 1 1 0-5 0 1 0-4 0 11 1-6 0-1 0 6 1-9 0 6 0-4 0 1 0-5 1 1 0 2 0-2 0 1 0 12 1-13 0 8 0-4 0-1 0 7 1 1 0-7 0 8 0-1 1-7 0 4 0 1 0 5 0-10 0 9 0-13 0 2 1 5 0-3 0-5 0 13 1-7 0-2 0 8 0-2 1-6 0 0 0 3 0-7 0 5 1 0 0 9 0-3 0-9 0 2 0-3 0 11 0-2 0-2 0 4 0-10 0 8 1-6 0 6 0-9 0 7 0-4 0 6 0-5 0 2 0-3 1 9 0-2 1-7 0 6 0-5 0 8 0-2 0 3 1-5 0-8 0 2 0 10 0-6 0 8 0-5 0 0 0-9 1 11 0-4 0 6 0 0 0-3 1-1 0-10 0 13 0 2 0-3 1-8 0 3 0 7 0-13 0 7 0 7 0 1 2-5 1-6 0 6 1 2 0-7 0-2 0 6 1-9 0 13 0-9 2 2 2 0 0-4 2 8 0 1 1-11 3 12 5-5 2-7 8 21-78 6 9-9 8 5 5 6 4-13 1 2 1 1 1 11 0-13 1 12 0-8 1-4 1 4 0-4 1 4 0-3 1 9 1-11 0 12 0-6 1 2 0 2 0 1 1 3 0-6 0-7 0 6 0 6 1-13 0 8 0-7 1 10 0-8 0 0 1 10 0-7 1-7 1 6 0 4 1-9 0 1 0 10 0-3 1-6 0 8 0 5 1-9 1 7 0-3 0 3 1-7 0-2 1 7 0 3 0-13 1 3 0-3 1 12 0-11 0 2 0 1 1 0 0 5 0-10 1 7 0 1 0-3 1-5 0 4 1 5 1-6 0 1 1-5 0 1 2 13 2-7 0 0 0-2 9 1 5 9 6 2-69 5 3 7 10 0 0-2 3 2 1-4 3 2 0-11 0 4 1-3 0 6 0 2 1-1 1 1 0-6 0-1 1 13 0-6 2 0 0-8 0 5 1 6 0 1 1-7 0 3 1 0 0-6 0 7 0-3 2-6 0 5 0 9 1-13 1 7 0 0 1-4 1-2 0 10 1-6 1-3 2-2 1 12 2-8 4-3 0 2 3 26-33-7 0-7 7 2 0 4 3 8 1-3 0-5 3-3 0 3 1-6 9 1 1 16-25 3 2 11 1-15 0 4 3-3 3 8 2-6 0-3 3 5 0-1 0 11 1-8 2-1 5 6 8-10 6 26-45-4 19-8 6 14 2 2-15 13 6-10 5 0 6 4 5 10-29 12 9 1 7 15-9-12 5 3 7 10 14 13-11-1 15 10-11 26 4 0 0" fill="none" stroke="none" marker-start="url(#dot)" marker-mid="url(#dot)"/></g>
<circle cx="592.5" cy="56.5" r="0.8" fill="#000"/>
<circle cx="471.0" cy="328.7" r="0.8" fill="#000"/>
<circle cx="484.3" cy="336.4" r="0.8" fill="#000"/>
<circle cx="488.8" cy="347.6" r="0.8" fill="#000"/>
<circle cx="524.6" cy="343.0" r="0.8" fill="#000"/>
<circle cx="555.4" cy="316.8" r="0.8" fill="#000"/>
<circle cx="482.5" cy="324.8" r="0.8" fill="#000"/>
<circle cx="478.3" cy="312.6" r="0.8" fill="#000"/>
<circle cx="603.4" cy="278.2" r="0.8" fill="#000"/>
<circle cx="594.0" cy="272.3" r="0.8" fill="#000"/>
<circle cx="776.2" cy="199.3" r="0.8" fill="#000"/>
<circle cx="776.2" cy="221.0" r="0.8" fill="#000"/>
<circle cx="656.7" cy="156.0" r="0.8" fill="#000"/>
<circle cx="656.7" cy="184.0" r="0.8" fill="#000"/>
<circle cx="618.6" cy="187.6" r="0.8" fill="#000"/>
<circle cx="527.0" cy="153.0" r="0.8" fill="#000"/>
<circle cx="548.0" cy="150.0" r="0.8" fill="#000"/>
<circle cx="602.5" cy="324.2" r="2.45" fill="#00f"/>
<rect x="457.5" y="45.5" width="330.0" height="314.0" fill="none" stroke="#000" stroke-width="1.05"/>
<path d="M471.7 359.5v4.5M515.5 359.5v4.5M559.3 359.5v4.5M603.1 359.5v4.5M646.9 359.5v4.5M690.7 359.5v4.5M734.5 359.5v4.5M778.3 359.5v4.5M457.5 69.5h-7M457.5 147.4h-7M457.5 225.3h-7M457.5 303.2h-7" stroke="#000" stroke-width="1" fill="none"/>
<text x="468.92" y="373.40" font-size="13.6" fill="#000">0</text>
<text x="512.72" y="373.40" font-size="13.6" fill="#000">2</text>
<text x="556.56" y="373.40" font-size="13.6" fill="#000">4</text>
<text x="600.27" y="373.40" font-size="13.6" fill="#000">6</text>
<text x="644.12" y="373.40" font-size="13.6" fill="#000">8</text>
<text x="686.48" y="373.40" font-size="13.6" fill="#000">10</text>
<text x="730.36" y="373.40" font-size="13.6" fill="#000">12</text>
<text x="774.02" y="373.40" font-size="13.6" fill="#000">14</text>
<text transform="translate(450.20,71.68) rotate(-90)" font-size="13.6" fill="#000">2</text>
<text transform="translate(450.20,149.77) rotate(-90)" font-size="13.6" fill="#000">1</text>
<text transform="translate(450.20,227.48) rotate(-90)" font-size="13.6" fill="#000">0</text>
<text transform="translate(450.20,308.26) rotate(-90)" font-size="13.6" fill="#000">−1</text>
<text x="581.71" y="39.40" font-size="13.6" fill="#000">C_0nM − Fluvo_80nM</text>
<text x="591.87" y="386.00" font-size="13.6" fill="#000">Average log CPM</text>
<text transform="translate(437.30,231.90) rotate(-90)" font-size="13.4" fill="#000">log−fold−change</text>
<rect x="730.5" y="297.5" width="57.0" height="62.0" fill="#fff" stroke="#000" stroke-width="1.05"/>
<text x="745.28" y="317.90" font-size="13.85" fill="#000">ns</text>
<text x="745.13" y="334.60" font-size="13.85" fill="#000">Up</text>
<text x="745.06" y="351.50" font-size="13.85" fill="#000">Down</text>
<circle cx="739.9" cy="313.5" r="0.75" fill="#000"/>
<circle cx="739.9" cy="330.6" r="2.3" fill="#f00"/>
<circle cx="739.9" cy="347.5" r="2.3" fill="#00f"/>
<clipPath id="cpC"><rect x="31.5" y="484.5" width="330.0" height="314.5"/></clipPath>
<g clip-path="url(#cpC)"><path transform="scale(0.5)" d="M88 1064l1 20 8 15-7 2 10 4 0 1 1 3 1 3-8 0-4 1 6 0 7 1-10 6 9 3-1 2 2 1-6 1-5 7 0 0-4 0 12 2-1 2 3 1-2 1-11 1 1 0 13 1-4 1 4 2-1 3-1 1-5 2-2 2 1 1 6 1 0 1-6 1-6 1 12 0 2 2-8 0 0 1 2 1-4 3 4 1 1 0 2 1 2 0-12 1 5 0 3 1-6 0 7 2-7 0 5 0-1 0 6 1-11 0 5 0-2 0 3 0 0 0 3 1-3 1 6 1-2 1 1 0-10 0 7 0-6 1 6 0 4 3-9 1-3 1 2 1 5 0 6 1-1 0-10 0-2 0 5 1 6 0-6 0 3 1-7 0 7 1-7 0 8 1-7 0-3 1 10 1-2 0 0 0 1 1-2 1 2 0-7 1-1 0-1 0 0 1-1 0 0 0 2 1 5 0-5 1 12 0-9 0 9 2-7 1-6 0 12 0-14 1 4 1 11 0-5 0-1 0-5 1-2 0 11 0-6 1 8 1-6 0 2 0 3 1 1 0 1 1-14 1 9 0-2 0-5 0-4 2 1 0 0 1 6 0 3 0-8 1 1 0 10 0-8 0 9 0 0 1-4 0-9 2 4 0 2 1 9 1-1 1-4 0-10 0 6 1-7 0 10 1-4 0 9 0-6 1-3 0 9 1-8 0 6 0 0 0-9 0 11 1-2 0-1 0-7 1 9 0-12 2 2 1 11 0-6 1-7 0-1 0 12 0-10 1 5 0 6 0-9 0 1 0 0 1 0 0 10 2-15 0 14 0-10 1 8 0-1 0 2 2-7 1 4 1-2 1-5 2 3 1-7 1 3 0 12 1-15 0 9 0-5 1 10 0 0 0-10 1 12 0 0 0-11 0 0 1 8 1-1 0-8 2-4 0 8 2-3 1 8 1 0 1 1 1-3 0-6 0-2 2 7 1 4 0-4 0-2 1-1 2 1 0 0 2 1 1 7 2-12 2 10 0-10 0-4 1 12 6-9 1 9 0 3 1-6 2-7 3 13 2-3 1-10 0 8 1-4 3-6 1 14 2-13 2 11 1-5 1-3 2-3 0 14 5 0 0-15 1 14 1-2 0 4 0-11 1 6 0 5 1-5 1-8 1 5 2-6 1 8 4-7 0 3 0 5 5-10 0 8 0-4 1 0 2 0 3 2 3-1 3 9 3-10 3 11 0 0 7-4 23 1 24 4-324 4 2 3 2 1 10 5 0-13 1 4 18 10 0-14 3 15 0-5 2-7 2 7 4 0 2-1 1-1 5-6 3 10 5-2 1-7 3-3 7 0 1 11 0 0 0-8 3-2 0 9 1-2 0-3 5 9 2-2 0-6 0-7 1 12 3-4 2-8 1 12 2-4 0 2 1-3 1 6 0 2 1-11 0 0 1 0 0-3 0 12 1 2 0 0 0 0 2-8 0 5 1-10 1 4 1 8 1-12 1 6 1 8 1-14 0 0 0 4 0 8 1-2 2-6 0 4 0-6 1-1 0 11 0-8 0 2 0 3 1 3 1 0 0-5 2-3 0 3 1 0 1 2 0-9 0-1 1 3 1-2 0 8 1 3 0-1 0 2 1-3 0-3 0-3 1 9 0-3 1 1 0 1 0-1 0 1 0-4 1 7 0-4 0-1 0-8 0 7 0 5 1-15 0 1 0 9 0 4 2 1 1-5 1-4 0 0 0 3 1-2 1 0 0-7 2 15 0-1 0-12 0 8 1-1 0 3 1 3 1-13 0 13 0-4 2 0 0-1 0-10 0 4 0 5 0-3 1 3 0 2 0-6 1 6 0-4 1-4 0-1 0-1 0 5 0 5 0 2 1 2 1-4 0-10 0 3 1 7 1-8 0 6 0-3 1 7 0-3 0 4 0 1 1-1 0 1 0-5 1 5 1-5 1-5 0 7 1 1 0 2 1 1 0-6 0 3 0-10 0 9 1-6 1 6 0-2 0-4 1 0 0 2 0 4 0 1 0-5 0 2 0 5 1-11 0-4 0 16 1-15 0 9 0 2 1-7 0 6 0-4 0 5 1-2 0-9 1 15 0-7 1-6 1 10 0-12 1 14 0-1 1-12 0 14 0-12 1 6 2-8 1 13 0 1 1-2 1-8 0 9 0-2 1 0 0-7 0 6 1 0 1-3 0-5 1-3 0 3 3 12 0-10 0 5 1 4 1 0 0-10 0 10 0-6 1-4 1-4 0 13 0-2 1-9 0 7 0-4 1 8 1-11 0 2 1 8 0-6 0 5 0-2 1-4 3 9 0-4 1 3 0-11 0 1 0-1 0 11 1-9 0 4 2-2 0 3 1-3 0 6 0-12 0 12 1-6 2 4 0-5 0 6 1-7 1 5 0 0 1-8 2 8 1 3 0-5 1 3 1-9 0 9 1-7 0 7 0 2 1-6 0 9 2-3 1-8 1-4 0 1 1 7 2-7 2-2 1 16 0-7 2-4 3-4 1 6 1 8 7-2 0 3 0-1 3-12 0-1 2 14 1-1 1-5 3-7 1-1 1 11 0-12 3 13 0-11 8 8 1-6 0-3 7 10 1-10 8 6 11-6 4 5 29 4 24 7-345 8 14 1 12-5 4 1 4 2 4 3 2 2 4-10 0 0 6 2 5-1 0 5 4-7 0 10 2-9 0 11 1-10 1 6 3-1 3-7 2 12 1-13 1 11 3-7 3 7 1-1 0-9 0 1 2 5 5-5 2 0 0 7 1-8 0 1 1 6 0 2 1-4 1-5 0 0 3 4 0-2 0-4 1 13 1-2 0-1 1-8 2 11 3-4 1-1 0 2 1-9 1 0 1 4 0 5 0-10 1 5 0-2 0 3 1 6 0-1 2-10 0 13 0 0 1-7 0 4 1-8 0 4 0-7 0 1 1 12 0-11 1 5 0 5 0-13 0 0 1 6 0 0 1 0 1-2 0 0 0 7 0 0 1 0 1-3 1 5 1 2 0-12 1 8 0 1 1 1 0-7 0-3 1 5 0 3 1 2 0 0 1-2 0-10 2 13 0-8 0 1 0 3 1-1 0 6 1-5 0-1 1 1 0-4 0 8 0-6 1-6 0 7 0 4 1-5 0-1 1-1 0 5 1-8 1 6 0-5 1-3 0 4 0 9 0 0 0 0 0-6 1 2 0-2 0 2 2-9 0 6 0 8 0-7 0 6 1-2 0-7 1-4 0 12 0-7 1 6 2 4 0-13 0 11 1-5 0-3 0 2 1-6 0 5 1 6 1 0 0-13 0 9 0-1 1-1 0-3 0-2 1 5 0 5 2-5 1 1 3-6 1 7 0 4 0-12 0 4 1-1 0 6 0 2 0-9 1 6 1 5 0-8 0 4 0-10 1 8 0 2 0 2 0-6 1-2 1-3 0 7 0-5 0 11 1-8 1 8 1-8 0 4 1-5 0 2 0 3 1 1 0-10 2 13 0-4 0-8 1 1 2-3 0 9 0 1 2 5 0-1 1-3 1 1 0-9 0 1 0 6 1 4 1-2 0-11 1 11 0-8 1 11 0 1 1-3 0-1 1-5 1-4 0 9 0 1 1-4 0-6 3 4 0 1 1 7 1-12 2 3 0 8 1-4 0-2 0-8 0 15 0-9 0 3 1-5 1 6 0-5 1 10 2-15 1 4 1 0 1 5 1-1 1 3 0 4 0-14 0 7 2 2 3-10 0 6 1-2 0-2 2 8 1-10 1 1 1 5 0-5 1 1 4 12 1-13 0 10 2 1 0-1 1-1 0 0 1-7 0 7 3-6 1 8 1-2 0 5 0-9 1 3 1 4 1-12 6 4 1 1 2-5 1 6 2 0 1-3 13 6 7 5 8-8 0 5 3-3 10 5 9-6 12 18-320 0 19-4 7 2 10 1 15 0 1-4 0-5 9 0 1 14 0-12 3 10 1-1 1-9 2 10 3 4 3-9 3 8 5-11 0 10 3-7 3-5 1 4 0 7 0-8 1 11 1-7 4-3 1 1 1-4 1 9 1-4 1-6 0 3 1 3 0-2 0-1 3 10 1-14 1-1 1 5 3 1 0-4 0 10 2-5 1-2 2 4 0 4 0-7 1-1 1 10 1-2 0-10 0 6 2-2 1-2 0 2 0 2 1-8 0 0 0 12 0-13 1 7 0 5 1-8 0 4 0-8 0 8 0 1 0-3 1-2 0 9 1-6 1-7 0 3 0 11 1-9 0-1 0 5 0 6 1-2 1-10 0 5 0 3 1 5 0-9 1 9 0-15 0 13 0-1 0-3 1 5 0-1 1 0 0-3 0-1 1-8 0 10 0 0 1-4 0 5 2-11 0 10 1 1 1-12 1 3 1-4 0 1 0 9 1-6 0 3 0 1 0-6 1 1 0 0 0 4 1 0 1-3 0 8 0-2 1 2 0 1 1-3 0-6 0 0 0 12 1-3 0-6 1 8 0-14 1 10 1-1 0-7 0 6 0-7 0 7 1-4 0-2 1 10 1-1 0-6 0 8 0 1 1-2 0-3 0 2 2 1 0-12 1 14 0-10 0 3 1-5 0 10 0-11 0 9 1-3 0-8 0 0 0 11 1-2 0-6 1 0 0 4 0-3 1 8 0 3 1-6 1-5 0 2 1-4 0 2 0 11 1-7 0 3 1-6 0-5 0 6 0 2 0 7 1-5 0-9 0 6 0 2 0-9 1 13 1-12 0 0 1 9 0-5 1-4 0 7 0 1 0 0 1 2 0-3 0 5 0-6 0 8 1-12 0 0 0 1 0 0 0 3 0 2 1-8 0 15 1-8 0 4 1-8 1 5 0-4 1 9 0-4 0-9 1 5 0-3 0 7 0-1 1 5 1-1 0 1 0-1 0-4 2-6 1 1 0 1 1 6 0-2 0-4 0 9 1 1 1-5 0-1 1-8 0 3 1 9 0 2 1-6 0 7 1-13 1 6 2 3 0-12 1 3 0-1 0 2 1 1 1 7 0-5 1-2 0-1 1-4 0 13 1-3 0-2 1 6 0-1 0-8 1 10 1-5 1-4 1 8 0-9 0 3 1 2 0-6 1-2 0 2 1 4 2-4 1 5 0-2 0-6 2 13 0-12 1 4 0-1 1-4 1 0 0 2 1 0 1 10 4-2 1 1 2 0 1 2 2-13 0 6 0-6 1 12 1-12 1 0 0 3 2-3 1 14 1-15 1 8 1-7 1 14 2-10 0-2 1 8 2-5 1 1 1 3 1 6 4-1 0-4 2-4 1 7 1-11 2 6 0-5 1 11 1-15 2 7 12 3 15 1 7 4 2-14 1 8 9-7 7 10 3 1 8-11 6 22-319-8 13 4 6-4 3 7 6-5 1 12 18-9 1 0 9 2 2 8 1 0 0-14 1 0 1 6 1-3 6 7 1-1 3-10 5 2 0 11 0-8 6 4 0-3 0 7 2-8 1 3 1-4 2 9 0-10 0 12 0-13 1 13 3-7 2-5 2 6 0-7 0 8 0 3 1-7 0 8 0-11 0 8 1 2 0 0 1 0 0-3 1-5 0 10 2-3 0-2 2 2 0 1 0-8 1 0 1 2 3 3 0-2 1-3 0 0 1 7 0-3 1 3 0-12 0 12 1 0 1-12 0 4 1 6 0 4 1-3 0-9 0 13 1-13 0 2 1 10 0-4 1-5 1 10 0-1 1-6 0 2 0 5 1-14 0 1 0 13 0-6 0-3 1 8 0-10 0 4 0 0 0-1 1-1 0-4 1 12 0-7 1 9 0-1 1-5 0-5 0 9 0-13 1 3 0-1 1-3 0 2 0 7 0 5 1 1 0-10 0-4 1 13 0-4 2-5 0 8 1-2 0 2 0-4 0-5 0 9 1-11 0 8 1 5 0-1 0-11 0 9 1-8 0 4 0 7 0 0 0-1 0-1 1-7 0-2 0-2 0 0 0 1 1 10 1 1 0-14 0 6 1-4 0 2 1 7 0-3 0 6 0-11 0 10 0-5 0-2 0-3 0 9 1-4 0-4 0 4 1 5 0-12 1 4 0 9 0-10 1 3 0-6 0 8 1 4 0-2 0 0 2-7 0 2 1-1 1 2 1-4 1 7 0-2 3 0 0 5 0 2 0-14 0 8 1-5 1-1 1 1 0-2 0-1 0 4 0-1 1 4 0 3 1-3 1-2 0-2 0 2 2 6 0-3 0 6 1-9 0 0 1 7 0-2 0-1 0-7 1 8 0-8 1 9 0-4 0 6 0-4 0-8 1 3 0 2 1 4 0 4 0-10 1 9 0-7 0 8 0-14 0 5 1 9 0-5 1-8 0 9 1-7 1 6 0-1 2-2 0 9 0-4 0-10 0 3 1-5 0 6 0 10 1-4 0-10 1 11 1-10 0 4 1 8 0-4 1 1 0 1 0-3 1 4 0-11 1 3 0 8 1-1 0-3 0-1 1-1 2-4 0 6 1 0 0-8 1 13 1-15 0 3 1 6 0-1 0 1 1-9 1 11 0 2 0 2 0-5 1 0 0-5 1-2 0 9 0 0 2-8 1 1 0-1 1 0 2 4 0 7 2-13 0 12 1 0 0 0 0 1 5-2 1-3 0-3 2 5 1-3 0-2 0 3 0 0 1 1 0 3 1-9 1 5 2-5 0 0 2 5 1-4 1 8 1-1 0-1 1-1 1-11 2 8 6-6 2 9 0-2 1 1 1-4 3 3 4-6 3 4 2 2 2-4 2 1 8 6 1 3 3-11 4 10 8-3 2-3 11-6 2 5 1-6 9 2 37 28-317-10 8-3 18 14 4-16 2 0 0 11 2-5 4 2 4 6 0-8 1 3 1 7 1-5 1 3 1-14 7 2 1 5 0 2 4-8 1 14 1-4 0-11 2 0 0 11 1-1 1-8 1-1 0 11 0-3 1 3 1-11 1 2 0 6 2-7 0-1 3 9 2-7 0 8 0-6 0 8 1-6 1 6 0-2 0-1 0-9 0 11 1 4 1-1 1-11 1-1 0 5 1-4 0 4 0 3 0-8 1 1 1 3 1-6 1 10 0 4 1-2 0-12 1 2 0 9 0-5 0 1 1-1 0 1 0 2 1-1 0-3 1-4 1 9 0-5 2 6 0 2 1-10 0-2 1 11 1 3 1-1 0-7 0-3 1 5 0 1 1-6 0 1 0-1 0-3 0 5 1 1 0 6 0-7 0 0 1 1 0 1 0-5 1 12 0-11 0-4 1 5 2 3 0 2 1 1 0-8 0 1 0 5 1 2 0 0 0-4 1-1 0 8 0-14 1 10 0-7 1-1 0-2 0 2 1 6 1 5 0-5 0-4 1-4 0 6 0-2 2-3 0 4 0-2 1-2 0 14 0-15 1 5 0 1 0-5 0 12 1 1 0-1 0-11 0 13 0-15 0 0 0 12 1-12 0 13 0 0 0-11 0 4 1 1 0 8 0-5 0-6 0 7 0 3 1-10 1 10 0-4 0-1 0 0 0 4 0-4 1 0 0-4 0 0 1-3 1 7 0 5 0-3 1-1 0 2 0-2 2-7 0 8 3-9 0 1 1-3 1 7 0 6 0-1 0-11 1 4 1 9 0-12 2-1 0 2 1-2 0 2 0-1 1 0 0 12 1-13 0 2 0 4 0-3 0-4 0 4 0 6 0 0 0-8 1 0 0-2 1 10 0 4 1-12 1 5 0 5 0-1 1 0 0-1 2-8 1 3 0-4 0 4 0-1 1 1 0 3 0 4 1-1 0-3 0 3 0-10 1 8 0 1 1-7 0 3 0-3 1-1 0 11 1-4 0-9 3 6 0 3 1-1 0-6 0 3 1-3 0 11 2-2 1-9 2 4 2 9 2-3 1-1 0 3 0-9 0 2 1 0 0-2 1-3 0 12 0-6 1-3 1-2 1 3 0 5 2-6 0-3 1 4 0-5 4-2 0 5 0-1 3 12 4-15 1 10 0-9 0 2 1 7 1-1 0-2 0 2 3 6 0-12 1 6 3-3 2-4 1 5 1 0 5 0 3 5 3-1 1 0 7-11 0 13 1-5 1-4 2-2 7 2 1 8 17-4 1 4 0-5 4 2 4-2 2 0 5 2 10 12-288 4 8-6 14 7 9-5 10 10 9-12 2 5 1-5 2 1 1 4 0-7 2 1 0 13 3-4 1-3 2-4 1 2 0-7 6 3 1 5 0 6 2-8 1 9 0-2 2-4 0-3 0-4 1 5 0-3 0 3 1-5 0 5 3 2 1-8 0 12 0-3 2-2 1 3 2 2 0-5 1-2 1 0 1 2 0 5 0-3 2-2 2-3 0 7 1 4 0-4 0 3 1-8 0 6 2 0 0-4 1 0 0-1 0-6 0 10 0-6 1 2 1 1 0 0 1-1 0 3 0-5 1 1 1 5 0-2 0-7 0 1 0-4 1 1 0 3 0 8 1-5 0 7 1-8 0-1 1 3 0-4 0 1 0-4 1 5 1 2 0 8 1-16 0 12 0-10 1 0 1 3 0 2 0 2 0-5 0 6 0-10 1 1 1-1 0 10 0 6 0-12 1 6 0-8 1 12 0-4 0-6 0 10 0-7 0 7 1-6 0 6 0-3 0-3 0 1 1-3 0 8 0-4 0-7 0 9 1-2 0-10 0 3 0 4 0-6 0 6 1-4 0-2 1 4 0 2 0 5 0-1 0 0 1-7 0 1 0 2 1 4 0-7 0 9 0 1 0-7 1-1 0 7 0-12 0 6 0 0 0 0 0-1 1-2 0 3 0 8 1-10 0 9 0-6 1 3 0-7 0 11 0-4 0 0 0-3 1 4 0-5 0 8 0-10 0-3 1 5 0-4 0-3 1 15 1-11 0 8 0-10 1-1 0 5 0 9 0-5 1-6 0 6 1-2 0-1 0-5 1 8 1-9 1 14 1-11 0 9 1-11 0 10 0-7 0 9 1-4 0 0 0 2 1-12 0 5 1-2 1 7 1-3 0 3 1 2 1 1 0-12 1 11 0-9 0 4 1-3 0 8 0 4 0-7 0 5 1-10 1 12 0-10 0-6 1 12 0-11 2 11 0 1 1 0 0-2 0-7 0-3 1 4 0 7 0-8 0 4 1-5 0-2 0 9 1 3 0-2 0 0 1-11 0 6 0 2 0-7 1-1 1 10 0-4 1 5 0-4 0 8 1-12 1 5 1-5 0 5 1-5 0 9 1-2 1-4 0-2 0 0 1 6 1 0 0 0 0-8 0 11 0 0 2-11 0 0 0 4 2-2 0 10 0-2 0-3 1 5 1-7 0-5 0 13 0-2 1-2 1-3 0 0 1 1 1-7 0 9 0-6 0 0 2 5 2-5 0 10 2-14 0 15 2-15 0 0 1 6 1 7 0-7 1 9 0-15 3 15 1-12 1 11 2-2 0-7 2 8 1-10 1 9 0-3 2-10 3 4 0 4 1 5 2 1 1 0 2-4 3-6 2-1 1 7 3-8 0 9 2 4 3-11 4 11 29-14 3 8 3 6 13-12 12 15-270 12 16-12 3 11 12-3 2 5 0-10 0-3 2 12 2-7 1 5 4-10 1 0 4 13 1 0 3-7 1 0 0-4 0 10 3 1 0-4 2 0 0-1 2-9 1 3 0 4 2-1 3-5 0 0 1 2 0 0 0 4 0-3 0 8 1-11 1 14 0-7 0 4 0-4 0-2 2 8 0-9 1-6 0 7 1-6 1 8 1-3 0-2 0 5 1-2 0 4 0-9 1 1 1 3 0 8 0 1 1-6 0-8 0 12 0 2 1-6 0-6 1 2 1 5 0 0 0-7 0 8 1-9 0 5 0-6 0 14 0-15 1 12 0 0 1-10 0 6 0 2 0-6 0-1 1 2 0 4 0 1 0 3 0-10 1 2 0-4 0 7 0 8 1-12 0 6 0-2 0-4 0 0 0-2 1 9 0-2 0-6 0 3 0 1 0-5 0 6 1 1 0 3 0-10 0 5 1 2 1 6 0-2 0-6 0 6 0-7 0 3 0-8 0 0 0 8 0 1 1 0 0-6 1 6 1-9 1 1 0 7 0-2 0 8 0-13 0 0 1-1 0 2 1-1 0 9 0-4 0 0 0 3 0-6 1 6 0-3 0 8 0-12 0 5 1 1 0 6 0-10 0 11 1-10 0 3 0-4 0 7 0 1 1-1 0-5 0 1 0-2 0 10 1-11 0 2 0 3 0 4 1-3 0-10 0 4 1 2 0 0 0-4 0 9 1-1 0 0 0 4 0-7 1-1 0 3 0 4 0-13 0 7 1 5 1-10 0-2 0 12 0-9 0 11 1-13 0 7 0-7 0-1 1 1 0 5 0 7 0 0 0-7 1 8 1-10 0 8 0-13 0 5 0 3 1 5 0-8 1-1 0 7 0-1 0 4 1-7 0-1 0-5 1 14 0-2 1-7 0-2 0 7 0-2 0-6 0 5 0-4 0-2 1 8 0-2 1 3 0 5 0-4 0-12 1 13 0 3 0-7 0-3 0 5 1-8 0 2 0 7 0-4 0 5 0-13 0 8 1 1 0-6 1 3 0 10 0-2 1-1 0-2 0-4 1 7 0 0 1-13 0 1 0 9 0-3 0 3 1-8 0 10 0-9 0-3 1 13 0 1 0-5 1 2 0 0 0-11 0 15 0-12 0 5 0-4 1 5 0-6 0 2 0-5 0 3 1 6 0-1 0 2 1 2 0-9 0-2 1 9 0 1 0-7 1 8 0 3 1 0 0-4 0-6 0 2 0 5 0-11 0 1 2 8 0-6 0 4 0 1 1-10 0 14 1 2 0-9 0-3 0 11 0-13 0 8 1 1 1-5 0 9 1-6 1 4 1-12 2 13 0 0 1-8 0-4 1 9 0 1 0-6 1 1 0 0 0-3 0 5 1 4 0-10 2 6 1-7 0 4 0 6 1-5 0-7 1 11 1-1 0 1 1-11 0 6 0 6 1-2 0-8 0 2 1 10 0-11 2 11 0-8 1 10 1-12 2 2 0-5 1 11 0 2 0-6 0-3 1-1 3-3 1 12 0-7 1-3 1 2 1-3 0-2 0 2 1 7 0-8 0 3 1 1 2 1 5-4 1 11 0-10 0-2 1 7 4 5 4 3 1-14 1 12 2-11 1 12 0-13 3 12 17 18-214-7 15-1 0-3 1 4 0-6 5 3 2-3 0-3 0 5 1 2 2 1 3-4 0 7 1 3 2-12 0 14 1-7 0 1 5-8 2 2 1-3 1 7 1-7 1 11 1-8 0-3 0 2 1-1 1 7 1 2 0-2 2-7 0 10 1-7 1 3 0-3 1-3 1 5 0 4 0 4 2-6 0 7 1-13 2-2 1 3 0 4 0 0 0 5 1-5 0-2 2 0 1 1 0-6 1 12 0-7 2 5 0-2 0-8 0 3 1 9 0-4 0 0 0 7 0-8 1-2 0 0 0 1 1-5 0 5 0 5 0-11 0 13 1-8 0 2 0-8 0 15 1 0 0 0 1-1 0-4 0 4 1-12 0 11 0 3 0-15 0 12 2-3 0-4 0 5 1 2 0 2 1-6 0 2 0-7 1 7 1-5 0-1 0 1 0 9 1-11 1 6 0 1 0 2 2 2 0-2 0-9 0 5 0 4 0 0 1-4 0-3 0-2 1 0 0 6 1-4 0 1 0 7 0-10 0 3 0 6 0-6 1-5 0 3 0 11 0-13 1 13 0-6 0-5 0 11 0-16 0 3 1 6 0-3 0-5 0 13 0-4 0-7 0 9 1-11 0 11 0-2 0-8 0 2 0 11 1-5 0 0 0 1 1 2 0-9 0-2 0 5 1-3 0-2 0 1 0 9 0 4 0-6 0 3 1-1 0-4 0 1 0-2 0 5 0 2 0 2 0-10 0 10 0-11 1-1 0 6 0 2 0-6 0 8 0 1 0-8 0 5 0-10 1 0 0-1 0 2 0 13 0-10 0 6 0 0 0 4 0-6 0-8 1 13 0-7 0 4 0-3 1 5 0-5 0-3 0 1 0 8 0-1 0 0 1-9 0 9 0-6 0-1 0 4 0-1 1-4 0 7 0-9 0 3 1-4 0 4 0 0 0 4 0-5 0-4 0 5 1-6 0 2 0 4 0 3 0-3 1 0 0 6 0-2 1-7 1-2 0 2 0-4 0 0 0 6 1 8 0 1 0-10 0 9 1-10 0 6 0 3 0-2 1 3 0-8 0 1 1 1 0-8 0 13 0 1 0-13 0 2 1-1 0-1 0 4 0 7 1-11 0 9 0-3 0 2 0-1 1 8 0-2 0-7 0 8 0-10 0 8 1-2 0 1 0 2 0-4 1-1 0 3 0 1 0 3 1-7 0-1 0 4 0-4 0 6 1-3 0 5 0-14 1 13 0-9 0 9 0-10 0-2 1 3 0 7 0-4 0 2 0-2 1 4 0-7 0 8 0-2 0-1 0-10 1 10 0 4 0-4 0-8 1 6 0-4 0 4 0-5 0 1 1 8 0-5 0-5 1 2 0-1 0-2 2 9 0-7 0 6 1 3 0 1 0 0 0-13 0 3 0 1 0 5 1-4 0 3 0 1 1-4 1 1 0-7 0 1 1 7 1 6 0-1 0 2 1-8 0 9 0-5 0-7 0 9 0 2 0-3 1-3 0-9 0 15 1-10 0 10 0-11 1 12 1-4 1-2 0-5 0-3 0 7 1 0 0 4 1-4 1-6 0 6 0-5 1 4 0 1 0 0 0-9 1 10 0-6 0 1 0-4 0 1 1 5 0 0 1-4 0 10 0-1 0 0 0 3 1-1 0-12 0 2 0 4 1-1 1-4 0 10 2-3 0 0 0-10 3 1 0 6 2-6 0 7 1 1 0 3 0 0 1 0 0 1 1 1 1-1 2-8 1 7 0 0 0-10 1 8 1 4 1-13 2 5 2-3 2 6 0 7 0-2 1-2 3-7 0-2 3 5 0 5 3 0 2-11 1 10 0 2 3-3 5-1 1-9 7 8 5 1 7-8 4 13 3-3 2-4 15 15-236 2 4-1 10 3 14-8 6 5 0-2 2 8 1-1 1-11 1 3 1 3 2-5 0 3 1 8 0-5 1-3 0 4 2 1 1 5 1-5 0-2 1 0 1-2 1 1 0 2 0-5 2 10 0-7 2-3 0 4 1-8 0 8 0-1 1-8 1 16 0-5 1 1 1-4 1-3 0 7 0 4 1-13 0 2 1 2 1 9 0-2 1-4 2-8 1-2 0 7 1 1 0-6 0 8 0-9 0 7 0-3 0 7 0-7 1-3 0 12 0-2 0 3 0-6 1 6 0-2 0-8 1-4 0 9 0-3 0 9 0-10 1-5 0 14 0-6 0 6 0-11 0 6 0-4 1 4 0-4 0 0 0 5 1-2 0 6 0-10 0 5 0 2 1-10 0 7 1 5 0 1 1-5 0 2 0-2 0-4 0 3 1 2 0 2 0-2 0-9 0 5 1 0 0 3 0-4 0-3 0 4 0 7 0 1 1-1 0-13 1 4 0 2 0-2 1-2 0 5 1 7 0-9 0-5 0 13 0-3 0 2 1-6 0 3 0 4 0-14 0 9 1 2 0-1 0 5 0-6 0-5 0-2 0 9 1-7 1 6 0-2 0 2 0-1 0-1 0-5 0 2 1 2 0-3 0 5 0-6 1 11 0-9 0 2 0 6 1 3 0-5 0-7 0 4 1 2 0 2 0 2 0-10 1-1 0 9 0-9 0 10 0-6 0 5 0-2 1-2 0-1 0 8 0-10 0 6 0-7 1 7 0-3 0-7 0 7 0 2 0-8 0 13 1 0 0-7 0-1 0-1 0 0 0-2 0 1 0 4 0 2 1-1 0 0 0 0 0-9 0 12 0-13 0 14 1-8 0 8 0-3 0-9 0 5 0-1 0 4 0-9 0 3 1 12 0-3 0-12 0 14 0-5 0 3 0-11 1 4 0 0 0 2 0 4 1-12 0 7 1 4 0 3 0-12 0 8 1-3 0 0 0 6 0-1 0-4 1 0 0 5 0-10 0-2 0 15 1-4 0-12 0 10 0 3 0-9 0-1 0 11 0-4 0-10 1 6 0 0 0-2 0 6 0-6 1-4 0 13 0-10 0-2 0 12 0-6 0 0 0 0 1 2 0-7 0 14 0-7 0-3 0 2 0 7 1-1 0-5 0-5 0-1 1 7 0 2 0-7 0 4 0 1 1 2 0-3 0-2 0-3 1 3 0-2 0 1 0 3 0 1 0 1 0-4 0 5 0 0 0 1 1 0 0-9 0 5 0 6 0-8 0-3 0 11 0-12 1 10 0-12 0-1 0 10 0-1 0-5 0-3 0 1 0 4 1-2 0 9 0-8 0-4 0 1 0 10 1-9 0 4 0 0 0 6 0 3 0-1 0-5 1-5 0 6 0 0 0-10 0 5 0-1 1 6 0 0 0-10 0 6 0-5 0 10 0 4 0-10 0 4 0 1 0 5 0-1 0 0 0-12 0 6 0-4 1 9 0-7 0 1 0 1 0 6 0-2 0-10 0-2 0 8 0-1 1-7 1 4 0 11 0-8 1-1 0 5 0-1 0-9 0 14 1-12 0 3 0-2 0 9 0-13 0 15 1-12 0 10 0-12 0-1 0 6 0-2 0 7 0-10 1 8 0-9 0 11 0-4 0 5 0-2 0 3 1-4 0 2 0-7 0 3 0-6 1 6 0 8 0-6 0-1 0-1 0 1 1-7 0 12 0-11 0 4 1 8 0-10 0-3 0 9 1-4 1 8 0-11 0 2 0 0 0 4 0-6 0-3 1 6 0-6 0 13 0-12 0 5 1-3 0 11 0-13 0-1 0 9 1 3 0-7 0-5 0 2 0 2 0 3 0 4 0-9 0 7 1-8 0 12 0-4 0-8 0 8 0-5 1 2 0 1 1-3 0-5 0 0 1 8 0 7 0 0 0 0 0-4 0-8 0-1 1 5 0 9 0-10 0 9 0-10 1 0 0 10 0-5 0 1 1-6 1 1 0-3 0 0 1-2 0 3 0 0 0 3 0 7 1-2 0-8 1 1 0 0 1-4 0 4 0 10 0 0 1-1 0-13 1 7 1-2 0-4 0 1 0 11 1-11 1 5 0 4 1 3 0-1 0-6 2 3 0 0 1 3 2-1 2-8 0 6 0-7 1-2 0 13 0-7 1 0 0-5 1 0 1 3 0 4 0-7 1 7 0 3 0-12 1 14 2-15 1 10 0 4 1-13 1 3 0 9 0-6 3 8 0-12 2 5 1-2 0 3 0 5 2-13 5 15 3-10 1 3 5-4 5-3 1 4 1 3 6 7-206 12 9-2 6-10 4 9 6 6 5-7 4 1 1-4 0-2 2 7 0-3 3 7 1-11 5 10 2-7 0 3 0-5 4-1 1 3 1 0 0-2 1 0 1 6 1-5 1 4 1-2 1-5 0 5 0 4 1 3 0-8 1 10 0-7 0-5 1 9 0-11 1 4 0 8 2-11 1 1 0 10 0 2 1-8 0-6 0 4 0-2 1 8 0 2 0-12 0 11 0-10 2 8 0 3 1 1 0-9 1 3 0-4 0 0 0 4 0 4 0-13 1 7 0 2 0-4 0 1 1-5 0 9 0 0 0-2 1 0 0-8 0 14 0 0 0-3 1-3 0 6 0-9 1 5 0 4 1-2 0-8 0 8 0 0 0-2 0 1 1 1 0-12 0 4 1 4 0 6 0-6 0-3 0 5 0-6 0 11 1-1 0-3 0-7 0 4 1 3 0-1 0-9 1 3 0-2 0 7 0 2 0-5 0-6 1 5 0 3 0-6 0 1 0 10 0-3 0 1 0-4 0-1 1 7 0-8 0 10 0-2 0-6 0-7 0 7 1 4 0-4 0 1 0-7 0 6 0-1 0 10 0-2 1-10 0 5 0 6 0-2 0-12 1 13 0-11 0 3 0 10 0-13 0 7 0 6 0-12 0 9 1-11 0 0 0 0 0 4 0 1 0-2 0-4 1 0 0 5 0 8 0-6 0-8 0 3 0-2 0 5 1 6 0-10 0 0 0 10 0-2 0-4 0-3 0 7 0-6 0 11 0-4 1-4 0 0 0 1 0 4 1-11 0 12 0 2 0 0 0-3 0-12 0 11 0-1 0-8 0 13 1-8 0-4 0 9 0-4 0 1 0-3 0-1 0 6 0-4 0-4 0 8 0 4 0-6 0 4 1-2 0 3 0-6 0-8 0 9 0 2 0-8 1 9 0-8 0 6 0-5 0 6 0 1 0-4 0 3 0 0 1-8 0 1 0 0 0 1 0-4 0 14 0-1 0 1 0-11 0 7 1-2 0-1 0 5 0-2 0-9 0 13 1-7 0-6 0 14 0-6 0 3 0 2 0-15 0 10 0-7 0 9 0-11 0 10 1-1 0-9 0 7 0 2 0-10 0 3 0 9 1 1 0 2 0 0 0-13 0 10 0-1 0-11 0 11 0-6 0-3 0 12 0 1 0 0 0-13 0 8 1 2 0-11 0 11 0-6 0 0 0-5 0 13 0-3 0-3 1-7 0 7 0 6 0-8 0-2 0 8 0-1 0-11 0 9 0-6 1 1 0 4 0-5 0 12 0-5 1-4 0-3 0 7 0 4 0 0 0-3 0 3 0-6 0 0 1 4 0-2 0 1 0-5 0-1 0-2 0 11 1-7 0 0 0 6 0-9 0 12 0-8 0-1 0-6 1 10 0 1 0 2 0-9 0 4 0-8 0 11 0-9 0 2 0 10 1-3 0-11 0 0 0 0 0 2 0 0 0 11 0 1 0-5 1 5 0-3 0-4 0-1 0 1 0 7 0 1 0-8 0-1 1 7 0-14 0 6 0 4 0-9 0 4 0 6 0 2 1-3 0-3 0 6 0-4 0 2 0 1 0 0 0 4 0-2 1-6 0 3 0 1 0-9 0-1 0 13 0-2 0-3 0-3 0 0 0 6 0 0 1-7 0 8 0-7 0 2 0-5 0 2 0-4 1 11 0-10 0 5 0 5 0-11 1 11 0 1 0-5 0 0 0-3 0-4 0 3 1-1 0 4 0 1 0 5 0 1 0-4 0-1 0 1 1-7 0 2 0 6 0 0 0-10 0 2 0 5 0 4 0-11 0 9 1-2 0-4 0 0 0 7 0 2 0-8 0 1 0 2 1 1 0 2 0-3 0-4 0 11 0-2 0-11 0 10 1 0 0-6 0 0 0-5 0-2 0 12 0-5 0 5 0-7 0-4 1 7 0 6 0 2 0-5 0 1 0 4 0-5 0 4 0-11 0-2 1 4 0-3 0 11 0-9 0 7 0-4 0 7 0-7 0-7 0 0 1 5 0 9 0-10 0 7 0 1 1-11 0 12 0-1 0 3 0-4 1-5 0 0 0-2 0 1 0-5 1 0 0 12 0-8 0 0 0 2 0-3 0 6 0 3 1-7 0 6 0 1 0-5 0-6 0 8 0-7 1-1 0 2 0-2 0 12 0-2 0-1 0-2 0-4 1 2 0-3 0 11 0 0 0-10 0-4 0 7 0-5 0 7 0-2 1 5 0 0 0-10 0 9 0-8 1 8 0-2 0 2 0-3 0-7 0 4 1-3 0 0 0 2 0 1 1-4 0 2 0 2 0 8 0-9 0-3 1-1 0 11 0-2 0 5 0-11 1 2 1 4 0 3 0 1 0-9 0 1 1-5 0 13 0-13 1 0 0 11 0-8 0 7 0 2 0-7 1 8 0-1 0 0 0-10 1-2 0 11 0-6 0 3 1-5 0-3 0 4 0 3 0 3 0 1 1-3 0-1 0-7 0 12 0-5 1-3 0 4 0 5 0-8 0-5 1 3 0-3 1 14 0-12 0 13 1-2 0-10 0 0 1 8 0-5 0-3 0-2 0 3 1-2 0 5 0-4 1-4 0 1 0 7 0 4 1 1 0-1 0-2 1-6 0 12 1-12 0 8 0-10 0 6 1-7 0 14 0-12 1 8 2-7 1 8 0-7 1 4 0 1 1-4 0 0 1 7 0-4 1-8 0 13 1-10 0-3 1 12 1-3 1-6 0-1 0 7 7 1 2 3 3-1 1-10 0 9 0-11 3 13 0-4 1-1 0 4 1-9 1 2 3 4 1-6 2 4 2 2 1-3 2-5 13 23-191-1 7 6 1-3 4-5 1 2 5-5 0 8 2-8 3 4 1 3 3-6 0 8 2-11 0 6 2-1 0 9 0-11 1 6 2-3 0 7 1-5 2-2 2 2 0 5 1-11 0-3 0 8 3-3 0-2 0 3 0 1 0 3 0-4 1 2 0 6 1-9 0 7 2-8 0 6 0 3 0-11 0 1 1 8 1 5 0-14 0-1 1-1 0 13 1-6 0 8 0-1 0-6 1-5 0 6 1-2 1-4 0 7 0-4 0-4 0 6 0 4 0-5 1-7 0 16 1-4 0 0 0-1 0-4 0 0 0-2 1 10 0-3 0-1 0 1 1 1 0-1 0 3 0-10 0 2 0 1 1 7 0-2 0-1 0-4 0-6 1 6 0-4 1 5 0-8 0 1 0 11 0-12 0 15 0-5 0-1 0 2 0-6 1 5 0 3 0-13 0 9 1-7 0-2 0 5 0-1 0 10 0-1 0-1 0 0 0-4 1 5 0-2 0 0 0-7 0 10 0 1 1-13 0 5 0 4 0-2 0 5 0-15 0 11 1 5 0-10 0 4 0 6 0-3 0-2 0-8 1-1 0 14 0-10 0 4 0-6 0-2 0 10 0 2 0-5 1-3 0-4 0 7 0-4 0 3 1-7 0 2 0 9 0-10 0 3 0 11 1-4 0-7 0 1 0 5 0-8 0 6 1-3 0-6 0 12 0-4 0 0 0-3 0 9 0-7 0 5 1-7 0 10 0-14 0 3 0 2 0 3 0 0 0-6 0 8 0 0 1-10 0 6 0 5 0-5 0-3 0 9 0-3 1 0 0-3 0-3 0 2 0-3 0 2 0 2 0-2 0-1 0 2 0 6 0-1 0-9 1 0 0 10 0-8 0 9 0-10 0-2 0 2 0 5 0-2 1 8 0-14 0 5 0-5 0 6 0-2 0 0 0-4 0 6 0 4 0 5 0-3 1-5 0 0 0-6 0 5 0-4 0 8 0 5 0-13 0 6 0 5 0-5 1 2 0-3 0 1 0 8 0-3 0-8 0-4 0 14 0-7 0 7 0-14 0 5 0 7 0-11 0 13 1-8 0 7 0 0 0-1 0 2 0-1 0-5 0-6 0-2 0 7 0-6 1 10 0-3 0 2 0-10 0-1 0 1 0 0 0 12 0-5 0-6 0 9 1-4 0 0 0-3 0-1 0 11 0-1 0 1 0 1 0-3 0-11 0 9 0 1 0 1 1-8 0 12 0-10 0-5 0 12 0-3 0 1 0-10 0 13 0-5 0-9 0 15 0-7 0-3 0-3 1 1 0 11 1-11 0 2 0 2 0 1 0 5 0-5 0-2 0 4 0-5 0-3 0 9 1-6 0 0 0 5 0-5 0 3 0 2 0-3 0-2 0 6 0-9 0 8 0 2 0-7 0-1 0 4 0-6 0 2 1 8 0-11 0 6 0-4 0 0 0 11 0-11 0 2 0 8 0 2 0-15 1 3 0 1 0-1 0 5 0 5 0-3 0 2 0-10 0 11 0-3 0-6 0 6 0-3 0 8 1-13 0 4 0 2 0 7 0-7 0-2 0 8 1-8 0-3 0 3 0 9 0-5 0 0 0-2 0-6 0 10 0 4 1-6 0 4 0 2 0-7 0-7 0 7 0 6 0-11 0-1 0 7 0-2 0-4 1-2 0 9 0 5 0-3 0-5 0-3 0 2 0-6 0 7 1 5 0 2 0-12 0 7 0 6 0-14 0 1 0 1 0-3 0 2 0 10 0-7 1-5 0 2 0 11 0-11 0 5 0-8 1 6 0 5 0-4 0 8 0-8 0-4 0 9 1-4 0 5 0-12 0 3 0 1 0 10 0-12 0-2 0 10 0 4 0-6 0 5 1-12 0 5 0 9 0-5 0-10 0 4 0 5 0-5 0 10 0-3 0-10 0-1 0 1 0-1 1 6 0 1 0-4 0 12 0-14 0 12 0-4 0 5 0-6 0 2 0 0 0 3 1-10 0-4 0 1 0 12 0 3 0-5 0-5 0 5 0-7 0 2 0-5 1 0 0 2 0 9 0-1 0-8 0 10 0-4 1-2 0-6 0 5 0 2 0 7 0 0 0-4 0 3 0-4 0 5 1-1 0-9 0-4 0 1 0 4 0-5 0 10 0-4 0-2 0 9 0-4 0 5 1-5 0-2 0-1 0 5 0-9 0 7 0-4 0 2 0-3 0-4 0 5 0 0 0-1 1 10 0-3 0 2 0-6 0 6 0-4 0 2 0-6 0 3 1 2 0 5 0-16 0 5 0 2 0 4 0-5 0-4 0 2 0 2 1-3 0 10 0 1 0 1 0-6 0-5 0-1 1 2 0 3 0 1 0 1 0-5 0 2 0-6 1 9 0-3 0-3 0-3 0 12 0-7 0 2 0 7 0-2 0-5 0-3 1 4 0-4 0 9 0 1 0-8 0 5 0-10 0 9 0 3 0-5 0-3 0-3 1 10 0-4 0-7 0 7 0-2 0 0 0 8 0-13 0 2 0 2 0 7 0-1 0-4 0 5 0-9 0-1 0 4 0-4 0 13 0-16 1 8 0 7 0-6 0-7 0 8 0-9 0 14 0-9 1 5 0 1 0 0 0 2 1-4 0 1 0-6 0 3 0 5 0-9 0 6 0 1 1 4 0-7 0-3 0 6 0-11 0 11 0-8 1 6 0-5 0 9 0-2 0-3 0 4 0 1 0-10 1 5 0 0 0-4 1 3 0 2 0 3 0-5 0-4 0 3 0 4 0 0 1-10 0 5 0 7 0 0 0-8 1 5 0-4 0 11 0-5 0 4 0-11 0 10 0-2 0 0 0 1 0-4 0 2 1-5 0 9 1-7 0-8 0 14 0-8 0 2 1 8 1-13 0 12 0-10 0 1 1 4 0 5 0-3 0-3 0-9 1 4 0-2 0-1 0 13 0-11 0 4 1-1 0 0 0 9 0-5 0-5 1 3 0 6 0-1 1-5 0 1 0-1 0 5 0-2 1-1 0 5 1-12 0 7 0-3 1 6 0-1 0-12 0 15 0-10 1 2 0-2 1-3 0 6 0 6 0 2 0-10 1-5 0 3 0 10 0 0 0-8 1 1 0-6 0 2 1 10 0 2 1-6 0 4 1-11 0 5 1 4 0 3 0-6 1 7 2-10 0 0 1 5 1-5 0 8 1-2 0-11 1 14 1-1 0-9 1-2 0 6 0-7 1 1 3 8 4-8 1-1 1 14 3 1 2-2 0-7 2 2 1 2 0-5 2 3 1 20-167-11 1-1 2 5 5-2 5 0 3 8 1-10 0 2 0 12 0-1 1-10 1-4 0 12 1 2 1-8 1 2 5-4 1 9 3-3 1-9 0 5 1 7 2-8 1 4 0 3 1-8 0 5 1-1 0-5 1-4 1 6 0 5 1 0 1-5 0 6 1 3 1-6 0-7 0-1 1 0 0 1 0 12 0 1 0-11 1 10 0-13 0 4 1-1 0 11 0-6 2 3 0-9 0-2 1 11 0-8 0 2 0 9 0-11 1-3 0 8 0-7 1 1 0 9 0-1 0-8 0 2 1 9 0-9 0 7 1 0 0 3 0-8 0 7 0-4 1-2 0-3 1-3 0 3 0-1 0 6 0-6 0 5 0 1 1-7 0 3 0 3 0-2 0-2 0 4 0 2 0-8 0-1 0 11 1-6 0-1 0-1 0 8 0-4 0-9 1 12 0-10 0 4 0 6 0-2 0 0 1-9 0 0 0 6 0-1 1 4 0-4 0 7 0-9 0 4 0-1 0 4 0-2 0-8 1 6 0-4 0 7 0-3 1-6 0 7 0 6 0-11 0 3 0 4 0 3 1-13 0 10 0 4 0 2 0 0 1-12 0 6 0-5 0-2 0 8 0-4 1 6 0 0 0-10 0 6 0-7 0 3 0-5 0 0 0 11 1 3 0-8 0-4 0 10 0-6 0-3 0 12 1 1 0-14 0 13 0-4 1 0 0 3 0 1 0-14 0 11 0 4 0-13 0 8 0 0 0 2 0-4 1-1 0-3 0-1 0-3 0 13 0-12 0 1 0 6 0 2 0-8 1-2 0 12 0-2 0 2 0-10 1 3 0 9 0-13 0 9 0 1 0 4 0-8 0 4 0-6 0 3 0 6 0 1 0-4 1 2 0 1 0 1 0-6 0 2 1-6 0 9 0-4 0-10 0 15 0-15 0 13 0-8 0 9 1-3 0-3 0-3 0 4 0 6 0-7 0 1 0-4 0 6 0 2 0-8 0-2 1 11 0-5 0 5 0-2 0 2 0-6 0 3 0-2 0 2 0-5 1 5 0-3 0 0 0 4 0-10 0 12 0-10 0-3 0 5 1 7 0-13 0-1 0 8 0 7 0-4 0-7 0 3 0 6 0-13 0 3 0 9 1-6 0 2 0-7 0 0 0 6 0 7 0-14 0 16 0-1 0-1 0-5 0-3 0 9 0-12 0 2 1 10 0-6 0-8 0 6 0-4 0 11 0-1 0-4 0 7 0-14 0 8 1-3 0 4 0 2 0-10 0 4 0-4 0-2 0 3 0-3 1 15 0-15 0 4 0 2 0-1 0-2 0-4 0 4 0-1 0 1 0 10 0-5 0 5 1 1 0-15 0 6 0 5 0-7 0 6 0 0 0 4 0-2 0-3 0 6 0-5 0-9 0 2 1 5 0-5 0 9 0-10 0 14 0-5 0-7 0 1 0 10 0-8 0 5 0-7 1 9 0-10 0 4 0-3 0 2 0-6 0 13 0-13 0 9 0-7 0 4 0-2 1 11 0-2 0-6 0 3 0 0 0-7 0 5 0 3 0-8 1 1 0 10 0-13 0 7 0 3 0-12 0 8 0-5 0 9 0 1 0 2 0-14 0 12 0-2 0-2 0 0 0-2 1 4 0-5 0 3 0-6 0 5 0 5 0-9 0 2 0 10 0 0 0-7 0 2 0-2 0 3 0 2 1 2 0-13 0 4 0 0 0 0 0 5 0 2 0-13 0 8 0-7 0 13 0-4 0-3 1 8 0-6 0-9 0 8 0 2 0 1 0-5 0 6 0-12 0 10 0-8 0 5 0 4 1-11 0 1 0 10 0 4 0-1 0-1 0-3 0 1 0 4 0-1 1-2 0-5 0 0 0-3 0-4 1 0 0 12 0-9 0 11 0-1 0-5 0 1 0-8 0 2 0 1 1-1 0 12 0-6 0-2 0-5 0-2 0 7 0 6 0-11 0 1 0 7 0 1 1-4 0 5 0-11 0 6 0 7 0-3 0-11 0 6 0 1 0-6 0 6 0 1 0-7 0 13 0-6 0 1 0-8 0 4 1 7 0-7 0 5 0-6 0 10 0-14 0 10 0-10 0-1 0 2 0 11 0-9 1 6 0-1 0 6 0-4 0-8 0 9 0 0 0 2 1-9 0 7 0-6 0-5 0 4 0-4 0 0 0 8 0-4 0-3 0 9 0 5 1-5 0-9 0 3 0-4 0 9 0 1 0-7 0 5 0-5 0 1 0 6 0-8 1-2 0 1 0-1 0 10 0-5 0 9 0-8 0-4 0 7 0-10 0 7 0-7 0 13 0 0 1-12 0 7 0 3 0-5 0-1 0 8 0-6 0-5 0 10 0-2 1 3 0-12 0 4 0 5 0-5 0 10 0-14 0 1 0 9 0 4 0-6 0-4 1-1 0 0 0-3 0 5 0-3 0 9 0 4 0-4 0 2 0-2 1-2 0-5 0 1 0 2 0-3 0 6 0-3 0-7 0 9 0-1 0 1 0 6 0-10 0-1 0-1 1 7 0-2 0 0 0 4 0-2 0-1 1-7 0 12 0-8 0 5 0-9 0 4 0 4 0-3 0-7 1 11 0-4 0-3 0 3 0 4 0-8 0 1 0-4 0 1 0 9 0-9 0 4 1-2 0 4 0-4 0 9 0-11 0 14 0-15 0 14 1-10 0 3 0 3 0-3 0 1 0 4 0-3 0 0 0-7 0 2 0 11 1-4 0-8 0 9 0-2 0 0 0-10 0 2 0 5 0-8 0 1 1 9 0-1 0-5 0-1 0 1 0-2 0-1 1 10 0 2 0-4 0-1 0-7 0 1 0 3 0 10 0-12 0 2 0 3 1 0 0-6 0 6 0 2 0-6 0 4 0-1 0 1 1 5 0-4 0-8 0 14 0-3 0 1 0-2 0-5 0 0 1-6 0 11 0-10 0 2 0 9 0 3 0-13 1 6 0-2 0 6 0-10 0 11 0 1 0-1 1-8 0-1 0 9 0-9 0 2 0-6 0 11 0 4 1-12 0-1 0 10 0 1 0-8 1 0 0 1 0 3 0 6 0-13 0 4 0 10 0-8 0-1 0 8 1-5 0 4 0-1 1-7 0-1 0 9 0-8 0 0 0 0 0-4 0 1 1 3 0-2 0 5 1-9 0 12 0-1 0-9 0 8 1 4 0-8 0-4 0 6 0-1 0-1 0 1 0 4 0 3 0 0 1-1 0 0 0-6 0 0 0 2 0 2 0-9 0 11 1-3 0-5 0-1 0 9 1 3 0-12 0 10 0-5 0 1 1 4 0-8 0 3 1-4 0-1 1 7 0-2 0-8 1 0 1 7 1-6 0 6 0 0 1 4 0-9 1 2 0-5 0 11 0-7 1 3 0 4 0-4 0 7 1-9 0-3 2 2 0-1 0 12 0-13 1 8 0 0 0-1 1-8 0 3 0 9 1-13 1 4 1 9 1-5 0 6 0-1 1-13 0 6 1 5 1 4 0-5 0-2 1 3 0-1 1 1 1-4 4-3 6 4 0-6 2 1 2 9 10 4-174 11 3-10 2 2 3 4 1-1 1 0 4-3 11 5 0 0 1-6 2 3 1 2 0 5 0 3 4-11 1 9 0 3 0-11 1 8 1 0 0-1 0 3 0-4 0 3 1-4 0 2 0-7 1 10 0-15 0 10 1-4 1 1 0 3 1 5 0-15 0 5 0-3 1 13 1-9 0 5 1-8 0 6 0-5 1 7 0-6 0 1 1 5 1-3 1 2 0 0 0 5 0-10 0-3 1 2 0 8 1 3 0-4 0 0 0-11 0 0 0 16 1-13 0-1 0 9 1 4 0 0 0-14 0 10 0 4 0-10 1 6 0-6 1 2 0-4 1 4 0 6 0-7 0-4 1 14 0-13 0 7 0-10 0 2 0 7 1-9 0 6 0 9 0-6 0-7 0 12 0-6 0 0 1 4 0 4 0-15 1 9 0-5 0 3 0-7 1 3 0 9 0-7 0 5 0 2 0-5 0-7 1 1 0 11 0-1 0 0 0 2 0-12 0 11 1-6 0 5 0-7 0 7 0-8 0 3 0-3 0 8 0-9 0 1 0 9 0-3 1 0 0 1 0-10 0 3 0 8 0 0 1-7 0 10 0-10 0-2 0 0 0-1 0 13 0-13 0 0 0 11 0-8 0 10 0-12 1 6 0-5 0 9 0-7 0-3 0-2 0 15 0-10 0 7 0-6 1-3 0 10 0 0 0-14 0 9 0-8 0 11 1-4 0-6 0 11 0-11 0-1 0 7 0 3 0-4 0-1 1-1 0-2 0 7 0-4 0 8 0-1 0-1 1 0 0-4 0 7 0-15 0 14 0-9 0 0 0 6 0-2 1-3 0 7 0-6 0-5 0 1 0-1 0 4 0-5 0 9 0-6 0 9 1-4 0-1 0 6 0-11 0 5 0 1 0 3 0-8 1 8 0 2 0-6 0 1 0 1 0-9 0 11 0 3 0-4 0-9 0 7 1 1 0 5 0-1 0-8 0 0 0 8 0-10 0 1 0-1 0 1 0-5 0 15 0-5 0-3 1 4 0-3 0 1 0-6 0 5 0 0 0-4 0 5 0 0 0 4 0-6 0-4 0-2 1 8 0-2 0 7 0-5 0-6 0 12 0-9 0 8 0-8 1 0 0-1 0-3 0 9 0-5 0-1 0-2 0-2 0-1 0 13 0-7 0-3 1-1 0 7 0-7 0 1 0-2 0 1 0 11 0 2 0-10 0-3 1 11 0-7 0 1 0 0 0 2 0-4 0 6 0-9 0 9 0-3 0-5 0 4 0-2 0 8 1-8 0 4 0 1 0 3 0-2 0 0 0 2 0-11 1 14 0-12 0-3 0 4 0-3 0 4 0 1 0-4 0 0 0 6 0-6 0 5 0 1 1 3 0-6 0-5 0 7 0-2 0 2 1 8 0-11 0 2 0 0 0 2 0 7 0-6 0-1 0-2 0-3 0 12 1-15 0 4 0-2 0-2 0 7 0 3 0 2 0 2 0 1 0-8 0-4 0 1 0 6 0 3 0-6 0 5 0 1 1-10 0 6 0-2 0-6 0 2 0 5 0 5 0-1 0-1 0-10 0 13 0 1 0-3 0-12 0 2 0 3 0 3 0-7 0 0 1 13 0-4 0-3 0 3 0 0 0-1 0-5 0 0 0 5 0-6 0 4 0-2 0-4 0 4 0 6 0-2 0-8 0 3 1 4 0 5 0-12 0-1 0 3 0-1 0 3 0 2 0 4 0-2 0 3 0-3 0-5 0 1 0 5 0-4 0-5 0 10 0-10 0 3 0 6 0 3 0-3 1 4 0-2 0-7 0 7 0 1 0-6 0-1 0 1 0-5 0-2 0 3 0-1 0 5 0 1 1 0 0 5 0-5 0-3 0 3 0-4 0 8 0 0 0 3 0 0 0-11 0 6 1-8 0 5 0-7 0 5 0-5 0 6 0 9 0-9 0 8 0-8 0 4 0-2 0 2 1 3 0-13 0 11 0 2 0-10 0-2 0-1 0 5 0 0 0 1 0-5 0 10 0-2 0-8 0-2 1 10 0-3 0-5 0 8 0 0 0-1 0 0 0-6 0-1 0 10 0-1 0-9 0 2 1-1 0 1 0 9 0-11 0 4 0 0 0 3 0 3 0-8 0-3 0 2 0 11 1-2 0-4 0 7 0-3 0-11 0 8 0 3 0 3 0-12 0 12 0-9 0-4 0-1 0-1 0 0 0 1 1 1 0 3 0 3 0 2 0-1 0 5 0-11 0-2 0-1 0 4 0 5 0-4 0-3 0 13 0 0 0-4 1 3 0-6 0-1 0-3 0 4 0-2 0-1 0-3 0 1 0 11 0 0 0-5 0-5 0 6 0-9 0-1 0 11 0-3 0-1 1 7 0-6 0-3 0 7 0-12 0 8 0-7 0 5 0-3 0 4 0 3 1 3 0-2 0-1 0 1 0 2 0 2 0-9 0 6 0-1 0-11 0 15 0-2 0-8 0-3 1 4 0-1 0 7 0 0 0 2 0-11 0 4 0-2 0-4 0 6 1-7 0 9 0 6 0-2 0 0 0-8 0 10 0-14 0 5 0-4 0 12 0-3 0-8 0 12 0-10 0-2 1 2 0-2 0 9 0-10 0 3 0 4 0-8 0 4 0 4 1 0 0-1 0 3 0-2 0 4 0-3 0 5 0-10 0 8 0-4 0 3 0 1 0-11 0 11 0-6 0-3 1 5 0 6 0-8 0 8 0-2 0-3 0-5 0 0 0-3 1-2 0 7 0 0 0 1 0-1 0 8 0-13 0 1 0 5 0-6 0 1 0 1 0-2 0 11 0-8 1-3 0 13 0-9 0-2 0 10 0-13 0 9 0-7 0 8 0-6 0 8 0 3 0-2 0-5 1-7 0 13 0-7 0 7 0-4 0 5 0-3 0-3 0-1 1-5 0 6 0 3 0 2 0-12 0 9 0-10 0 4 0 3 0-3 0 1 0-5 0 6 0-4 0 12 0-12 0-4 0 6 0 1 0 2 1 0 0 4 0-8 0 4 0-1 0 7 0-11 0 0 0-1 0-2 0 12 0 1 1-8 0 8 0 1 0-8 0-6 0 12 0-10 0 0 0 8 0-7 0 8 1-9 0-3 0 12 0 0 0-3 0-5 0 6 0 1 0-9 0 3 0 6 0-8 1 0 0-2 0 7 0 2 0 6 0-13 0 3 0 1 0-5 0 11 0 3 1-3 0 2 0-5 0 2 0-9 0 3 0 5 0 3 0-11 0-2 1 12 0-11 0 12 0-10 0-2 0-1 0 7 0 0 0 3 1-4 0 0 0-6 0 0 0 15 0-3 0 0 0-12 0 8 1 7 0-3 0-4 0-5 0-3 0 13 0-5 0 5 0-11 0 3 0-2 1 5 0 3 0-2 0 3 0-13 0 12 0 3 0-3 0-2 0-10 1 15 0-13 0 3 0-2 1 12 0-14 0 15 0-1 0 0 0-7 0-2 0 4 1-6 0 6 0-1 0 5 0 0 0-13 0 10 0-8 1 3 0 4 0-4 0 6 0-6 0 8 0-7 0 6 0-12 1 7 0 0 0 2 0-1 0-6 0 2 0 6 0-10 1 12 0-9 0 0 0 5 1 2 0 2 0-9 0 11 0-7 0-4 1 6 0-8 0 4 0 8 0-12 0 5 0-2 1 11 0-15 0 15 0-6 1 2 0-5 0 8 0-3 0-9 0 4 0-5 0 12 0 0 1-4 0-9 0 14 1-3 0 4 0-8 0-2 0 1 1 4 0 0 0 2 0-8 0 6 0-3 0 3 1-11 0 5 0-1 1 3 0-4 0 3 0 1 0 0 0 3 1 6 0-15 0 0 0 4 1-3 1 7 0-7 1 13 0-5 0-1 0 0 0-8 0 12 1-7 0 4 1-7 0 5 0 1 1 6 0-11 0-4 0 7 1-2 1 9 0-5 1-5 0 1 0-1 0-2 1 0 1 10 0-11 1 11 2 4 0-7 1-1 0 5 0-11 0 0 1 8 0-3 0-3 1 9 2-12 2 5 1 9 1-14 4 5 2 3 0-6 2 3 1-4 4 4 1 4 0-4 2-1 4-5 1 13 8 3-178 6 2 5 2 0 3 3 2 1 4-5 3-4 1 1 2 6 2-12 0 15 1 0 2-4 0 2 0-13 4 12 0-1 1-1 2-4 0 2 1 3 0-1 0-4 2 7 1 1 0-12 1 0 0 12 2-2 0-6 1-6 0 15 1-2 0-14 0 5 0-4 1 4 0-1 0 0 0 0 1 8 0 3 0-8 0-1 0-2 0 8 0-6 1 6 0-6 0-5 2 0 0 12 0-8 0 6 1 0 0-2 1 4 0-10 0 10 0-6 0 7 1-11 0-2 0 4 0 4 0-8 0 13 0-1 0-7 0-4 0 5 1 3 0-9 2 10 0-7 0 8 0-9 1-1 0 11 0-1 0-9 0-1 0 6 0 3 1-8 0 2 0 7 0 4 0-14 0 9 0 3 1-10 0 2 0 1 0 1 0-4 0 2 1-3 0 7 0 2 0-12 0 1 0 15 1-14 0 1 0 10 0-11 0 12 0-4 1-9 0 6 0-7 0 7 0-1 0-3 0 0 1 9 0-4 0 4 0 0 0-6 0 8 0-13 0 12 0-1 0-5 1 9 0-2 0-9 0-4 0 10 0-4 0 7 1-8 0 5 0-5 0 5 0 1 0-1 0-7 0 0 1 5 0-9 0 10 0 4 0-4 0-1 0-7 1 6 0-1 0 4 0-8 0 12 0-12 0 0 0 3 0 7 0-3 0-4 0 8 1-7 0 3 0-8 0 0 0 6 0-7 1 6 0-3 0 0 0 10 0-10 0-3 0 14 0-11 0 3 1 6 0-9 0-2 0 6 0 2 0 5 0-12 0 1 1 9 0-9 0 0 0-4 1 4 0 8 0 4 0-10 0 8 0-6 0-4 0 8 0-8 0-3 0 3 0 10 0 1 1-12 0-2 0-1 0 13 0 2 0 0 0 1 1-12 0-4 0 2 0 12 0-14 0 15 0-7 1 0 0-8 0 9 0 1 0 0 0-6 0 3 0-2 0 10 0-13 1 6 0-4 0-3 0 2 0 7 0 1 0 2 0-1 0-11 0 9 0-4 1 2 0-7 0 0 0 14 0-5 0 5 0-14 0 9 0-6 0 1 0-2 0 6 1-3 0 1 0 7 0-11 0 9 0-5 0 5 0 1 0-11 0 13 0-14 0 6 1-5 0 1 0 9 0-1 0 4 0-11 0-2 0 11 0 0 0-10 0 9 0-11 0 1 0 5 0-5 0 6 0 2 0-3 0 3 0 4 1-8 0 8 0 2 0-15 0 7 0-1 0-4 0 2 0 10 0-2 1 1 0-12 0 7 0 3 0-8 0 6 0 3 0-11 0 10 0-4 0-4 0 8 0-6 0 5 1-11 0 5 0 7 0 0 0-5 0 4 0 3 0-1 0-3 0-9 0 2 0 5 0-7 0 0 0 1 1 8 0 3 0 1 0-7 0-4 0-2 0 2 0 9 0-8 0 8 1-11 0 5 0-3 0 1 0 12 0-5 0-8 0 1 0 10 0-14 0 13 0-7 0 8 0-8 0-3 0 2 0 0 0 4 0-6 1 2 0 8 0 3 0-8 0 0 0 7 0-10 1 9 0-5 0-3 0 3 0-8 0 13 0-7 0-2 0 7 0-7 0 6 0-1 0 2 0 1 0-4 1 2 0-10 0 0 0 10 0-7 0-3 0 1 0 3 0 6 0-7 0-4 0 7 0-7 0 11 0 0 0-2 0 5 1 2 0-2 0-11 0 12 0-9 0-1 0 5 0-3 0 7 0-1 0-3 0-3 0 9 0-7 0-4 1-1 0 1 0-5 0 1 0 5 0 5 0 4 0-7 0-1 0 0 0 0 0-1 0 8 0 2 0-8 0-5 0-2 0 11 0-9 1 5 0-1 0-6 0 0 0 6 0 4 0 0 0-3 0 8 0-2 0-13 0 11 0 2 0-8 0 0 0 1 0 5 0-4 0-2 0 3 0 1 1-10 0 12 0-11 0 7 0 8 0-12 0 0 0 10 0-12 0 13 0-7 1-3 0 7 0 1 0 1 0-3 0-1 0-1 0-3 0 1 0 2 0 1 1 5 0-13 0 13 0-4 0-10 0 4 0 1 0 4 0-8 0 13 0-7 0 5 0-4 0-5 0 11 0-13 0 11 0 3 1-5 0-2 0 5 0-1 0-6 0-4 0-1 0 4 0 1 0 5 0-5 0 3 0-9 0 10 0-7 1 11 0-6 0 3 0-12 0 4 0 2 0-3 0 13 0-2 0 1 0-2 0-13 1 12 0-6 0-4 0 1 0-2 0 10 0 1 0-9 0 8 1 2 0-3 0 1 0 2 0-3 0-9 0 15 0-6 0-1 0-2 0 6 0 0 0-3 0 6 1-13 0 10 0-2 0 1 0-1 0 3 0-13 0 2 0 8 0-3 0-3 0-3 0 13 1-2 0 1 0-7 0-3 0 8 0-6 0 1 0 4 0 1 0-7 0 6 0-9 0 5 0-1 0 0 0 8 0-12 0 7 0-9 1 2 0 4 0-5 0 2 0-3 0 16 0-11 0 8 0-1 0 3 0-4 0-4 1 0 0-2 0-1 0-1 0 5 0-1 0 9 0-14 0 3 0 10 0 0 0-5 0-8 0 4 1 0 0 6 0 0 0-6 0-5 0 8 0 7 0-7 0-7 0 6 0 4 0-9 0 12 0-1 0-8 0 10 0-6 1-1 0 3 0 0 0 0 0-6 0 7 0-5 0-2 0 7 0-4 1-7 0 12 0 2 0-10 0-1 0 4 0-7 0 10 0-12 0 10 0-1 0 1 0 4 0-4 1-9 0 7 0 5 0-11 0 11 0-7 0 8 0-7 0 0 0 0 0-5 0 11 0 1 1-11 0-1 0-1 0 3 0 2 0 2 0 6 0-10 0-3 0 2 0 8 0-2 1 5 0-7 0 0 0-2 0-2 0-3 0 14 0 1 0-9 0 2 0-3 0 10 0-2 1-10 0 10 0-7 0-1 0 8 0 1 0-4 1 1 0 4 0-13 0-2 0 2 0-1 0 7 0 0 0-1 0 4 0 4 0-4 0-7 0 3 0 0 0 4 0-4 0 7 0-7 0 5 0 4 0-3 1 0 0-3 0-4 0 8 0-4 0 3 0-13 0 10 0-7 0 12 0-13 0 14 0-5 0-4 0 4 0 0 0-3 1 1 0 1 0-8 0 10 0-10 0 4 0 7 0-11 0 5 0 5 0-5 0-2 1-4 0 3 0 9 0 2 0-13 0 12 0-7 0 5 0-1 0 5 0-1 0-12 0 12 0-6 0-2 0 5 0 2 0-8 0 6 1 0 0-12 0 8 0-1 0-1 1-4 0 13 0-6 0-5 0-3 0 8 0 2 0 3 0 1 0-14 0 10 0-1 0-5 0 0 1 4 0-9 0 3 0 1 0 9 0-12 0 7 0-4 0 7 1 2 0-5 0 5 0-1 0-8 0 5 0 0 0 1 0-9 0 9 1-2 0 0 0 7 0-13 0 1 0 4 0 3 0 4 0-9 0 3 1-4 0 0 0 4 0-5 0 3 0-3 0 0 0 7 1 5 0-6 0-9 0 0 0 5 0 2 0-7 1 11 0 0 0-1 1-6 0 10 0 2 0-1 0-3 1-1 0-9 0 9 0-4 0 7 1-13 0 10 0-10 0 15 0-9 0 4 0 2 0 1 0-9 1 0 0 9 0-8 1 1 0 7 0-4 0-2 0 3 0-3 0 7 0-4 0-10 0 8 1 6 0-15 0 13 0-1 1-11 0 14 0-15 1 9 0-8 0 15 1-2 0-3 0 5 0-7 0-7 0 10 0-10 0-1 1 6 0-2 0-1 1 7 0-9 0 14 1-4 0 3 0-11 1 1 0 6 0-5 0 7 0-1 0-9 0 3 1-5 0 14 0-11 1 8 0 1 0 0 0-10 1 8 0-4 0-4 1 10 1-8 0 6 1-9 0 9 0-2 0-6 0 10 0-1 1-8 0 5 0 1 0-8 0 9 1-9 0 5 0 0 1 5 0-3 0-4 0 8 0-10 1 11 0-13 1 5 0-5 0 8 1-6 0 11 0 0 1-9 0 11 1-14 0 2 1-3 0 14 3-11 0 4 3-2 0-2 2 0 1 2 5-3 0 9 0-11 1 7 1-5 2 12 1-7 3 5 7-12 3 15 4-12 1 27-183-15 3 9 1 4 0-1 2 0 4-7 5 6 0 2 0-12 4 10 1 2 1 2 6-2 1 2 3-14 0 2 2 7 1-6 0 8 1-7 1-3 0 1 0-2 1 13 0-12 0-1 1 0 0 4 1 0 0-3 0 5 0 1 1 3 0-2 0-1 0 0 0 6 2-2 0-6 0-2 1 1 0 8 0-12 0 2 1 9 0-10 1 3 1-2 2 5 0-4 0 4 0 7 0-3 0-11 1 9 0 0 0-5 0 10 0-10 0 1 0 4 1 5 0-8 0 2 0-1 1 1 0 5 1-2 0-1 0-2 1 3 0-7 0 7 0-4 1 2 0-5 0 0 1 9 0 2 1-7 0-1 0-4 0 2 0-1 0 7 1-8 0 2 0-3 0 3 0-2 0-3 1 3 0 3 0 5 0-9 0 8 0 4 0-3 0-7 1 1 0 7 0-12 0 4 0 8 0-1 1-3 0-1 0 2 0-3 0-3 0-3 0 5 1-3 0 11 0-8 0 0 0 10 0-14 0 5 0 1 0-5 1 13 0-2 0-14 0 2 1 3 0 0 0 10 0-3 0 0 0 1 0-11 0 5 0 4 0-5 0-4 1 12 0-2 0-4 0 2 0 1 0-5 0-5 0 7 0 8 1-3 0-11 0 9 0 0 0-1 0 0 0-2 0 0 0-2 0-1 0 3 1-1 0 6 0-9 0 3 0 6 0 3 0-2 0-9 0 5 0-2 1-1 0-1 0-6 0 12 0-3 0 0 0 2 0-1 0-9 0 2 0 3 0 6 0 3 0 0 1-4 0-4 0-2 0-1 0 7 0-1 0-1 0-5 0-1 0 11 0-12 1 2 0 12 0-10 0 9 0 0 0-11 0 7 0-2 0-3 0-3 0 8 1-8 0 3 0 9 0-14 0 9 0 3 0 1 0 2 1-6 0-6 0 5 0-4 0 6 0 3 1-6 0-8 0 1 0 9 0-5 0-3 0 9 0-11 0 10 0 1 0-11 0 10 1-7 0 11 0-14 0 4 0-1 0-3 0 4 0 4 0 0 1 0 0-1 0-4 0 9 0 2 0 1 0 0 0-10 0 1 0 3 0-7 0 7 0 4 0-5 0 2 0-6 1 8 0-5 0 6 0-5 0 1 0-7 0 11 0-3 0-8 0 5 0 8 0-12 0 8 0 2 0-1 0-8 0-3 1 8 0 1 0-8 0 13 0-10 0 8 0-7 0-3 0 7 0-3 0 1 0 5 0-5 0-1 0-3 0 11 1 0 0-6 0 1 0-3 0-3 0 11 0 0 0-3 0 2 0 1 1-7 0-5 0 9 0 0 0-8 0 7 0 5 0-12 0-3 0 11 0-12 0 10 0-4 0 8 0 1 0-11 0 8 1-3 0 4 0-7 0-4 0-1 0 8 0 6 0-5 0-6 0 2 0 0 1 5 0-8 0 8 0 1 0-4 0 7 0-11 0 8 0-12 0 13 0 1 0-5 0 6 0-7 0 7 0-2 0-1 0 2 0-10 0 7 1 1 0-3 0 3 0-3 0 3 0-3 0-9 0 11 0 3 0-8 0 2 0 7 0-4 0 4 1-14 0 11 0 2 0-2 0 3 0 0 0 0 0-13 0 7 0 5 0-12 0 14 0-8 1-2 0 3 0-3 0-3 0 9 0 4 0-8 0 4 0-8 0 6 0-7 0 11 0 2 0-7 0 5 0 0 0-8 0 1 0 5 1 3 0-6 0-2 0 3 0 5 0-3 0-9 0-2 0 7 0 0 0-4 0 1 0 5 0-2 0 6 0-4 1 0 0-2 0 4 0 1 0-10 0 2 0 2 0 9 0-12 0 11 0-9 0-2 0 2 0 8 0-6 0-8 0 14 0-12 0 3 0 6 0-3 0 8 1-8 0 1 0-6 0 5 0-7 0 8 0-1 0-3 0-2 0 2 0-1 0 2 0-2 0 8 0 3 1 0 0-12 0 4 0 6 0-5 0 5 0-2 0 3 0-10 0 5 0-6 0 8 0 0 0-7 1 1 0 9 0-2 0 1 0-9 0 10 0-11 0 0 0 1 0 2 0 6 0-9 0 4 0-4 0 12 0-8 0 3 0-1 0 5 0-11 0 1 1 8 0-10 0 13 0-11 0 6 0-3 0 1 0-4 0 1 0 5 0 5 0-1 0-7 1 6 0-5 0 3 0-1 0-9 0 10 0 4 0-1 0 0 0-14 0 3 0-1 0 1 0 0 0 3 0 1 0 7 0-1 1 3 0-9 0 3 0-7 0 4 0 6 0 1 0-4 0-7 0 8 0-1 0-7 0 1 0 7 1-5 0 3 0-9 0 3 0 11 0-7 0 1 0-6 0 9 0-3 0-6 0 2 0 3 0 8 0-7 1 0 0 8 0-5 0-7 0 6 0 0 0-5 0 3 0-4 0 10 0-10 0 4 0 3 0-2 0 6 0-9 0-5 1 13 0 1 0-10 0 8 0 3 0-7 0-4 0 4 0-9 0 8 0 3 0 1 0 0 1-10 0-1 0 7 0-4 0 10 0-12 0 9 0-4 0-6 0 5 0 2 0 1 0-5 0 12 0-4 0-7 0 1 1-3 0-2 0 4 0 7 0-11 0 8 0-4 0 3 0 0 0-3 0-5 0 14 0-4 0-9 0 2 0-2 1 1 0 13 0-14 0 2 0 8 0 1 0-1 0-8 0-3 0 1 0 0 0 6 0 1 0 7 0-6 0 4 0 0 1 1 0-10 0 2 0 0 0 2 0 0 0 0 0-2 0-5 0 12 0-7 0 3 0 0 1-3 0-6 0 13 0-9 0 8 0-11 0 9 0-8 0 7 0 0 1-7 0-1 0 0 0 2 0-1 0-1 0 11 0-2 0 3 0 2 0-10 0 2 0 5 0-3 0 3 1 3 0-10 0 2 0-6 0 3 0 3 0-2 0-4 0 6 0-6 0 5 1-2 0 11 0 1 0-15 0 1 0 9 0 1 0 3 0-10 0-4 0 12 0-7 0 3 0 4 0-1 0-11 1 15 0-4 0 1 0-1 0-8 0 6 0-2 0-8 0 15 0-7 0 1 0-5 0 2 0-2 1-2 0 0 0 1 0 8 0 2 0-8 1 11 0-10 0 1 0 2 0 3 1-6 0-5 0 14 0-14 0 5 0 3 0-4 0-4 0 2 0 12 0-6 0-1 0-8 0 12 0-1 0-8 0-3 0 8 1 7 0-12 0 0 0 11 0-2 0-7 0 7 0-5 0-6 0 8 0 7 0-4 1-2 0-6 0 11 0-4 0-9 0 11 0 0 0-5 1-2 0-2 0 6 0 1 0 5 0-9 0-3 0-1 0 13 1-15 0 13 0-2 0-2 0-9 0 5 0 8 0-1 0-10 0 7 0 4 1-10 0 9 0-8 0 10 0-8 0-1 0 6 0 2 0-6 0 5 0-2 1-10 0 9 0-2 0 3 0-8 0 12 0-10 0 8 0-6 0-2 0 10 0-4 0-10 0 0 0 11 0-11 1 0 0 13 0-8 0 5 0-7 0 11 0-6 0-3 0-1 0 8 0-2 0-8 0 7 0 4 0-12 1 1 0 4 0-4 0 13 0-6 1 3 0-8 0-3 0 10 0-12 0 6 0 8 0 0 1-1 0-8 0-5 0 3 0 9 1 2 0-10 0-3 0 3 0 5 0-5 0 11 0-2 0-12 1 6 0-3 0-1 0 9 1-8 0 6 0 4 0-14 0 9 0 6 0-6 1 3 0-6 0 4 0-4 0 6 0-2 0 4 0-14 0 8 0-1 1 1 0 6 0-11 0 8 0 5 0-5 0 4 0-4 0 1 0-7 0 9 1-2 0 4 0-4 0-9 0-3 0 15 0-7 1 0 0-2 0-5 0 4 0-5 0 12 1-1 0-7 0 0 0 0 0 2 0 9 0-7 1 2 0 4 0-7 1-5 0 2 1 7 0-7 0 9 0-10 0 12 1-2 0-13 0 14 1-10 0 11 1-10 0-4 0 3 0 10 0-13 0 3 0-1 1-1 0-2 1 10 0 5 0 0 1 0 0-2 1-5 0 3 0-11 1 0 0 9 0 6 1-12 0 7 0-7 1 7 0-6 1 6 0-5 1-1 0-2 1 4 0-1 1-1 1-1 1 9 0-6 2 1 0-7 2 12 0-7 2 5 0-5 1 7 1-7 0 6 1-11 3 5 5 5 3 3 1-12 6 10 0-6 2 0 6 13-179 7 3 2 5-8 0-1 1 6 3 4 3-7 3 8 1 2 1-14 1 9 0-9 1 6 1 3 3-2 1 3 1-7 0-2 1 4 0 3 1 6 1-11 0 1 1-2 0 8 1 5 1-3 1-8 0-3 0 4 2-3 1 1 0 10 0 0 2-11 0 12 0-14 1 9 0-2 1 6 0 1 0-6 1 3 0 1 0-8 0-5 1 8 0-5 1 8 0-8 1 7 0-6 0-1 0 7 1-7 0 13 1-9 0-1 1-1 1 10 0-13 1 3 0-5 0 0 0 16 2-8 0 6 1 2 0-9 0 0 0 2 0 2 0 1 0-6 0-5 1 12 0-8 0 9 1 1 0-9 0-2 1 3 0 5 0-3 0-7 0 13 0-6 0-7 0 13 0-10 0 1 0 8 0-4 1 6 0-9 0 6 0 2 0-4 0-9 0 5 0 2 1-9 0 4 0-4 0 13 0-7 0 7 0-12 0 14 0-14 1 14 0-11 0-3 0 4 0 1 0 6 1-3 0-3 0 0 0-5 0 8 1-2 0 4 0 0 0-6 1 8 0-7 0 9 0-3 0-7 0 9 0 2 0-9 0-2 0-3 0 12 0 0 0-10 1-2 0 8 0 4 0 0 0 0 0-4 1 2 0 1 0-5 0 7 0 0 0-4 0-3 0-5 1 3 0 10 0-13 0 13 0-5 0-3 1-1 0-5 0 0 0 7 0 1 0 6 0-9 0 5 0 3 0-12 1-2 0 4 0 5 0 1 0-10 0 3 0 5 1 5 0-13 0 15 0-5 0 1 0 0 0-4 0 1 0 1 0-2 0 7 1-10 0 4 0 4 0-7 0 5 0-8 0 3 0 8 1-3 0 4 0-7 0 1 0 3 0-3 0-8 0 8 0 5 0-3 0 4 0-3 0-6 0 5 0 2 0-6 1-6 0 10 0-5 0-1 0-4 0-1 0 2 1 0 0 2 0-1 0-2 0 5 0 6 0-6 0-4 0 12 0-9 0 1 0-4 0 14 0-16 1 7 0-4 0 5 0 2 0-1 0 1 0 0 0-3 0 1 0-6 0 12 0-5 0-8 0 15 1-15 0 8 0-3 0-4 0-2 0 2 0 9 0-6 0 7 0-2 0 4 1-6 0 6 0-11 0-1 0 10 0 2 0-11 0 7 0-1 0 4 0 3 0-8 0-5 1-2 0 11 0-5 0-5 0 8 0-2 0-2 0 6 0-10 0 0 0 9 0 2 0-3 0-6 0 1 1 10 0-14 0 7 0 6 0-14 0 4 0 9 0-10 0 13 0-13 0 4 0 5 1-2 0 3 0-6 0 3 0-7 0 11 0-1 0-4 0-3 0-3 0 0 0 3 0-6 0 7 0 1 1-2 0 10 0-15 0 1 0-1 0 11 0 2 0-2 0-7 0 6 0-2 0 2 0-4 0 5 0 3 0-13 0 4 0 4 1 1 0-2 0 1 0-2 0 6 0 2 0-9 0-6 0 3 0 10 0-2 0-3 0 3 1-8 0 4 0-7 0 7 0 6 0 1 0-10 0-2 0 6 0 4 0-8 0-1 0-4 0 12 0-1 0-4 1-3 0 5 0-1 0 1 0-5 0 7 0-1 0 0 0 3 0-7 0-4 0 3 0 8 0-1 0-1 0 1 1 0 0-9 0 8 0-2 0-4 0 7 0-1 0-7 0 4 0-1 0-6 0 3 1 8 0-12 0 0 0 9 0 3 0-5 0-7 0 13 0-11 0 10 0-12 0 10 0-7 0 11 0 0 0-9 1 11 0-2 0-3 0 0 0-9 0-1 0 5 0 0 0 5 0-4 0 0 0 3 0-1 1-3 0 2 0 8 0-1 0-8 0 4 0-2 0-8 0 7 0-4 0 5 0-9 0 15 0-9 0 2 1 4 0-7 0 10 0-6 0-3 0-2 0-4 0 9 0 2 0-9 0 6 0 4 0 1 0-5 0 1 1-2 0 8 0-10 0 11 0-5 0-9 0 4 0 9 0-4 0-8 0 10 0-13 0 3 1 6 0-1 0 7 0-12 0 12 0-8 0-4 0 1 0 0 0-2 0 5 0 1 0-4 0-1 0 2 1-2 0 0 0 9 0-6 0-4 0-1 0 7 0-3 0 6 0-1 0 3 0-7 0 3 0 5 0 0 0-12 0 10 0 1 0-1 0-2 0 2 0-6 0-3 1 10 0-13 0 9 0-8 0 4 0-3 0 1 0 1 0 10 0-14 0 15 0-6 0-3 0-3 0 3 0-2 0-3 0 14 0-9 0 4 1-6 0-2 0 1 0-3 0 15 0-6 0-2 0 2 0 6 0-5 0-3 0-3 0 3 0 1 1 2 0-8 0 1 0 8 0-2 0 3 0 2 0-10 0-1 0 1 0 9 0-7 0-5 1 8 0 2 0-4 0 9 0-6 0-1 0-2 0-4 0 1 0 2 0 9 0 0 0-9 0 3 0-3 0-4 1 9 0-5 0 8 0-6 0 4 0-4 0 8 0-13 0 6 0-3 0-2 0-2 0 3 0-3 0 3 0 2 0-4 0 3 0-2 0 7 0-3 0 0 1 3 0 0 0-1 0 1 0-4 0 6 0 0 0-9 0 10 1-8 0 5 0 4 0 1 0-3 0-5 0 5 0-12 0 7 0-8 0 13 0-6 0-1 0 0 0 4 0 5 0 1 0 0 0-1 0-1 0-7 1 0 0-3 0 2 0-4 0 9 0 1 0-10 1 10 0-2 0-1 0-9 0 12 0-9 0 0 0 13 0-4 0-4 0 1 0-5 0 8 0-6 1 9 0-3 0-10 0 9 0 3 0-9 0 10 0-8 0-6 0 9 0 4 0-13 0 14 0-13 0 10 1 2 0-4 0 2 0-5 0-5 0 4 0 2 0-4 0 8 0-10 0 6 0-4 0 5 0-1 1 2 0-9 0 5 0 9 0-6 0 4 0-1 0-12 0 2 0 0 0 7 0-1 0-7 1 13 0-13 0 9 0 0 0-4 0 9 0-3 0-7 0 6 0 0 0-2 1 0 0-3 0-3 0 0 0 8 0-2 0 1 0 1 0-10 0 15 0-7 0-3 1-3 0 13 0-3 0-1 0-11 0 0 0 14 0-3 0 2 0 0 0-7 0 7 0-14 1 7 0-6 0 14 0-9 0 0 0 4 0 5 0-14 0 13 0-1 0 1 0 2 0-8 0 0 0-3 0 9 0-6 0 7 0-10 0 4 1 4 0-8 0 8 0-2 0-8 0 3 0 4 0-6 1 2 0 8 0-5 0-9 0 3 0 6 0 6 0 0 0-5 0 6 0-16 1 15 0-7 0 2 0 4 0 1 0-10 0 0 0 8 0-8 0 5 0 2 0-5 0 5 0 3 1-9 0 8 0 2 0-12 0 4 0 4 0 1 0 1 0-4 0 4 0-5 1-4 0-3 0-1 0 14 0-2 0 1 0 1 0-2 1 2 0-1 0-3 0 4 0-6 0-1 1 4 0-1 0 0 0 5 0-15 0 9 0 6 1-2 0-10 0 7 0-3 0-1 0 3 0-8 0 8 0 0 0-6 0 5 0 4 0-5 0 5 1-12 0 0 0 4 0 3 0 3 0-11 0 2 0 1 0 12 0-15 1 2 0 7 0 6 0 0 0-12 2 2 0 9 0-12 0-1 0 10 0 0 0 2 1-9 0 6 0 4 0-11 1 5 0 4 1-9 0 2 0 8 0-3 0 0 0 4 0-5 0 2 0-6 1 0 0 10 0-8 0 4 0 0 0 2 1-4 0 3 0-9 0 12 0-5 0 2 0-7 1-4 0 3 0 7 0 1 0-9 1 5 0-6 0 13 0-8 0-5 1 3 0 1 0 10 1-15 0 2 0 0 1-1 0 12 0-1 0-5 1-2 0-2 0 9 1 2 0-8 0 5 1-2 0-4 1 5 0-9 0 10 0-7 1 7 0-1 0-9 0 6 1-6 0-1 0 1 1 9 0 4 1-4 0 0 1 0 1-7 1 7 0 2 0 0 0-11 1 4 0 7 0-12 2 12 0-9 1-4 0 8 1 2 0-9 0 4 2 4 0-9 0 7 1 4 0-9 1 14 2-2 0-4 0-5 1 8 1-7 1-1 0-1 3 0 6 0 7-3 6 1 1 3 1 14-171 1 0-1 2-2 4 14 4-9 0-3 1 13 0-13 0 11 1-1 1-11 5 2 4-2 2-1 0 14 1-10 1 7 0-8 4 7 0 5 0-14 1 6 0 7 0-6 0 0 0 0 1-8 1 9 0 3 0-9 1-4 0 15 0-12 1 0 1 4 2 1 0-3 0 4 1-8 0 0 0 7 0 2 1-7 1 9 0 3 0-10 0 7 0-2 0-7 0 5 0 3 0-11 1 8 0-4 0-2 1-1 0 5 0 1 0-4 1-3 0 4 1 7 0 3 0-13 0 4 1 1 0 6 1 0 0 3 0-12 0 1 0 0 1-2 0 0 0-1 0 9 0 3 0-10 0-1 1-2 0 0 0 15 0-14 0 0 0 1 0-1 0-1 1 14 0-7 1-7 0 3 0 5 0 7 1-13 0 1 0 12 0-11 0 8 0-10 1 10 0 2 0-3 1 4 0-8 0-4 0 1 0-2 0 7 1 5 0-9 0-1 0 7 0-5 0-2 0-2 0 1 0-2 0 10 0-9 0 9 1-6 0 7 0-1 0 1 0-11 0 12 0-12 0 12 0 3 1-10 0-6 0 14 0-4 0-2 0 2 0 6 0-11 1 11 0-5 0-3 0-7 0 14 0-14 0 15 0-11 0 0 0 8 1-12 0 5 0 9 0-13 0 8 0-4 0 4 0 6 0-14 1 0 0 8 0-8 0-2 0 0 0 2 1 1 0 0 0 1 0 5 0 1 1-3 0-3 0 7 1 2 0-10 0 7 0-2 0 6 0-6 1-3 0-3 0 0 0 11 0-3 0-7 0-3 0 3 1 10 0-4 0-1 0-5 0 11 0-12 0 11 0-7 0 0 0-2 0 11 1-2 0-11 0 8 0-1 0-3 0-2 0 4 0-6 0 1 0-3 0 9 0 1 0-2 0 1 1 5 0-5 0 2 0 0 0-2 0 0 0 4 0-3 0 1 0 0 0 1 1-2 0-6 0 10 0-7 0 4 0 2 0-3 0 1 0-10 0 6 0-4 0-1 0 9 0-8 0 13 0-3 1-12 0 3 0 4 0 5 0-2 0-1 0-5 0 0 0-4 0 4 0 0 0 6 0-8 1 7 0 0 0 0 0-9 0 11 0-9 0 5 0 2 0 3 0 0 0-12 0 14 0-3 0-6 0 2 0 4 0-8 0 6 1 6 0-2 0 0 0-1 0 1 0-5 0-9 0 8 0 0 0 0 0-3 1 6 0 4 0-13 0 11 0 2 0-11 0 4 0-3 0 1 0 1 0 0 0-7 0 10 0-1 1 4 0-11 0-2 0 9 0-7 0 7 0-7 0 14 0-11 0 10 0-9 0 6 0-8 0 0 0-2 0 6 1 2 0-3 0-5 0 5 0-6 0 8 0-2 0 7 0-2 0-1 0 4 0-1 0-2 0-11 0 9 0 1 0-10 0 5 1 3 0 6 0-7 0-3 0 1 0 10 0 0 0-2 0-2 1 2 0 0 0-13 0 11 0-1 0-10 0-1 0 15 0-7 0-8 0 9 0-8 0-1 1 3 0 11 0-11 0 13 0-11 0-4 0 3 0 10 0-3 0 4 0 1 0-2 0-8 0-2 0 8 0-5 0 4 1 5 0-2 0-5 0-8 0 12 0-4 0-8 0 2 0 0 0-1 0 9 0-3 0 6 1-11 0 6 0 2 0 0 0-8 0-1 0 0 0 2 0 3 0 7 0-1 0-8 0 5 0 4 1-13 0 0 0 5 0 9 0-4 0 2 0-11 0 6 0-5 0 11 0 0 0 1 0-4 0-8 1 9 0 1 0-10 0 6 0-2 0 7 0-7 0-3 0 11 0-6 0 0 0 6 1-3 0-6 0-1 0 4 0 2 0-9 0 2 0 8 0-8 0 3 0-2 0-2 0-3 0 13 0-10 0 10 0-4 0 3 0 1 0-11 1 8 0-8 0 14 0-5 0 0 0 1 0-1 0 0 0-10 0 1 0 2 0 2 0 2 0 8 1-16 0 15 0-10 0 7 0-3 0 7 0-9 0 8 0 0 0-8 0-2 0 2 0-2 0 9 0-4 0-1 0-8 0 11 0-7 0-5 0 12 0-1 1-8 0 0 0 1 0 6 0 2 0-7 0 11 0-6 0 3 0-1 0-8 0 5 0-1 0 7 0-2 0-12 1 12 0-3 0-10 0 8 0 5 0-2 0-5 0-5 0 6 0 6 0-13 0 1 0 14 0-5 0-1 0 2 0-10 0 14 0-10 0 10 0 0 0-11 0 8 1 0 0-10 0 0 0 1 0 8 0-10 0 1 0 0 0 2 0 8 0-7 0 9 0-12 0 13 0-2 0-10 0 2 1 3 0-5 0 12 0-8 0-5 0 7 0-1 0 1 0-4 0-2 0 7 0 0 0-9 0 2 1-2 0 6 0-6 0 1 0 9 0-9 0 2 0 4 0-6 0 11 0-5 0 2 0 1 0-10 0 9 1-1 0 4 0-1 0-4 0 6 0 1 0-12 0 4 0 4 0-8 0 11 0-12 0 4 0 1 0-1 1 9 0-3 0-12 0 7 0 5 0-1 0 0 0-1 0 1 0-3 0 3 0-1 0-4 0 1 0-1 0-5 0-1 1 7 0 8 0-2 0-10 0 7 0-10 0 12 0 0 0-7 0 3 0 5 0-9 0 9 0-8 0 2 0 4 1-6 0 5 0-2 0 5 0-8 0 7 0 3 1-13 0 14 0-2 0-11 0 2 0 4 0-3 0 0 1 3 0-3 0-1 0-1 0 2 0-4 0 4 0 8 0-3 0-8 0 4 0-2 1-5 0 15 0-15 0 16 0-12 0 7 0 2 0-9 1-2 0 9 0 1 0 3 0-2 0-4 0 4 0-5 0 1 0-3 0 4 0 2 1-8 0 6 0-10 0 15 0-14 0 5 0 2 0-5 0 9 0-11 1 3 0 8 0-8 0 9 0-11 0 7 0-9 0 4 0 6 1-3 0 0 0-3 0 5 0 4 0-5 0 6 0-7 0-6 0-1 0 1 1 10 0-1 0-8 0-1 0 5 0 5 1-7 0 9 0-3 0 2 0-2 0-3 0 2 0-5 0-4 0 11 1-5 0 0 0 8 0 0 0-4 0 0 0-5 0-5 0 11 0-8 0 4 1 4 0-6 0 9 0-1 0-5 1 5 0 0 0-1 0 2 0-10 0-3 0 14 0-6 0-7 0 0 1 4 0-1 0 2 0 8 0-14 0 1 0 11 0-13 0 1 1 4 0 5 0 6 0-10 0 4 0-9 0-1 0 4 0-2 0 5 1 6 0-8 0 10 0-4 0-1 0 5 0-5 0-9 0 6 0 8 0-8 1-6 0 14 0-15 0 12 0-8 0 0 0 10 0-12 0 6 0 1 1 4 0-3 0-8 0 2 0 4 0-7 0 7 1 6 0-14 0 3 0 5 1-6 0 12 0-13 0 10 0-7 0-4 0 9 1 1 0-4 0-2 0 3 0-1 0-4 1 8 0-3 0-6 0 5 0-1 0-5 1 2 0 1 0 8 0-5 0 4 0 3 1-13 0 6 0 7 0-1 0-8 0 5 1-6 0 10 1-12 0 1 0 12 0-8 0-4 1 11 0-6 0 2 0 3 0-10 0 11 0-1 0 1 1-2 0 2 0-10 1 8 0-6 0-3 0 11 0-5 1-8 0 0 0 5 1-3 0 9 1-8 0 3 0 1 0-7 1 12 1-11 1 2 1 0 0-3 3 12 0 2 0-14 1 10 0 6 0-10 3 0 1 6 0-4 0 7 2-5 0-4 0-1 4 1 1 0 2-3 1 7 0-6 1 6 2-8 1 5 7 6 7-3 3 8-170-1 5 8 1-8 0 1 1 1 1 4 2-4 6 5 1-5 2 8 1-10 5 0 2 10 1-5 0 7 1-2 0-8 1 3 1 9 0 0 0-8 0 9 2-13 0-2 0 12 2-12 3 7 1-7 0 12 1-11 0 11 0 1 1-4 0-3 0 7 1-13 0 11 2-5 0 8 1-11 0-4 0 3 0 9 1-10 0 6 0-3 0 5 0 5 0-8 1-6 0 13 0-4 0-2 1-7 0 10 0-3 0-6 0 3 0 8 0-7 1-1 0-4 0 7 0 2 0 1 0-3 1-2 0 0 0 7 0-8 0 1 0-1 1 8 0-1 0-8 0 9 0-4 0 6 1-11 0 4 0-7 0 8 0-9 0 4 1 7 0-5 0 3 0 0 1 2 0-3 1 3 0-8 0 3 0-4 0 12 0-4 0-3 0 2 1 0 0-7 0-1 0 13 0-1 0-8 1-1 0 3 0 9 0-3 0-3 0 0 0-7 1-3 1 1 0 5 0 3 0-8 0 15 0-15 0 15 0-11 1-5 0 11 0-11 0 4 0 10 0-10 0 11 0-11 0 7 1-7 0 0 0-2 0 0 0 7 0-9 0 9 0-9 0 9 1 6 0-9 0 9 0-7 0 0 0-3 0 1 0 8 1-5 0-5 0 8 0-8 0-3 0 12 0 0 0-3 0-10 0 7 0-5 0-1 1 12 0-11 0 1 0-3 0 0 0 13 1 3 0-1 0-9 0 7 0-8 0 8 0-11 0 14 0-13 0 6 0-9 0 14 1-1 0-6 0 6 0-10 0-3 0 14 0-14 0 9 0 0 0 1 0-4 0 4 0 3 1-7 0 4 0 4 0 2 0-16 0 13 0-7 0 3 0-3 0 8 1-9 0 5 0 1 0-3 0-5 0 1 0 9 0 1 0-13 0 7 1 6 0-10 0 2 0 6 0-4 0-6 0 2 0-3 1 6 0 5 0-7 0 3 1-1 0-4 0 9 0-2 0-7 0 11 0-10 0-4 0 7 0-5 1 4 0 2 0-2 0-4 0 10 0-11 0 1 0 7 0-4 0 5 0-6 0 8 0-9 1 2 0-3 0 5 0 3 0 4 0-7 0 6 0-9 0-1 0 3 0 4 0 2 0-5 0-4 0 1 0 9 1-1 0-12 0 14 0-4 1 2 0-2 0-5 0 6 0-10 0-1 0 14 0-14 0 9 0 1 0 3 1 2 0-3 0-11 0 5 0 3 0 7 0-12 0 7 0 3 0 0 0-7 1 2 0-1 0-6 0 7 0-6 0 5 0 3 0 4 0-4 0 5 0-5 1-5 0 5 0-5 0-2 0 7 0 5 0-16 0 15 0-1 0-5 0 1 0-3 0-1 1-2 0 10 0-7 0-6 0 3 0 5 0 6 0-2 0-2 0-7 0 2 0 9 0-13 0 3 0 1 0 0 0 8 1 2 0-12 0 9 0-4 0-8 0 2 0 1 0 1 0 4 0 1 0-8 0 3 0 5 0 1 0-3 0-3 1-1 0-1 0 0 0 13 0-15 0 5 0 9 0-4 0-8 0 4 0 2 0-4 0-1 0-2 1 1 0 10 0 2 0-13 0 10 0 0 0 0 0-10 0 8 0-5 0-5 0 9 0-9 0 5 0-2 0 5 1-7 0 8 0-5 0-2 0 2 0 10 0-7 0 1 0 6 0-14 0 13 0 2 1-8 0-5 0 4 0-1 0 10 0-12 0 9 0 3 0-6 0-7 0 5 0 6 0 0 0-1 1 0 0 1 0-6 0 2 0 0 0 4 0-12 0 0 0 13 0-4 0-8 0 1 0 4 0-6 0 10 1 3 0-1 0-3 0-7 0 7 0-6 0-1 0 5 0 7 0 0 0-6 0-7 0 4 0 2 0 6 0-2 1-2 0-3 0-1 0 5 0-6 0 8 0-12 0 1 0 3 0-1 0 12 0-1 0-15 0 15 1-1 0-10 0 1 0 7 0-10 0 1 0 3 0 4 0-7 0-1 0 7 0 1 0-6 0 5 1 4 0 0 0 1 0-2 0-11 0 2 0 7 0-10 1 2 0-1 0 11 0-11 0 4 0 2 0-7 0 7 0 3 0-6 0 6 0 3 0-10 0-2 0 10 0-7 0 5 0 1 0 0 0 0 1-1 0-4 0 8 0-4 0 2 0 5 0-8 0-4 0 11 0 1 0-1 0-2 0-5 0 5 0-5 0 1 0 3 0-5 0-3 0 1 1 3 0-7 0 10 0-7 0 10 0-13 0 3 0 1 0 9 0-8 0 10 0-9 0 1 1 5 0-5 0-3 0-3 0 5 0-2 0-4 0 7 0 7 0-11 0 9 0 0 0-11 0 5 1 5 0-8 0 1 0-4 0 1 0 9 0 1 0-4 0-7 0 6 0 4 0-6 0 9 1-12 0 10 0-10 0 12 0-4 0-6 0-4 0 7 1-3 0-2 0 4 0-1 0-2 0 9 0-1 0 1 0-9 0 0 0 5 0 0 0-7 0 8 1 0 0-3 0 5 0 2 0-2 0 1 0-7 0 6 0-9 0-2 0 11 0-3 0-7 0 7 0 6 0-9 0 4 0 6 1-4 0 1 0-1 0 1 0-3 0 6 0-2 0-13 0 7 0-3 0 2 0-5 0 7 1-7 0 9 0-3 0-5 0 14 0-1 0-14 0 0 1 0 0 12 0 2 0 0 0-7 0 5 0-9 0-4 0 9 1 5 0-1 0-9 0 1 0 4 0-4 0-1 0-2 0 12 0 2 0-2 0-2 0-4 0 4 0-12 1 8 0 7 0 0 0 1 0-12 0-4 0 14 0-13 0 5 0-5 0 14 0-9 0 7 1-3 0 1 0-5 0 3 0-3 1 7 0-2 0 3 0-7 0 0 0 1 0 1 0 0 0 1 0-6 0 11 1-3 0-12 0 10 0-5 0 0 0 1 1 2 0 1 0 2 0 2 0-4 0 2 0 3 0-4 0-4 0 8 0-6 0-4 0 6 0 2 0-9 1 4 0-2 0 3 0 8 0-15 0 13 0-11 0 7 0-6 0-1 1 1 0 0 0 5 0-8 0-1 0 4 0 1 0 5 1-9 0 3 0-2 0 10 0-8 0 3 0 5 0-2 0-3 0-3 1-1 0-1 0-1 0 2 0 1 0 8 1-1 0-3 0 3 0-11 0 7 0 2 0 0 0-2 0 3 0 4 1-10 0 6 0 1 0-9 0 5 0-4 1 10 0-11 0 6 0 1 0-8 0 3 0 9 1-7 0 8 0-7 0 2 0 3 1 3 0-10 0 2 0 2 0 1 1-2 0 3 0-2 0-7 1 9 0-7 0 0 0 10 0-4 1 5 0-6 0-4 0 5 0-8 1 11 0-11 0 2 0 0 0 7 0 2 1-9 0-3 0 1 0 13 0-10 1 4 0-4 0 8 0-1 0 3 0-10 0-4 0 13 0-8 1 1 0 8 0-6 1 2 0-6 0-3 0-1 0 8 1-7 0 7 1 5 0-8 0 0 1 5 0 1 0-10 0 14 0-2 0-2 0-6 0-1 0 11 1 0 0 0 0-6 1-3 0 7 1-5 1 4 1-5 0 4 1-6 0-4 0 7 1 2 0-5 0 5 2-1 0 1 1 2 1-12 2 5 0 1 1 4 1-7 1 7 1-1 1 4 1-6 0 1 6-6 2-1 3 0 7 10 5 1 1-2 1-6 1 0 4 16-170 8 1-1 2-9 4 4 5 4 0-6 2-1 3 0 0 11 3-13 2 1 2 3 0 4 0-9 1 10 0-5 0-3 1-1 1 3 0 1 2 8 1-9 2 2 1 9 0-10 1 4 0 4 0-2 0-11 2 3 0 3 0 3 0-4 1 1 0 7 0-12 1 9 0-8 0 7 1-7 1 8 1-9 0 4 0 5 0-8 0 2 1 2 1 0 0-1 0-3 1-2 0 0 0 6 0 7 1-13 0 11 0 1 0-2 1-6 0 6 0-3 0-6 0 3 0 0 1-2 0 13 0-1 0-5 0 0 1-9 1 14 0 1 0-12 0 0 2 9 0-5 0 7 0-4 1-8 0 8 0-6 0-2 0 11 0-11 0 3 0 1 0 5 0-8 1-1 1 10 0-2 0 2 0-10 0 2 0-3 0 7 0-9 1 4 0 7 0-6 0 11 0-10 1 6 0-9 0 7 0 0 0 1 0-9 0 8 1 4 0-5 0 4 0 1 0-7 0-5 1 9 0 3 0-2 0-4 0 8 0-15 1 4 0 7 0-8 0 10 0-9 0 10 0-6 0 5 0 1 0-7 1 2 0-4 0-3 0 1 0 11 0-5 0-6 0 2 0 0 0 6 0-5 0-2 1-4 0 2 0 12 0 0 0-11 0 0 0 9 0 0 0-3 0-3 0 9 0-4 1-2 0-10 0 14 0-11 0 2 0 6 0-4 0-2 0 8 0-10 1-2 0 13 0-11 0 9 0 2 1-6 0-4 0 10 0-6 0 4 0-8 0 3 0 3 0-7 0-1 1 10 0-3 0-6 0 5 0-7 0 0 0 9 0-8 1 4 0 5 0 3 0-8 0 9 0-13 0 11 0-1 1-9 0 2 0 7 1-9 0 12 0-3 0-10 0 7 0 6 0 1 0-8 0-7 0 7 0-6 0 5 0 5 0 1 0-4 0-6 1 1 0-4 0 7 0 4 0-5 0 8 0 1 0-5 0-6 0-3 0 11 0 2 0-2 0 0 0-1 1 0 0 0 0 3 0-5 0 2 0-8 0 1 1-4 0 9 0-1 0-4 0 10 0-6 0 0 0 5 1-3 0 5 0-3 0 2 0-3 0-2 0 2 0-10 0 10 0-3 0 4 0-6 0 9 0-9 0 2 1 5 0-10 0 11 0-4 0-8 0-1 0 5 0-5 0 10 0-3 0-6 0 9 1-9 0 1 0 3 0 8 0-3 0 0 0-9 0 12 0-5 0 3 0-10 0 3 0 11 0-3 0-2 0-10 1 7 0-4 0 9 0 0 0 2 0-14 0 5 0-1 0-4 0 12 0-2 0 3 0-1 0-6 0 3 0-10 0 4 1-2 0 10 0 1 0-5 0 3 0-3 0-5 1 2 0-1 0-1 0 11 0 1 0 0 0-14 0 14 0-3 0-5 0 3 0 1 0-7 0 1 1 7 0 3 0-6 0 0 0 0 0-3 0-1 0 5 0-5 0 9 0-1 0-9 1 5 0 4 0-8 0 11 0-3 0-11 0 7 0 4 0 2 0-14 0 4 0 4 0 1 1 4 0-3 0 2 0-10 0 1 0-3 0 11 0 1 0 3 0-8 0-2 0-5 0 2 1 7 0 0 0-1 0-1 0-3 0 11 0-14 0 7 0-3 0 5 0-4 1 7 0-4 0 3 0-12 0 13 0-4 0-2 0 5 0-2 0-1 0-10 0 9 0 1 0-9 0 1 1 5 0 3 0 5 0-5 0-6 0 7 0 0 0 2 0-13 0 10 0-2 0 7 1-9 0 0 0-6 0 5 0-2 0 12 0-11 0 7 0 2 0 2 0-8 0 2 0 6 0-8 0-6 1 0 0 15 0-2 0-7 0-4 0 5 0-6 0 3 0 0 0-3 0 11 0-6 0-6 0 7 1-8 0 14 0 0 0-6 0 6 0 1 0 0 0-1 0-9 0 3 0-1 0-3 0-3 0 6 0-2 0-3 0 7 0 5 1-10 0 1 0 2 0-5 0 3 0 11 0-8 0 7 0-4 0 3 0-7 0-5 0 5 1 7 0-9 0-4 0 13 0-8 0-2 0-4 0 8 0-4 0 2 0 1 0 2 0-4 0-2 0 2 1 8 0 1 0-12 0 1 0-1 0 4 0 7 0 0 0-2 0 1 0 0 0-9 1-2 0 2 0 6 0-6 0-2 0 6 0 4 0 1 1-1 0-1 0-5 0 6 0-11 0 10 0 4 0-2 0-6 0-6 0 9 0 0 1 4 0-1 0-9 0 3 0 2 0-4 0 3 0 2 0 5 0-12 0 14 0-8 0 4 0-8 0 10 1-7 0 6 0-6 0-1 0 6 0 1 0-5 0 1 0 0 0-2 0 7 1-2 0-8 0-4 0 3 0 2 0-5 0 10 0-3 0 3 0-4 0 2 0 4 0-11 0 1 0 8 1-3 0 2 0 4 0-3 0 2 0-2 0-1 0-3 0 6 0-1 0-11 0 1 0 9 1 5 0-7 0 1 0-7 0 7 0-5 0 6 0 5 1-3 0-2 0-9 0 7 0 2 1-7 0 1 0 11 0-4 0-7 0 9 1-6 0-3 0 8 0 1 0-11 0 2 0 7 1 4 0 0 0-3 0-6 0 8 0 2 0-3 0 1 0 2 0-8 0-6 1 4 0 8 0-8 0 7 1-7 0-3 0 4 0-3 0 10 0-6 0-5 0 2 0 9 0-4 0 4 1-10 0 11 0-2 0-3 0 2 0 0 1-12 0 5 0 4 0-1 0-6 0 3 0 8 0-4 1-3 0 9 0-3 0-3 0-1 0-4 0 1 1 3 0 6 0-8 0 8 0-4 0-8 0 0 1 0 0 5 0-1 0-5 1 7 0 2 0 3 0-10 0 5 0-7 0 7 0-4 1 8 0-6 0 2 0-1 1 5 0-10 0 4 0-4 0 2 1-1 0 8 0 4 0-13 0 4 1 1 0-5 0 0 1 2 0 12 1-14 0 10 0-10 1 12 0-7 1-1 1-4 0-1 0 10 0 4 0-11 1 4 0 0 0-7 1 5 0 1 1 0 0 0 0 8 0-13 2 6 0-2 1-3 1 4 0 4 0-8 1 0 1 1 1-2 0 13 0-8 1-1 0 0 0 0 2 3 2-4 0 9 0-1 2-2 7-7 0-4 6 7 1 9 1-16 3 0 8 6 2 0 2-3 7 16-178 10 2-2 3 5 12-16 0 5 0-3 0 0 1 1 0 7 3-9 2 0 2 13 1 2 0-2 1-4 1-9 3 10 1 3 1-11 0 6 2-3 0 1 0 1 0-7 0 8 2 3 1-10 0 12 0 1 1-12 1-2 0 13 0-8 2 6 0-6 0-4 1 5 1-2 0 3 0-6 1 0 0 6 0-7 1 3 1 3 0-5 0-1 0 12 0-11 1 9 0-7 0 1 1-4 1 12 0-10 1 11 0-7 0 9 0-9 3-1 0-4 1 0 0 9 0-8 0-1 0-1 0 12 0-11 0 2 0-2 1 9 0 4 0-3 0-7 1-3 0 8 0-8 0 1 0 3 0 9 0-13 1 5 0 1 0 7 0-10 1 0 0-4 0 8 0 1 1 3 0-3 0 1 0 0 0-11 1 11 0-3 0-5 0 6 0-1 0 2 1-7 0-3 0 9 0 3 1 3 0-1 0-10 0 8 1-5 0 9 0-2 0-10 0 11 0-5 0 4 0 1 1-1 0-5 0-4 0-1 0-3 0 0 0 0 1 11 0-8 0-3 1 14 0-8 0-3 0 6 0-5 0 6 0-7 0-1 1 3 0 4 0-3 0-7 0 2 0 10 0 2 0-7 0-5 0 0 1 12 0-1 1-12 0 5 0-1 0 8 0-12 0 5 0 7 1-4 0-8 0 4 0 6 0-9 0 1 0-3 1 12 0-9 0 1 0-2 1 2 0-1 0 12 0-11 0 8 0 0 0 1 0-11 1 14 0-15 0 3 0 2 0-1 0-3 0 4 0 5 1-11 0 12 0 4 0-16 0 1 0 3 0 8 1-8 0 8 0-4 0-5 1 2 0-3 0 13 0-12 0 2 0 8 1 2 0-7 0-6 0 3 0 4 0-8 0 14 0-5 0 2 1-7 0-4 0 14 0-4 0-4 0 1 0-3 0 0 0 3 0-1 0-4 0 5 0 6 0-10 0 8 0-8 0 4 0-2 0 2 0 0 0 0 1 0 0 3 0-4 0 2 0-4 0-2 0 8 1-11 0 11 0-6 0-3 0 9 0 1 0-10 0 6 0 6 0-5 0 2 0 2 0-2 1 2 0-9 0 9 0-8 0-2 0 4 0-2 0-5 1 6 0 6 0-12 0 14 0-2 0-3 0-1 0-2 0 5 0-11 0 1 0 7 0 3 0-2 0-7 0 0 0 10 0 1 0-3 0-10 1 2 0 5 0 3 0 1 0 0 0-8 0 2 0-2 1 7 0 2 0-2 0-5 0 4 0-4 0 5 0 2 1-10 0 11 0-2 0-6 0-2 0 1 0 6 0 1 0-4 0-5 0 0 0 8 0 1 0 1 0-4 0 4 0-9 1-1 0 12 0-3 0-2 0 4 0-10 0 1 0 9 0-9 0 0 0 3 0-6 1 5 0 8 0-1 0-10 0 8 0 3 0-9 0-4 0 3 0 10 0-6 1 4 0-5 0 9 0-3 0-12 0 8 0 1 1 4 0-8 0 0 0-1 0 1 0 7 0-8 0 2 0 2 0-4 0 6 0-6 0 11 1-13 0 8 0-5 0 7 0-10 0 10 0-7 0 1 0-4 0 7 0-4 0 2 0 6 1-8 0 0 0 1 0-7 0 9 0 2 0 4 0-13 0 3 0-5 0 13 0-3 1-3 0-3 0-2 0 11 0-4 0-6 0 2 0 6 0-9 0 10 1-9 0 13 0-8 0 5 0 1 0-11 0 1 1-1 0 7 0-1 0 5 0-11 0 4 1-2 0 11 0-11 0-5 0 12 0-8 0 2 0-2 1-1 0 0 0-2 0 9 0-10 0 9 0 1 0 3 0 1 1-7 0-3 0 3 0-6 0 3 0 5 0-8 0 14 1-7 0-5 0 7 0-3 0-1 0 7 0-10 0 3 0 0 0 5 0 0 0-1 0-8 0 11 0-5 0-2 0 2 0 4 1-4 0 8 0-16 0 5 0-2 0 4 0 7 1-2 0-1 0 2 0-1 0-2 0-3 1 2 0-8 0 8 0-7 0 4 1-5 0 1 0 2 0-4 0 11 0 4 0-12 0 4 0 9 0-6 1-5 0 10 0-5 0 5 0-10 0 9 1-10 0-3 0 9 0-1 0-1 0-4 0-2 0-1 0 0 1 15 0-15 0 2 0 1 0 3 0-2 0 1 0 7 0-12 0 1 0 14 0-11 0 6 0-1 0-8 0 10 0-12 1 0 0 14 0-6 0 5 0 0 0 0 0-2 0-5 0 1 0 1 1 1 0-6 0 10 0 2 0-2 0-2 0 1 0-10 1 12 0-3 0-9 1 14 0-15 0 14 0-2 1-5 0 0 0 3 0-10 0 13 0-12 0 2 0 7 0 4 0-14 0 3 1-3 0 13 0-4 1 3 0-2 0-9 0 9 1 4 0-1 0-2 0-2 0 1 0-8 0 10 1-10 0 6 0 5 0-11 1 1 0-2 0 12 1-5 0-3 0 8 1-11 0 6 0-2 1 2 0-1 0-3 0 9 1-9 0-4 0 1 0-1 1 7 0 6 1-6 0 3 0-10 0 8 0-5 0-2 1 1 0 6 0-7 0 2 1 5 0-6 1-2 1 8 0-7 0 4 1 10 1-6 2-4 1 7 1-5 0-4 1-2 0-1 0 8 2-4 1 6 2-10 1 5 2-2 3 7 1 3 1-2 2-5 3 9 10-3 1 6-155 10 4-1 1-11 5 12 1 2 2-7 1-2 0-3 7 11 3-11 2 3 1 1 0 2 1-4 0-3 1 0 0 13 1-2 1 0 0-5 1-2 0-5 0 10 1 2 0-11 1-2 1 6 0 6 1 3 0-14 1 11 0 3 1-7 1-6 1 4 1 6 0-5 2 4 1-4 0-3 0 1 0 8 1-12 0 0 0 9 1-3 0-4 0 11 0-2 0-7 1 10 0-13 0 3 1 0 0 4 1 6 0-1 0-10 0 7 0-2 0-5 0 5 0 0 1-9 0 8 0-2 1 0 0 8 0 1 1 1 0-10 0 6 0-10 0 5 1-1 0-2 0 5 1 6 0-8 0-4 0 0 0 3 0 3 0-1 1-1 0 2 0-5 0-1 0-1 1 1 0 10 0-9 0 10 0-6 1 8 1-14 0 1 0 5 0 1 0 1 0 4 0-8 0 8 0-13 1 7 0-8 0 14 1-7 0-6 0 13 0-13 0 5 0-2 0 1 1 4 0-1 0-4 0 6 0-3 0-3 1 6 0-8 0 9 0-3 1-4 0 6 0 5 0-1 0-4 0 0 0 2 1-3 0 4 0-6 0-6 0 7 0-6 1 6 0 3 0-6 0-4 0 5 0 3 0-4 0 7 1-5 0-4 0 6 0-7 0 13 0-11 0 5 0-2 0 2 1-2 0 7 0-12 0 7 0 7 1-10 0-3 0 5 0 6 0-12 0 8 0-4 0 9 0-12 0 9 0 3 0-13 1 4 0 5 0-8 0 6 0 0 0 3 1 0 0-5 0 7 0 1 0-3 0 3 0-3 0-7 0-2 0-2 0 4 1 10 0-11 0-1 0 7 0-9 0 5 0 7 0-7 0 2 1-6 0 12 0-8 0 4 0-3 0 3 0-7 1 6 0-3 0 7 0 2 0-9 0 3 0-6 0 2 1-2 0 6 0 3 0 4 0-5 0-2 0-8 1 8 0-7 0 4 0 6 0-10 0 4 0 6 1-11 0 12 0-7 0-4 0 12 0-5 0 1 1 3 0 3 0-3 0-10 0 9 0-6 0 6 1-11 0 14 0-8 0 7 0 2 0-11 0 9 0-4 0 5 0-6 0 2 1 0 0 3 0-9 0 9 1-10 0 8 0-11 0 3 0 7 0 0 0-3 0-5 0 9 0-5 0-3 0 7 1-8 0 6 0-8 0 14 0-11 0-3 0 2 0 10 0-7 0 3 0-7 0 9 1 4 0 0 0-13 0 13 0-1 0-2 0-10 0 7 0 6 0-12 0 9 1-9 0 7 0-5 0-4 0 8 0 4 0-6 0 4 0-9 0 10 0 1 0 2 1-3 0-3 0-8 0 10 0-9 1 2 0 11 0-5 0 3 0-2 0-6 0 8 0 2 0-15 1 3 0 13 0-5 0-10 0 3 0 0 0 1 0 7 0-11 0-1 1 1 0 7 0 8 0-8 0-2 0 6 0-12 0 13 0-5 0 1 0 4 0-8 1-1 0-3 0 1 0 10 0 2 0-7 0-1 1-4 0 2 0 11 0-1 0-4 0-5 0 11 1-3 0-8 0 0 0 1 1 5 0-10 0 0 0 6 0 0 0 2 0 4 0 1 0-6 0 5 0-8 0 2 0-3 0 6 0-2 0 6 0-12 1 1 0 8 0-7 0 6 0-5 0 10 0-10 0 3 1 1 0 7 0-6 0 5 0-4 0 4 0-9 1 6 0-7 0 5 0 2 0 0 1-8 0 10 0-12 0 5 0-3 1 11 0-7 0-8 0 7 0 8 1-13 0 12 0 0 0 1 0-1 0-11 0 12 0 1 0-3 0 0 1 2 0-1 0-4 0-10 0 13 0-9 1 10 0-5 0-3 1 2 0 7 0-3 0 1 0-12 1 15 0-6 0 2 0-11 0 7 1 0 0-7 1 2 0 8 0-4 0-6 0 11 0-11 1 8 0-4 1 3 0 2 0-2 0 4 0-2 0 3 1 1 0-12 0 9 0-7 0-1 1 8 0-6 0 9 0-9 0-5 1 0 0 16 1-1 0-12 0-2 2 0 0 12 0-11 1 1 0 7 0 5 0 0 0-9 1 9 0-12 0 2 0-2 0 2 1 10 0-8 0-7 1 11 0 0 1-2 0-5 0 7 0-8 0-1 0-1 2 7 1-8 1 14 0-5 1-9 0 6 1 1 0-1 0-4 2 4 2 7 2-6 0-2 1 4 4-8 0 3 1 7 1-1 3-9 4 5 7-1 7 12-151-1 7 1 7 4 0 4 2 4 1-1 4-7 3 6 6 5 0-13 1 1 1-3 0-1 1 8 0-3 0 2 1 8 0-10 2 1 0-2 1 7 0 1 0-10 0 8 1-7 1 5 0-2 1 4 0-9 1 12 0-5 0-5 1 3 0 7 0-11 1 5 0-2 0 0 0-4 1 3 0 12 0-15 1 12 0-9 1 3 0-3 1-1 1-2 1 10 0-4 0 3 0-3 0 4 1 1 0-7 1 3 1 1 0-4 0 4 0-8 0 0 1 1 0 7 0 5 1-7 0 9 0-6 0-4 1 2 0 4 0-5 0 1 0 5 0-7 1-3 0-1 0 5 0-2 1 10 0-7 0-2 0-3 1 11 0-4 0-3 1 3 0-9 0 3 0 9 0-12 0 12 1-8 0 9 0-1 0-3 0-2 0 6 1-4 0-6 0 10 0-11 1 1 0 8 0 1 0-7 0-3 0 10 0 0 0-9 0-2 0 3 0-4 1 0 0 12 0-6 0-2 1-4 0 15 0-15 0 6 1-2 0 7 0 0 0-1 0 3 0-5 0-3 0 0 1 3 0-5 0-2 0-1 1 2 0 11 0-14 0 2 0 11 0-2 0 0 0-3 1 1 0 0 0-9 0 7 0 6 0-10 0 9 1-7 0 5 0-6 0-2 0 8 0-8 1 3 0 4 0 2 0-7 0 10 0-10 0 4 0-6 0-1 0 0 0 10 1-3 0 8 0-15 0 1 0 2 1 10 0-9 0 2 0-6 0 8 0-8 0 1 1 7 0-2 0 6 0-7 0 2 0 6 0-2 0-10 0 11 0-1 0-2 0 0 0 2 1-4 0-5 0 11 0-14 0 7 0 1 0 4 0-4 1 2 0 0 0-7 0 6 0-3 0 4 0 3 0-12 0 6 0 1 1 5 0-11 0 4 0-1 0-1 1 5 0-3 0 8 0-6 0 2 0-7 0-2 1 1 0 3 0 5 0-9 0-1 0 8 1 0 0 6 0 1 0-3 0-10 0 9 0 1 1-6 0 5 0-3 0 3 0-3 0-3 0 1 1 8 0-3 0 0 0-9 0 4 0 4 1-8 0 6 1 2 0 4 0-10 1-2 0 5 0 2 0-5 0 7 0 1 0-10 0 9 0-10 0 13 1-1 0-7 0-1 1-1 0 8 0 0 1-11 0 4 0-1 0 10 0-11 0 6 0-6 1-2 0 2 0 3 0-5 0 9 0 1 0-1 1-4 0 3 0 1 0 2 0 0 0-6 0 7 0-1 0-11 0 6 0-6 1 14 0-8 0-5 0-1 0 6 0-3 0-1 1-1 0 12 0-5 0 3 0 4 0-2 1-2 1-4 0 3 0-7 0 1 0 3 0 3 0 0 1 0 0-7 0 4 0 3 0-2 0 2 0-6 1-2 0 4 0 6 0-10 0 1 1 9 0-2 0 4 0-8 0 3 0 3 0-9 1 2 0 2 0-3 0 6 0-6 1 10 1-8 0-4 0 10 1-2 0-11 0 14 0-4 0 3 0 0 0-10 0-2 1 14 0-3 0-2 1-1 1-8 0 12 1-7 1-2 0 7 0-10 1 5 1-1 0-2 1 6 0 1 4-5 0 3 3-7 0 1 0 2 1 11 2-12 1 3 2-5 2 8 2 0 0-7 2 0 0 6 1 7 1-12 2 5 1-5 3 10 5-10 2 29-138-15 8 4 4-2 1 7 6 2 7-4 3-3 5-2 0 4 0-2 0 7 3 3 0-4 1-7 1 0 0 9 1-2 0-5 0-5 1 5 1-6 1 2 0 9 0-7 0 3 0 4 0 2 1 2 0-6 1 1 0 3 0-12 0 11 0-2 2 3 0-5 0 6 0 1 1-7 0-1 0 6 1-13 0 1 0 3 1 2 0 7 0-10 0 4 0-3 0 0 0 6 0 1 1-4 0-6 0 7 0 1 1-8 0 11 0 1 0 0 0-3 0 5 1-10 0 10 0-15 0 10 0-1 0-3 1 4 0-9 1 7 0-3 1 6 0-10 1-1 0 9 0 1 0-10 0 13 0 1 0-1 1-12 0 4 0-3 0 6 0-2 0 0 0 9 1-6 0-1 0-3 0 8 0-12 0 6 0-4 1 4 0 4 0 5 0-9 1-2 0 3 0-3 0 5 0 3 1-4 0-8 0 5 0-6 0 2 0 13 0-6 1 3 0-9 0 7 0 1 0 3 0-10 1 9 0-9 0 7 0-7 1 8 0-10 0 4 0 6 0 4 0-14 1 4 0 2 0 1 0 6 0-8 0-1 0-2 0-3 0 10 0-2 0-1 0 4 1-4 0-7 0 7 0-8 0 4 0-2 0 7 0-4 0 8 0-8 1 1 0-5 0 14 0-10 1 1 0-1 0 7 0-5 0-2 0 11 1-8 0-6 0 3 0 2 0 8 0-1 0-6 0-8 1 4 0-4 0 12 1 1 0-2 0 1 0 1 0-8 0 0 0 7 1-5 0 1 0 4 0-4 0-6 0 5 0 8 0-14 0 10 1 1 0-1 0-9 1 6 0 7 0-8 0-7 0 0 0 3 0 7 1 3 0 1 0-5 0 7 0-9 0 9 0-1 1-9 0-1 1-1 0-1 0 11 0-7 0-1 0 9 1 1 0-12 0-2 0 4 0 4 0-2 0-4 0-1 1 7 0 4 0-13 0 0 0 9 0-2 0 5 1-9 0 2 0 2 0 0 0-4 1-3 0 3 0 2 0-3 0 4 0 3 1 1 0-8 0-1 0 11 0-6 1-1 0 5 0-3 0-2 1 3 0-8 0 7 0-5 1 5 0-4 0 2 0-1 0 1 1 5 0 5 0 0 0-14 0 11 1-2 0-10 0 6 0 6 0-8 1 5 0 6 0-15 0 14 1-6 0 1 0 0 0-9 0 8 0-5 0 1 1-1 0 11 0 0 0 0 0-8 1-3 0 10 0-13 0 12 1-10 0 11 0-6 0 3 1-1 1 4 1-7 1 7 0-7 0-1 1 8 0-9 1 5 0 0 5-6 1 12 0-14 1 1 0 7 4 5 1-10 1 2 3-4 2 3 13-5 2 3 1-3 2 11 7 6-130 4 1 3 2-9 10 4 2-3 4 5 1-5 0 8 5-1 2-1 0-3 0 1 1 5 0 2 1 2 0-7 2 2 0 7 0-6 1-9 1 3 1 9 0-6 0 2 1 1 1-10 0 2 0 10 1-6 0-1 0 9 1-13 0 13 0-4 1-4 0-5 0 3 0 5 0-2 1 0 0 4 1 2 0-5 0 1 0-6 0 3 0 10 0-10 0 10 0-8 0 5 3-8 0 0 1 9 0-4 0-2 0-5 0 12 0-10 1 10 0-14 0 9 0-4 0 4 1 0 0 3 0 2 1-6 0-3 0 1 0 1 1-7 0 9 0 3 0-5 1 1 0 3 0-8 0-2 0 1 0 7 1-7 0 2 0 3 0 0 0-2 1 6 0 2 0-6 0 0 0 4 0-12 1 6 0 4 0-6 0 0 0 7 0 1 1-4 0 0 1 1 0-8 0 10 1-3 0 4 0 1 0-8 0-4 0 1 1 6 0-1 0 1 0 7 1-11 0 0 0 2 0 8 1-7 0 7 0 0 0-11 1-1 0 6 0 0 0-2 1 6 0-4 0 4 1-7 0-2 0 11 0-13 0 14 1-2 0-11 0 10 0-9 0 2 0 4 0 2 1-3 0-4 0 6 1-9 0 4 0 5 0-9 0 11 2-8 0 12 0-7 0-6 1 7 0 0 0 4 0-4 0 5 1-5 0 2 0-6 2 8 0-7 0-3 0 0 1 4 0-7 0 8 0 0 0-5 0 11 0-13 1 0 0 2 1-4 0 9 0-6 0 13 1 0 0-9 0 9 2-5 0 5 0-4 0-12 0 0 0 11 1-1 0 2 1-5 1-1 0-2 1-1 0-1 0 8 0-7 1 7 0-1 0 5 1-9 0 0 1 10 0-9 1 2 0 1 1-8 0 11 1-10 1-1 4 10 0 3 2 0 1-13 1 5 2 6 2 1 0-5 1 6 3-13 1-1 15 15 0-14 10 18-142 1 26 0 4 0 3 8 2 3 1-2 1 1 1-6 1-7 0 8 2-5 1 5 0 5 2-1 2-10 1-2 1 2 2 12 0-7 1 6 1-12 0 8 0-4 1-4 0 4 1-1 0 2 0-6 1 10 0-10 0 15 0-4 1-4 1-2 0-4 1 6 0 0 0-6 0 3 1-4 0 8 0 3 0 3 0-3 1 0 0 0 0 1 1-6 0 6 0-7 0 2 1 3 0 1 0 1 0 2 0-3 1 4 0-15 0 13 0-4 0 6 0-6 0-9 0 8 0 5 1 1 0-11 0-3 0 9 0-6 0 2 0-4 1 10 0 4 0-7 1 5 0-3 0-3 0 0 1 2 0-6 0 5 0 1 0 6 0-15 0 8 1 0 0-2 0 4 0-1 0 1 0-6 1 2 0 5 0 3 0-7 1 5 0-2 0-11 1 5 0 3 0-3 0 0 0-1 1 3 0 8 0-8 0-4 0-3 0 13 0 2 0-13 0 8 1-1 0-4 1-4 1 15 1-11 0 1 0-2 1 8 0-3 0 6 0-4 2 1 0 2 0-12 2 1 0 2 0 0 0-1 0 11 0-5 1-10 0 10 0-1 0 6 0-13 2 1 0 5 0-2 0 5 1-10 0 3 0 1 0 3 0 6 1-11 0 6 0-6 1-2 0 12 1 0 0 0 0-7 0 9 1 1 1-4 0-6 1-2 0 4 0 3 1-9 1 6 1 0 0-7 1 5 0 8 1-3 0-1 0-9 1 12 0-4 1-8 4 14 1-10 1 1 2-4 2-1 1 4 0-3 3 1 1 7 1 1 3 1 2-4 3-2 1 21-104-2 5 6 2-2 10-10 5 2 3 7 0-9 0 3 4 4 1 0 0-10 0 4 1 10 1-11 0 12 1 0 1-12 0 3 1 7 1-3 0 0 1-2 0-3 0 11 1-13 0 6 1 4 0-1 0-4 0 4 1-1 1-9 0 1 0-3 1 11 0 0 1 5 0-15 0 2 0-3 0 3 1 10 0-13 0 12 1-4 1-4 0 6 0 2 1-11 0 14 0-14 1 3 0-2 0 3 2-1 0 1 0 6 0 0 1 0 0-6 0 5 0 4 0-2 3-2 1 0 0-4 1-4 2 13 0-8 0 4 1-8 0-2 0 10 1-10 0 0 0 11 0-6 0 3 2 6 0-4 0 1 1-6 1 8 0 0 1-12 1 10 1-4 1-1 0-5 0 13 3-2 0-5 1 2 2 0 2 4 0-10 2-2 5 1 2 9 0-12 1 8 1 18-63-10 2 9 2 6 1-10 0 0 0-1 2 11 1-1 0-13 1 10 1-9 0-1 0 10 1-8 2 3 0 3 1 1 1-3 0-6 1 5 1-6 1 1 1-1 1 6 1 8 0-4 1 4 1-11 1 7 0 3 0-2 0-2 0-7 1 13 1-13 2 13 0-4 1-6 2-1 0-3 0 9 0 3 1-4 0 1 1 6 1-3 1-12 0 0 0 10 1-8 0 6 1-6 0 13 3-6 0-9 0 15 1 0 2-12 1 3 0 4 0-4 2-5 0-2 1 15 1-1 0-2 0-3 3-5 9 12 11-11 1-2 9 19-101-3 22 6 1 3 0-10 1 3 4-3 2 0 3-1 1-1 1 2 0 11 1-12 2 5 4 0 1 4 0-7 0 13 4-14 3 10 0-7 1 0 0-3 1 2 3 4 6-5 6 1 0 1 2 0 5 2 8 15-60 1 4 7 4-9 10 4 2-6 0 1 50-4 3 30-97-6 30 0 2-3 1 5 5 2 10-3 6 2 15 3 2 5-32-1 5 8 7-6 10 22-22-2 5 4 2 0 8 1 14 13-41-9 11 3 10 7 13 18-45-9 30 0 21 18-46 2 28-1 24-2 8-4 3 25-55 1 24 18-16-9 14 9 26 0 0" fill="none" stroke="none" marker-start="url(#dot)" marker-mid="url(#dot)"/></g>
<circle cx="44.3" cy="701.0" r="0.8" fill="#000"/>
<circle cx="51.0" cy="709.0" r="0.8" fill="#000"/>
<circle cx="57.3" cy="709.0" r="0.8" fill="#000"/>
<circle cx="58.3" cy="717.0" r="0.8" fill="#000"/>
<circle cx="51.0" cy="723.8" r="0.8" fill="#000"/>
<circle cx="61.8" cy="723.4" r="0.8" fill="#000"/>
<circle cx="82.2" cy="728.3" r="0.8" fill="#000"/>
<circle cx="102.8" cy="717.8" r="0.8" fill="#000"/>
<circle cx="112.3" cy="715.4" r="0.8" fill="#000"/>
<circle cx="100.0" cy="737.8" r="0.8" fill="#000"/>
<circle cx="130.9" cy="699.6" r="0.8" fill="#000"/>
<circle cx="154.3" cy="710.1" r="0.8" fill="#000"/>
<circle cx="129.5" cy="758.8" r="0.8" fill="#000"/>
<circle cx="105.3" cy="777.0" r="0.8" fill="#000"/>
<circle cx="126.7" cy="787.5" r="0.8" fill="#000"/>
<circle cx="102.8" cy="690.8" r="0.8" fill="#000"/>
<circle cx="108.8" cy="694.3" r="0.8" fill="#000"/>
<circle cx="70.6" cy="692.2" r="0.8" fill="#000"/>
<circle cx="76.5" cy="699.6" r="0.8" fill="#000"/>
<circle cx="67.8" cy="697.8" r="0.8" fill="#000"/>
<circle cx="48.5" cy="695.0" r="0.8" fill="#000"/>
<circle cx="70.2" cy="702.0" r="0.8" fill="#000"/>
<circle cx="143.8" cy="683.0" r="0.8" fill="#000"/>
<circle cx="159.6" cy="677.5" r="0.8" fill="#000"/>
<circle cx="184.1" cy="675.0" r="0.8" fill="#000"/>
<circle cx="196.4" cy="672.3" r="0.8" fill="#000"/>
<circle cx="233.5" cy="662.8" r="0.8" fill="#000"/>
<circle cx="119.0" cy="503.0" r="2.45" fill="#f00"/>
<circle cx="230.4" cy="515.9" r="2.45" fill="#f00"/>
<circle cx="197.9" cy="552.8" r="2.45" fill="#f00"/>
<circle cx="310.4" cy="557.4" r="2.45" fill="#f00"/>
<rect x="31.5" y="484.5" width="330.0" height="314.5" fill="none" stroke="#000" stroke-width="1.05"/>
<path d="M45.4 799v4.5M89.3 799v4.5M133.2 799v4.5M177.0 799v4.5M220.9 799v4.5M264.8 799v4.5M308.7 799v4.5M352.6 799v4.5M31.5 536.9h-7M31.5 607.1h-7M31.5 677.3h-7M31.5 747.5h-7" stroke="#000" stroke-width="1" fill="none"/>
<text x="42.62" y="812.90" font-size="13.6" fill="#000">0</text>
<text x="86.50" y="812.90" font-size="13.6" fill="#000">2</text>
<text x="130.42" y="812.90" font-size="13.6" fill="#000">4</text>
<text x="174.21" y="812.90" font-size="13.6" fill="#000">6</text>
<text x="218.14" y="812.90" font-size="13.6" fill="#000">8</text>
<text x="260.58" y="812.90" font-size="13.6" fill="#000">10</text>
<text x="304.54" y="812.90" font-size="13.6" fill="#000">12</text>
<text x="348.28" y="812.90" font-size="13.6" fill="#000">14</text>
<text transform="translate(24.20,539.27) rotate(-90)" font-size="13.6" fill="#000">1</text>
<text transform="translate(24.20,609.28) rotate(-90)" font-size="13.6" fill="#000">0</text>
<text transform="translate(24.20,682.36) rotate(-90)" font-size="13.6" fill="#000">−1</text>
<text transform="translate(24.20,752.55) rotate(-90)" font-size="13.6" fill="#000">−2</text>
<text x="153.41" y="479.10" font-size="13.6" fill="#000">C_0nM − Fluvo_400nM</text>
<text x="166.27" y="825.10" font-size="13.6" fill="#000">Average log CPM</text>
<text transform="translate(11.45,671.20) rotate(-90)" font-size="13.4" fill="#000">log−fold−change</text>
<rect x="305.5" y="750.5" width="56.0" height="48.5" fill="#fff" stroke="#000" stroke-width="1.05"/>
<text x="318.86" y="765.50" font-size="13.85" fill="#000">NotSig</text>
<text x="318.93" y="777.40" font-size="13.85" fill="#000">Up</text>
<text x="318.86" y="789.80" font-size="13.85" fill="#000">Down</text>
<circle cx="312.2" cy="762.4" r="0.75" fill="#000"/>
<circle cx="312.2" cy="775.1" r="2.3" fill="#f00"/>
<circle cx="312.2" cy="787.1" r="2.3" fill="#00f"/>
<clipPath id="cpD"><rect x="467.5" y="484.5" width="330.0" height="314.5"/></clipPath>
<g clip-path="url(#cpD)"><path transform="scale(0.5)" d="M965 1043l1 1-4 7 4 27 0 2-1 3-1 4-2 2-3 0 8 6-4 2-1 3 2 5-5 1 3 7 0 0 4 5 1 0-5 0-2 1 8 3-7 0 1 3 3 0-4 0-1 0 0 0 4 1-3 3 5 3-3 1-3 1 2 1 4 1 2 2 0 1-6 0 5 3-3 0-5 1 5 0-1 1 4 2-3 0 3 0-4 1 3 1-3 0-2 1 3 1 3 2-2 0-1 1-3 0 2 0-2 0 4 1-4 0 1 0 5 1-7 1 0 0 5 0 2 1-6 1 3 0 2 0 0 1-3 0-1 1 3 0-4 1 7 0-5 0-2 1 0 0-2 0 5 1 3 0-6 1 1 1 2 2-2 2 6 0-7 0 6 2-6 3-2 4 2 1 6 1-6 0 4 2-3 0 0 1 3 4-4 1 0 2 0 4 1 0 1 3-3 0 2 4 0 1 0 1 3 2-6 1 8 1-1 0 2 1-8 1 3 0 0 0 2 0-5 3 6 0 0 1-1 0-4 1 1 5-2 3 5 0 1 3-5 1 3 0 1 3 2 1-4 6 2 1-3 1 4 3 1 5-5 9 0 1 6 2-8 11 2 1 1 0 2 9-1 0-2 6 5 4 1 2-6 13 1 1-2 13 0 1 1 20 3 49 13-356-8 1 2 9 9 29-13 1 11 9 3 0-13 1 10 3-5 1 7 0 0 1-11 3 1 8 8 0 1 2-11 1 7 0-2 1 4 2 3 0 3 3-7 2-4 2 6 1-6 1 10 2 1 1-9 0-3 0-1 1 12 0-7 1 3 2-7 1 1 0 10 0-4 2-3 0 3 1-4 0-6 0 5 1 0 0 1 1 3 0-4 2 3 0-7 1 0 1 0 0 4 1-4 1 5 1-2 1 5 0-7 0 4 0-5 1 11 1 3 1-14 1 9 1-9 0-1 1 15 0-6 2 2 2-4 0 1 0-5 1 7 0 4 0 0 0 0 1-14 2 14 0-4 1 3 1-13 2 6 0 2 1-7 0-1 1 9 2-8 0 3 0 2 0 4 0-4 2-5 0 7 1 4 0 0 0-3 1 1 0-2 0-2 1 3 1 4 2-2 1-1 0-3 1-4 1 5 0 2 0-10 1 8 0 7 0-13 1 6 0-5 1 5 2 6 1-8 1-6 0 8 1 5 1-7 0-4 3 8 4 0 0-8 0-2 0 9 3 0 1 2 3-7 1 5 1-2 1-5 1 0 0 5 0 3 1-9 0 3 1-4 1 4 0-4 0 8 0 3 1-11 0 11 0-1 0 5 2-2 0-1 0-11 0 11 2-2 0-8 1 6 2-8 0 12 2 3 1-12 0 11 1-10 1 7 1 2 1-3 0-9 0 3 1 1 3 8 0 1 1-3 1-9 0 3 1-5 0 12 1 0 1 1 1-4 1 2 0-2 1-8 0 9 1-6 0 9 0-13 2 13 1 0 1-9 0 4 2 3 1-7 0 0 2 1 3 7 1-2 1-1 1-7 1 8 4-2 1-1 2-7 0 5 2 1 1-6 0 8 4 1 2 2 0-3 3-6 0-3 2 6 1 10 1-7 0-5 10-3 1 3 6 1 2 4 1-4 1 8 4 2 5 0 11-10 8-4 2 10 2-3 11 2 5 3 0-6 25 1 3-2 4-2 0 0 11 15-344 3 2-3 17 6 3-5 1 5 17-6 4 6 3 3 1-6 2 7 13-10 6 0 2 12 1-10 0 6 0 5 2-11 3 7 1-3 2 6 1-8 6 8 0-12 1 1 0 3 1 5 0-8 0 7 1 0 0-6 1 3 0-2 0 3 2 7 0-10 0 1 1-3 1 12 1-8 1 4 1-10 1 2 0-2 0 4 2-6 0 15 0-8 1 2 0-3 0 3 1-2 0 3 0-2 0 0 1 5 1 0 0-13 0 14 0 1 1-10 1-5 1 5 0 1 0-3 2 5 0-7 0 3 1 6 0-7 0 1 0-2 1 0 0 13 1-11 0 6 2-9 0 7 0 5 1 3 0-10 0 5 0 0 0-2 1-7 2 11 1-13 0 0 0 13 1-8 0 2 0-5 2 13 0-3 0 3 1-11 0 6 1-2 0-2 1-4 1 0 0 10 1 0 0-11 0 11 1 2 0 2 1-8 1 1 0-6 0 11 1-7 1 7 0 1 0-1 0-11 1 0 0 7 1-1 0-4 0 4 2 5 1 0 0-12 0 4 1-5 2 0 0 4 0-3 1 6 0-6 0 2 0 0 1 4 1 4 0-11 1 3 0 2 0 4 1-2 0 7 1 0 1 1 0-4 0-4 0 4 1 3 0-9 1 1 2 0 0 3 1 2 0-9 0 3 1 6 1-1 0-5 1-3 1-1 1 2 1 10 1-14 1 6 2 2 1-6 1 8 1-2 0-3 0 6 0-4 1 1 2-3 2-3 0 5 2 1 0-5 0 0 0 8 0-1 0 4 2-7 1 2 0-3 1 0 0-3 0 6 0 4 1-8 0 4 2-7 0 1 1 2 1 6 1-3 2-7 1 6 0 8 1-2 1 3 3-10 2-2 1 9 0-3 2 0 0-7 2-1 0 4 2 3 0 7 1-2 1-4 1-1 1 4 3-11 0 12 2-11 0 8 0-9 3 5 2-2 1 7 7-9 3 12 0-14 2 14 1-12 0 0 2 11 7 0 2-14 3 16 5-8 4 3 12 1 7 0 1 3 9-7 3-5 15 9 18 5-338 8 17-4 11 8 4-7 15-6 2 0 0 5 1 0 3 2 2 3 11 1 3 4 4-13 1 10 8-2 1 0 0 1 6-6 0 11 1-13 0 3 1 4 2-5 1-3 2 11 2-3 0-6 0 8 2-8 3 12 4-16 1 16 1-6 2-5 0-1 1 2 2-1 0 9 2-14 0 5 1 11 2-12 1 4 0 0 0 8 1-15 0 8 0 4 0-5 0-4 1 0 1 9 1-1 1-4 0 1 0-5 1 10 0-6 2-2 0 2 1 3 0 0 0 1 0-7 1 7 0-3 0-5 0 10 1-13 0 0 0 1 1 9 1-7 0 5 0-5 1 8 0-9 2 5 1 8 0-8 0-4 0-2 0 5 1 8 0-6 1-6 0 4 0 6 1-10 1 9 0 1 1-8 0 2 0 2 0-5 0 5 0 2 1 0 0 3 0-6 0 8 1-6 0-8 0 13 0 0 1-10 0 5 1 1 1-8 1 10 1 0 0 0 1-12 0 5 3 5 0 0 1-8 0-1 1 14 0-1 0-5 1-6 1-1 0 7 0-2 0 5 0-10 0 11 1 0 0-11 0 11 1-7 1 3 1 6 0-6 0 2 0 2 1 1 0-4 1 4 0-4 1 1 1-11 0 6 1-6 0 2 0 5 1-6 1 5 0-4 0-1 1 2 0 5 0 7 1-4 0-5 1 2 2 1 0-9 0 6 1-6 0 6 1 3 0 2 2-7 0 11 0-4 1-10 0 10 1-12 0 15 0 1 1-7 0 1 0 5 1-13 1 11 0-7 0 5 2-1 2-10 1 11 0-10 3 12 0-5 0 2 1-2 0 5 1 0 0-2 1-6 1-4 0 13 1-12 1 12 0-9 1 10 0 1 0-2 0 1 1-11 3 4 0-6 1 8 2 5 1-4 0-9 1-1 0 2 1 12 1-1 1-2 1 1 0-8 1 1 0 2 2-3 0 3 0 5 3-10 1 4 0 5 0-9 0 5 1 1 0 4 2-8 0 5 1-3 0 3 0-2 0 5 1-10 4-2 1 8 3 5 0-7 3 5 2 2 2 1 0-6 6-4 1 0 5 7 8-8 3-3 7 7 1 7 3-2 1-11 6 9 4 2 3 2 11-1 0-6 16-2 4-5 26 15-290 3 7-3 1 13 3-7 0-5 1 6 2 2 4-2 0 0 2 1 1 1 4-4 3 5 0 1 1 4 0-6 0-1 0 7 1-11 1 2 0-1 2 4 1-2 1 0 0 4 1 0 5-11 1 5 0 5 3 2 4 0 1-5 1 0 1 4 3-8 0 1 0 11 1-12 0 9 0 0 0-8 2 10 3-8 1-5 1 0 0 1 2 1 1 7 0 5 1-4 2-4 0 1 1 6 0-1 1 0 1-3 1 5 3-1 0 1 0-14 1 5 0-1 1 6 0 3 1-3 0-7 0 3 0 5 1-2 1 3 0-8 0 7 1-2 1-4 1 1 1 5 0 1 0-2 0 5 0-15 1 10 0-5 0-5 0 15 1-2 1-7 1-4 0 2 0 1 0 3 0-6 1 8 0-10 0 6 1 2 0 2 1-1 0-2 1-3 0-1 0 7 1 2 0-2 1-2 0-3 0-3 0 4 2-3 0 7 0 3 1-14 0 15 1-1 0-7 0 0 0-2 0 6 1-6 0 4 0-1 1 5 0 0 0-12 1 11 0-5 0-4 1 4 1 4 0-7 0-1 0 0 0 5 1-7 1 11 1-12 0 6 1 3 0-8 2 0 0 9 1 1 0-8 2 12 1-14 0 0 1 2 1 5 0-2 0-3 1 4 1 3 0 2 0 3 0-14 0 8 1-4 0 8 1 2 0-8 0 9 0-8 2 6 0-8 0-2 0 5 2-7 0 11 1-13 0 4 0-3 0 14 0-9 1 2 1 1 0-6 0 12 0-9 1 8 0-12 2 10 0-6 2 5 0-2 1 1 1-2 0 4 0-6 1-1 0 5 0 5 1-3 1 0 2 1 1-9 0 2 2 7 0-13 1 7 1 3 1 5 1-4 0 3 2-11 0 7 0 5 1-4 0-3 1 6 2-13 1 5 1-6 0 15 3-13 0 3 0 9 1-13 2 3 0 0 1 6 1 5 2-4 1 4 1-15 1 2 3 1 3 6 0 1 1 4 1-12 1 9 1-3 1 7 1-10 2 1 0-5 0 8 0-7 1 6 2 4 1 1 1-11 1 11 2-8 1 8 0-11 0 10 1-6 0-1 2 5 3-1 1 1 0-2 5-5 3 6 3 1 2-10 3 5 5 1 16 7 1 2 5-12 13 5 4-5 36 11 2 6-348-4 21 15 30-7 3-5 15 11 1 0 3-4 1-5 0 0 5 0 3 1 1-2 1 4 2 5 1-11 0-2 1 15 2-6 2-2 3-7 0 11 2 2 1 0 0 1 1-5 2-4 1-4 1 3 0 5 0 4 2-5 1 6 2-10 0-2 0 5 1 5 0-4 1 8 1-9 0 4 1-8 1 2 1 1 2 7 0-7 1 9 0-12 0 2 1 2 0 2 0 2 2-1 0 5 0-6 0-8 1 12 1 0 0-7 0 0 0 4 1-6 1 0 0 10 0-11 0-2 1 0 0 9 0-7 1-2 1 5 1 4 0 5 2-11 1-2 1 12 0-8 1 9 1-13 0 2 2 6 0 5 0 0 1-5 0 6 0-15 0 3 0 11 0-15 0 13 1-7 0 3 1-7 0 4 0-3 0 11 1-10 1 1 0-3 0 6 0-5 2 11 1-9 1 8 2-7 0 1 1 8 0-5 0-7 0 4 0-7 0 14 0-9 0-5 1 9 1 7 0-7 0-6 0 2 0-1 0 1 0 0 0-5 0 14 1-8 0 6 0-7 0-2 0-2 1 7 0-1 0-2 0 9 1 1 0-2 1 2 0-3 0 3 1-10 0 11 0-3 0-9 1-2 1 8 0-3 0 7 1-6 0-2 1 8 0 2 1-5 0-9 0 0 0-2 0 4 1 0 0 0 1-3 0 13 0-6 0 8 0-4 2-12 1 14 0-2 1 3 0-5 0-1 2 0 0 4 1-10 1 12 0-11 0 9 0-9 0 5 1-5 0 7 1-6 0-1 0 2 1 6 0-7 0-4 1 3 1 1 0 0 0 6 1-8 1-2 0-1 1 10 0-8 1-2 0 8 0 0 1-3 1 2 2 4 1-9 0-1 0 1 1 0 0 0 0 6 1-3 0-3 1 7 0 1 1 1 0 1 1 2 0-6 0-5 1 6 0 3 0-11 0 3 2 1 1 0 4 10 0-11 1-1 1 12 2-7 1 5 0-4 0 2 0-6 1 6 0 0 1-8 3 4 1 3 0 4 0-5 0 1 2 4 1-9 1-5 3 14 2-14 1 8 1-3 4 11 0-6 1-7 0-2 1 1 2 1 2-3 1 11 2-8 0 12 2-5 0 0 2 6 2-9 0 0 2 8 4-3 0 4 3-4 4-12 0 1 2 13 11-6 1-2 14 4 3-10 1 13 1 1 1-4 6 2 1 2 22-6 7 15-308-6 35 7 5 7 7-12 1 13 9-6 5-3 3 0 3-4 3 11 5 0 1-11 0 7 2 2 1 0 0-4 1-2 1 5 3 2 2-5 1-2 2-4 1 12 0-3 3 0 1-5 1 5 2-6 1 6 1-9 1 3 0 11 1-15 0 1 0 0 2 7 0-4 1 0 0 0 1 5 0 0 0-9 0 6 0-2 1 10 1-4 2-11 0 13 0 1 0-7 1 4 1-10 0 4 0 2 1 8 0-5 1 1 0-1 1 1 2-1 1-10 1 5 0-2 0-2 0 15 1-9 0 8 2 0 1-11 0 11 1-3 0-5 0 7 1-7 1 2 0 1 0 5 0-5 1-4 1-6 1 16 0-15 0 4 0 6 1-8 0 6 1-6 0-1 0 10 0-8 0 9 0-6 0-2 1 10 1-9 1 5 0-8 0 6 0 3 1-7 1-4 1 2 0-1 1-2 0 2 1 13 1-15 0 1 0 1 0 13 1 0 0-10 1 6 0-2 0-1 1 0 0-5 0 5 0 3 0-7 1 9 2-4 0-5 0 5 1 6 0-1 0-2 1 1 0-2 2 0 1 0 0-9 1 2 1 2 0-2 0 0 1 5 0 6 0-14 0 13 2-10 0 8 1 2 1-4 0-4 0 5 0 1 1-9 1 11 0-2 0-3 0-2 1 2 1-3 0-5 1 11 0-12 0 11 1 3 1-3 1-2 0-2 0 0 4-7 0 13 3 3 0-3 0-13 1 13 0 3 0-10 2-1 0 8 0-3 0 4 1-5 0 6 1-15 0 13 0 2 4-4 0 0 0-7 0 7 1-10 0 12 4-1 1-4 0 4 0-5 1 1 1 8 0-13 2 10 0 2 0-10 1 8 5-7 1 2 0 5 3-11 0 13 1-2 0-4 2-7 1 9 1-11 1 5 1 8 0-2 1 3 0-7 2-2 0 6 4 5 3-10 1 4 0 1 2-8 1 11 2-6 1 5 0-9 0 4 4-2 3-4 2 4 1 3 2 1 8-7 3 5 4-1 15 3 3 4 8 1 1-9 38 24-286-2 13-5 10 7 9-3 10-3 0 7 3-11 1 9 2-7 2 8 4-9 1-4 4 0 2 6 0 5 1-7 0 2 1 2 2-4 0 8 1-4 1-1 0 2 3-8 0 12 1-8 1-5 1 10 0-3 0 0 1 0 0 7 1-3 0-7 1 3 0-4 2 10 0-1 0-9 0-3 1 4 1-1 0 5 0 4 1-3 0 5 1-12 0 8 2-9 1 9 1-4 1-3 0 12 0-11 1-2 0-1 0-2 1 6 0-1 1 9 0-1 1-4 0 2 1 2 0-4 0-1 1-6 1 5 0 1 1-3 0 9 0-7 0-2 1 2 0 2 0-1 1-3 0 1 0-2 1 0 0 1 0 4 0-8 0 14 1-4 0-10 1 5 0 6 0-9 1 5 0-6 0 2 0-3 0 12 1-1 0-10 0 4 1 10 0-2 1-1 0-1 1 2 0-4 0-10 1 15 0 1 0-8 0 8 0-2 0-13 1 4 0 5 0 5 0-6 1 2 0-8 0-2 0 4 0-2 0 9 0-7 0 2 1-6 0 11 0-9 1 12 0-12 0 5 0 5 1-7 0 7 0-4 1 6 1-13 0 3 0 9 0-1 0-12 1 1 0-1 0 5 0 7 0-8 0 7 1 2 0-5 0 5 1-2 0-5 0 3 1 1 0 4 0-8 0 3 0-7 0 10 0 2 1-8 0 9 1-14 1 13 0-3 0-11 1 7 1 6 0-1 0-8 0 7 1 3 0-7 0 3 0 0 0-4 0 6 1-3 0 0 1-9 0 12 0-12 0 4 1-2 0 13 0-1 1-12 0 1 0 0 1 10 0-3 1-5 0 4 1 1 0 1 0 4 0-9 1-7 1 8 1 4 0 3 0-12 1 2 0-2 2 9 1-1 0-4 1-6 0 8 1 1 0 3 1-1 1-6 0 9 1 0 0-5 0 1 1-2 0 3 5-1 0-4 1-1 0 7 2-5 0-2 1-1 1 4 1 1 1-3 0 3 0-4 1 10 0-1 2-14 0 0 5 11 0-6 0 3 0-3 1 9 0-7 1-5 0 9 2-6 1 7 1-4 1 5 0-14 0 3 0 10 0 3 1-3 0-12 2 14 3-14 2 13 2-8 0-4 3 14 0-9 1-1 0 7 2 0 1-4 0 1 1-10 1 14 0-2 1-10 1 10 1-4 3-3 0-4 8 7 2 0 1-5 4 12 0-1 2-10 2-1 67 16-269-2 16 0 4 1 2 7 5-5 4-4 0 9 1-3 4-2 1 9 1-12 0 0 3-1 1 1 0 4 3 4 5 2 1-9 0 10 0-11 1 3 0 8 2-8 1 1 2 9 1 0 0-6 1 3 0 2 0-4 0 3 1 1 2-13 1 13 1 2 1-5 0 2 0-5 0 6 1-7 1-5 0 15 0-11 2 3 0 6 1-9 0 8 0-8 0 4 1 1 0-3 0-3 0 11 0 0 1-14 0 11 0-4 0 7 0-4 0-3 0 1 0-5 0 10 0-8 1 5 0 2 0 2 1-8 0 5 1 3 0-10 0 1 0 6 1 3 0-8 0-6 0 3 0 7 0-1 1 5 0-1 1-5 0 4 0-11 0 12 1 0 0 0 0-7 0 6 0 0 1-13 0 5 0 2 0 5 0 0 0 1 1 2 0-14 0 12 0-4 0 6 0-7 0 4 0-1 1-2 0-7 0 5 0 6 0 3 0-10 0 7 0-13 1 4 0 8 0 3 0-7 0-1 1 8 0-8 0 2 0 1 1 1 0 2 0-11 0 4 0-1 0 10 0-10 0 10 0-9 0 5 0-2 0-4 1 1 0 3 0-7 0 6 1-2 0 8 0-1 0-2 0-1 1 2 0-10 0 6 0 4 0 3 0 1 0-3 1 1 0-13 0 1 0 13 1-4 0-9 0 11 0-8 0 0 1 8 0-10 1 2 0 3 0 4 0-11 0 13 0-5 1-4 0 0 0 8 0-6 0 7 0 0 1-3 0-4 0 7 0-7 0 5 0 4 0-16 0 14 1-5 0-5 0-2 0 6 0 5 0 0 0 2 0-4 0 3 1 1 0-6 0-1 0 2 0-3 1 5 0-7 0 7 0 4 0 0 0-1 0-1 1 2 0-13 0 13 0-7 0-7 0 2 0 0 0 1 0 5 0 5 0-2 1-11 0 5 0 9 0-1 0-12 0-2 0 14 0-12 0 2 1 4 0 0 0 6 0 0 0-2 0 1 1-7 0-4 0-1 0 9 0-1 0-8 0 2 0 10 1-11 0 10 0-6 0 0 0 2 0-6 0-1 1 4 0 9 0-11 0 4 0 3 0-3 1 0 0 4 0 0 1-2 0 0 0 5 0-11 0 7 0-1 0 1 0 0 1 5 0 0 0-5 0-5 0 6 1-6 0 7 0 2 0-4 0-4 0 4 1-9 0 6 0 0 0 5 0 2 1-3 0-4 0-6 0-1 0 4 1 5 0 2 0 1 0-5 0 7 0-5 1 3 0 1 0 2 0-7 1 2 0-9 1 13 0-6 0-3 0 3 0-4 0 9 0-3 0 3 1-4 0-3 0 0 0 2 0 2 0-2 1-2 0 2 0 0 0-1 1-6 0-1 0 11 1 1 0-3 1-9 1 7 1 7 0-12 1-3 0 12 1-4 0 5 0-12 0 2 0-1 1 4 0 1 0 3 0-3 0-6 0 2 1-3 0 11 0-1 0 4 1-3 0-9 0 1 0 6 0-5 1-3 0 0 1 9 0 5 1-5 0-1 0-5 0 1 0 3 1 0 0-3 1 3 1 7 0-1 0-10 0 9 0 2 1-8 0 1 0-5 0 4 2 0 1 0 1-4 0-1 0 13 0-11 0 8 2 2 0-11 1 10 0-11 0 4 1-2 1 6 1-4 1-3 2-3 3 12 0-3 0 6 2-13 1-1 0 15 1-16 1 0 0 8 1 0 3-6 5 13 1-13 0 1 2 2 0 1 10-2 2 4 3-6 6-2 29 16-195 7 6-2 3 6 2-3 4 7 1-3 0-7 2 7 3 1 2-10 6 1 0 7 1 3 2-9 4 2 1 4 2 4 0-7 0 7 1-12 0 9 0 4 1-2 0-1 1-6 0-5 0-1 0 9 0 0 0 5 0 1 1-3 0 1 0-4 0 2 0-4 0 6 1 2 0-11 0 3 0 1 0-1 1 7 0-14 0 6 0 8 1-1 0-2 0 0 1-7 0 7 0-4 0-3 0 5 0 3 0-5 0 3 0-6 1 9 0-7 0-4 1 9 0-4 0 0 0-4 1 8 0-6 0-2 0-3 0 12 0-5 1-5 0 11 0 0 0-14 1 6 0 8 0-7 0-6 1 3 0 8 0-10 0 8 0 4 0 0 0-7 0 5 1-2 0 4 0-13 0 6 0-7 0 9 0-1 0 7 1-4 0-5 0-3 0 0 0 13 0-1 0 1 0-6 1-4 0-1 0 2 0 7 0-12 0 8 0-1 0 4 0-11 1-1 0 3 0 9 0-7 0 0 0-5 0 12 0-9 0-2 0 2 0 12 0-4 1-2 0 4 0-4 0-4 0-6 0 14 0 1 0-2 0-6 1 1 0 2 0 0 0-7 0 7 0 3 0 3 0-13 0 2 0 6 0-2 0-2 0 6 1-9 0 7 0-4 0-6 0 0 0 5 0 9 1-6 0 4 0 1 0-4 0 2 0-3 0-5 0 5 1-1 0 1 0-2 0 2 0-3 0-1 0-4 0 1 0 14 1-10 0-1 0 10 0-6 0 3 0-5 0 1 0-4 0 1 0 9 0-12 1 11 0 1 0-14 0 13 0-11 0 14 0-5 0 2 0-13 0 9 0 6 0-3 0-5 1 9 0 0 0-10 0-4 0-2 0 5 0 2 0 3 1-3 0 8 0-8 0-3 0 6 0-6 0 11 0-4 1 4 0-9 0 4 0 2 0-5 0 8 0-11 0 1 0 6 0-6 0 10 0-1 0-3 0 2 0-11 1 1 0 0 0 12 0-9 0 6 0-6 0 7 0-9 0 1 0-2 0 13 0-15 0 2 1 3 0 7 0 3 0-6 0 1 0-6 0 6 0 5 0-13 0 6 1-5 0-1 0 1 0 2 0-3 0 3 0 8 0-12 0 14 0-3 0 1 0-11 0 4 0-3 1-1 0 4 0 7 0-1 0-10 0 10 0-2 0 0 0 1 0-11 0 9 0 6 0-11 0 4 0-3 0 1 0 2 0 5 1-11 0 4 0 1 0-2 0 0 0 3 0-7 0 9 1 3 0-7 0 2 0-5 0 1 0 4 0-6 0 8 0-3 0 8 0-2 1-10 0 1 0 10 0-10 0 2 0 6 0-8 0-3 0 6 0-2 1-3 0 11 0-5 0 6 0-15 0 16 0-12 0 7 1-1 0-1 0 1 0-6 0-1 0-1 0 11 0-10 0 4 0-2 1 7 0 2 0 1 0-12 0 9 0 1 0 1 0-3 0-6 0-4 0 3 1 1 0 6 0-2 0 5 0-2 0-10 0 13 0-3 0-8 0 10 0-3 0 3 1-14 0 14 0-3 0-2 0-4 0-3 0-1 0-1 0 13 1-3 0-7 0 5 0 1 0-8 0 15 0 0 0-8 0 0 0 6 1 0 0-3 0-11 0 14 0-12 0 7 0-2 0-1 0 5 0-5 1-1 0 8 0-1 0 1 0-4 0-8 0 13 1-9 0-4 0 4 0 8 0-2 0 2 0-7 0-5 0 5 0 0 0 3 1-5 0-1 0-2 0 15 0-10 0 2 0-1 1-2 0 10 0-3 1-5 0 3 0 2 0-8 0 9 0-3 0-9 0 9 0-4 0 1 0 8 1 0 0-1 0 1 0-6 0 3 0 1 0-11 0 5 0 5 1-9 0 9 0 2 0-8 0 0 0-5 0 10 1-1 0-8 0 14 0 0 0-1 1-11 0 2 0-3 0 2 0 6 1-1 0-9 0 2 0 5 0-1 0 8 0-14 1 12 0-8 0 6 0-9 0 3 0 10 0-4 0-9 0 9 1-4 0 8 0-7 0-4 0 6 0 2 0 1 1 3 0-4 0-10 0 13 0-2 0-5 0 4 1-7 0 4 0-4 0 3 0 2 0-2 1 1 0 3 0-8 0 1 0 10 0-13 1 3 0 4 0 6 0-7 0-7 0 8 0 3 1-8 0-4 0 2 1 13 0-6 0-4 1 9 0-12 0 12 0-5 0 1 0-5 1 8 1-11 0 1 0 6 1-7 1 9 0 0 0-1 1-10 0 10 0-3 0-5 2 2 0 5 0 4 1-12 1 11 0-11 0 1 0 3 0 9 1-9 0-1 1-4 1 16 0-8 1-1 2 7 2-5 0 2 1 5 0-9 0-5 0 5 1 1 0-6 1-2 0 4 1-1 1 1 1 5 0-6 0-2 3 1 1 8 1 3 0-7 4-5 0 3 11 4 7 11-145 2 1 1 3-2 2 6 2 6 5-1 6-15 0 3 1 9 0 4 1-9 0-6 1 12 0-4 1 4 0-7 1 5 1-8 1 0 1 12 1-14 1 5 0 2 1-1 1 8 1 0 0 0 0-1 0-10 1 3 0-4 1 10 0-4 1-7 1-2 1 14 0-8 0-4 1 9 0-8 1 1 0 0 0 10 0-8 1 0 0 0 0 9 1-11 1 9 0 2 1-12 0 0 0 12 0-11 0 6 0-9 1 14 0-8 0-5 0-1 0 7 0-5 0 3 1-2 0 8 0 0 0-2 0 4 0-12 0 6 0-3 1 3 0-8 0 11 1 3 0-6 0-4 0 5 0-2 0-1 1 4 0-1 0-9 0 1 0 9 0 5 0-15 0 2 0 11 0-1 1-1 0-8 0 3 0-2 0 2 0-6 0 11 0-2 1-3 0 10 0-6 0-6 0 1 0 10 0-7 0 1 0 5 0-7 1 0 0 1 0 1 0 4 0-13 0 6 0-3 0 1 0 9 0-11 0 11 0-11 1 9 0-6 0 9 0-12 0 10 0-3 0 1 0 1 0-11 0 3 0 11 1-3 0 5 0-14 0 13 0-10 1-5 0 2 0 9 0-7 0 1 0 1 0 9 0-2 0-5 0-7 0 11 0-11 0 5 1-1 0 0 0 3 0-4 0 4 0-1 0-4 1 3 0 8 0 1 0-6 0 6 0-9 0 2 0 1 0 3 0 0 1 1 0-10 0 9 0-1 0 3 0-1 0-8 0 2 0-4 0 2 0-1 0 10 0-11 0 6 1 4 0-11 0 2 0 1 0 9 0-5 0 2 0 2 0-8 0 8 1-2 0 3 0-7 0 9 0-9 0 9 0-4 0-4 0-7 0 5 0 7 0 1 0-2 0 0 0-8 1 11 0-12 0 11 0-11 0 11 0-13 0 12 0-5 0 7 0-6 0 2 1-4 0 2 0-4 0-4 0 6 0-6 0 3 0 0 0 2 0-6 0 1 0 14 1-5 0-9 0 7 0-1 0-5 0 5 0-7 0 6 0 9 0-12 0 9 0-10 0-1 0 13 1 0 0-1 0 3 0-14 0 5 0-6 0 5 0 7 0-9 0 6 1-9 0 0 0 11 0 3 0-13 0 8 0-6 0 11 0-6 0 4 0-13 1 11 0-10 0 3 0 10 0-6 0 1 0 7 0-14 0 4 0-2 0 4 0 4 0 0 0 3 0-7 0 3 0 1 0-6 0 3 1-4 0 1 0 1 0 1 0 5 0-6 0-3 0 8 0 2 0-4 0-7 0 12 0-11 0 3 0 8 0-11 0 3 0 0 0 6 1-12 0-1 0 1 0 3 0 9 0-3 0-6 0 10 0-10 0-1 0 0 0 0 1 6 0-6 0 11 0-4 0-8 0 2 0 6 0 6 1-6 0-7 0 13 0-13 0 11 0-4 0-9 0 13 0-6 0 5 0 1 0-6 1-2 0-3 0 6 0 6 0-13 0-1 0 6 0 5 0 2 0-12 0 14 0-14 0 3 0-4 0 10 0-6 0 0 1 7 0-4 0 8 0-7 0-5 0 8 0 4 0-12 0-1 1 6 0 1 0 6 0-11 0-4 0 7 1-4 0-2 0 3 0 3 0-2 0 9 0 0 0-11 0 11 0-13 0 7 0 7 0-7 1-1 0-2 0-1 0 8 0-1 0 1 1-9 0 8 0-1 0 5 0-9 0-6 0 9 0 3 0 2 0-1 0-9 0 10 0-5 1-2 0 6 0-8 0-1 0 6 0-8 0 11 0-11 0 10 1-10 0 7 0-5 0-4 0 9 0-9 0 14 0 1 0-15 0 15 0-11 0-4 0 1 1 1 0 8 0-3 0-3 0 10 0-7 0-1 1-1 0-1 0 4 0 1 0-1 0 6 0-1 0 1 0 1 0-11 1 4 0-3 0 2 0-3 0-3 0 13 0-7 0 6 1-10 0-3 0 6 0 8 0-2 0-8 1 6 0-6 0 6 0-1 0-9 0 14 0-5 1-6 0-3 0 13 0-1 0-1 0-8 0 5 0 0 1 1 0 4 0 2 0-3 0 1 1-1 0-10 0 0 0 10 0-3 0 1 0-2 0-1 0-7 0 12 0-3 0-1 1 1 0 5 0-2 0-11 0 7 0 6 0-8 0 6 0-13 1 1 0 15 0-15 0 3 0 7 0-8 1-1 0 10 0 0 0 1 1-12 0 7 0 6 0-9 0 8 0-1 0-5 1 1 0 1 0 6 0-8 0-7 1 13 0-4 0 7 0-4 1-6 0 8 1-3 0 0 0-8 0 11 0-11 0 9 0-8 0 6 1 3 0-2 0-2 0-1 0-4 1 10 0-2 0-9 0 8 1 5 0-16 1 12 1-5 0 0 0-7 0 8 1 1 0 4 1-8 0 0 1-1 0-3 0 11 0-8 1 2 0-2 0-2 1 4 0 9 1-9 0 3 0-1 1-1 1 2 1-7 1 9 1-1 1-10 0 7 2 0 1-7 1 7 0 5 1 3 2-5 6-10 1 7 15 15-136-4 5 3 4 11 1-8 2 4 2-3 3-7 1-1 0 13 1-13 3 7 1 2 1-5 0 10 0-15 1 14 0-2 1-4 0 0 0 4 1 3 0-1 0-8 0 3 0 3 1 0 0-5 0-6 1 15 0-1 1 0 0-15 0 3 0-3 0 9 1 6 0-4 2 4 0-12 1 4 1 1 0 5 0 0 0-6 1-4 0 0 0 10 1-3 0-3 0 0 0 4 0 5 0-14 1 9 0-9 0 3 1 10 0-7 1 3 0-7 0 6 1-7 0 11 0-7 0 5 1 0 0-3 0 0 0 7 0-10 0-1 0-4 1 3 0 6 0 2 0-1 0 2 0 3 0 0 0-13 0 7 1-2 0-6 0 3 0 5 0-10 0 9 1-1 0-6 0 10 0-1 0-7 0 2 0-3 0 12 0-14 0 3 1 2 0 8 0-9 0-2 0 8 0-3 0-7 0 6 0-4 0 1 0 7 1 1 0-9 0 0 0 0 0 7 0-9 0 12 0 2 0 0 0-3 0-5 0-6 0 9 0 4 0-6 0 2 0-8 0 13 1-9 0 4 0 3 0-9 0 12 0-15 0 1 0 8 0-5 1 4 0-6 0 13 0-7 0-2 0-6 0 6 0-3 0 1 1 11 0-16 0 11 0 2 0 0 0-9 0 12 0-4 0-3 1 1 0 1 0 0 0-8 0-2 0 14 0-13 0 7 1-2 0-1 0 1 0-3 0 1 0 9 0 2 0-16 1 0 0 10 0 3 0-4 0-2 0-6 0 5 0 5 0 1 0 1 0 1 0-1 0-10 0 10 1-5 0-1 0-3 0 4 0-4 0-4 0 5 0 5 0-8 0 4 0 2 1 2 0-4 0-1 0 10 0 0 0-4 0-3 0-6 0 9 0 0 0-7 0 7 0 5 0-2 1-2 0-5 0 1 0-7 0 3 0 5 0 2 0-8 0 10 0 1 0-5 0-4 0 3 0-7 0 7 0-4 1 3 0 7 0-11 0 9 0-11 0 4 0-4 0 12 0-2 0 5 0-6 0 2 0 3 0-14 0 4 0 6 0 2 0-12 0 6 0 0 0-7 1 1 0 11 0-4 0-8 0 3 0 4 0-3 0 7 0 4 0-3 0 2 0-9 1 6 0-9 0 10 0 2 0-2 0-9 0-1 0 7 0 4 0-11 0 8 0-7 0 4 0-1 0 2 0 7 1 0 0-13 0 5 0 7 0-10 0 1 0-5 0 13 0 1 0-13 0 9 0-5 0 7 0 1 0 1 0-10 1 5 0 3 0-5 0 9 0-7 0 0 0-8 0 8 0 0 0-8 0 8 0-4 0 2 0 0 0 1 0 1 0 0 0-5 0 2 0-4 0 10 0-3 0 0 0 2 1-1 0-10 0 14 0 2 0-5 0 3 0-1 0-11 0 9 0 2 0-11 0 12 0-5 0-2 0 4 1-5 0 9 0-14 0 9 0-4 0 1 0 8 0 1 0 0 0-1 0-14 0 11 0-6 0 7 0-11 0 7 0 4 0-3 1 4 0-13 0-1 0 16 0-9 0 7 0 1 0-12 0-1 0-1 0 14 0 0 0-13 0 6 0-1 0 8 0-9 0-4 0 11 1-8 0 4 0-3 0 1 0 4 0-8 0 11 0-10 0 8 0-6 0 7 0-2 0 4 0-10 0 10 0-1 0 2 0-3 0-10 1 6 0 7 0-6 0 2 0-2 0-6 0 2 0-6 0 7 0 5 0-10 0 7 0 1 0 0 0-10 1 6 0 6 0-6 0 6 0-10 0 2 0-3 0 2 0 2 0 8 1-2 0-4 0-5 0 12 0-6 0-8 0 0 0 11 0 5 0-9 0 8 0-12 0 1 0-3 0 10 0 1 1-11 0 4 0 4 0 5 0-11 0 6 0 3 0-8 0 11 0-13 0 6 0 7 0-4 0-5 0 4 0 3 0-4 1-6 0 12 0-2 0 3 0-15 0 9 0 1 0 2 1-7 0-3 0-1 0 13 0-6 0 4 0-5 0 5 0-12 0 4 0-1 0 7 0-6 0 3 0 5 0-9 1 11 0-4 0 4 0-15 0 10 0-3 0-5 0-1 0 14 0-6 1 6 0-7 0 6 0-4 0-3 0 7 0-6 0 4 0-2 0 1 0-3 0-7 0 10 0-8 0 7 0-5 1-1 0 9 0-4 0-1 0 7 0-1 0-14 0 7 0-3 0 0 0 8 0-11 1 4 0 6 0 3 0 0 0-6 0-6 0 11 0-7 0 3 0-3 0-6 0 6 1 5 0-3 0 4 0 0 0-7 0-1 0 8 1-8 0-1 0 9 0-10 0 12 0 1 0-13 0 0 0 14 0-12 1 1 0 5 0 5 0-7 0-1 0-6 0 14 0-1 1-11 0 8 0-8 0 7 0-8 0 4 0-5 0 3 0 2 0 1 0 2 1 7 0-2 0-2 0-8 0-2 0 6 0-8 0 14 0-9 0 7 0-3 0-4 0 8 0-6 0-3 1 9 0-6 0 6 0-12 0 2 0-3 0 10 0 2 0-2 0-9 0 4 0 9 0-2 1-1 0-5 0 9 0-14 0 12 0-6 0 1 0 8 0-15 0-1 1 15 0-7 0-6 0 5 0-5 0 10 0 4 0-9 0 0 0 6 0-4 1 6 0-14 0 5 0 0 0 0 0 8 0-4 0 2 0 3 0-11 0 2 1-1 0-1 1 6 0 2 0-1 0-9 1-1 0 10 0-3 0 1 2-3 0 4 0 2 0-2 0 5 1-8 0-3 0-3 1 13 0-1 0 2 1-6 0-3 0 9 2-6 0 5 0 1 0-8 0 6 0-4 1 0 0 0 0-4 0 2 0-2 2-4 0 12 1-9 0 6 1 2 0-4 0 3 0-4 1 3 0 1 0 1 3-5 0-4 1 2 1 5 0-4 0 0 2 9 1-15 1 8 0-7 3 13 3 0 1 0 2-2 5 0 2-1 1-4 3 22-122-13 3 2 0 12 4-11 1 9 4 0 3-11 1 2 2 3 0-5 0 10 3-9 1 12 0-6 0 4 0-11 0 6 0-5 1 10 0-7 0 5 0 5 1-10 0-1 0 1 1 0 0 8 0-12 1 3 0 5 1-8 0 11 1 0 0 2 0 1 0-12 2-2 0 3 1 1 0 1 0 5 1 2 0-2 0 1 0-2 1 1 0-11 0 6 0 2 0-8 0 5 1 2 0 2 0 6 0-10 0-5 0 13 1-6 0 6 0-6 0-2 1 4 0 5 0-10 0 0 0 11 0-10 0 10 0-9 0 6 0-7 1 0 0 9 0-12 0 8 0-9 0 11 1-6 0 7 0-9 1 12 0-1 0-4 0-6 0 10 0-15 0 3 1 9 0-2 0-10 0 0 0 14 0-8 0 6 0-11 0 3 0 2 0 8 0-8 0-1 0 11 0 0 1-2 0-12 0 1 0 1 0 6 0-10 0 6 0 7 1-6 0-3 0-1 0 6 0 0 0 4 0-6 0 0 0 2 0 2 0 2 1-2 0 5 0-1 0 1 0-10 0 8 0-8 0-5 0 6 0 6 0-2 1 0 0-9 0 3 0 3 0-7 0 7 0 6 0-9 1 2 0 3 0-3 0-4 0 7 0 3 0-6 0 3 0 4 0-4 0-1 0-1 0-1 1 6 0 3 0-15 0 10 0 1 0 3 0-8 0-6 0 2 1 4 0 0 0 3 0 2 0 2 0-10 0 5 0-8 0 5 0 1 0-3 0 4 1 0 0-6 0 6 0-2 0-4 0 5 0 6 0-3 0 5 0-1 0-5 0-1 0-2 0 1 0-6 0 11 0-4 0-5 1 2 0 0 0-1 0 4 0 2 0 3 0-10 0 2 0 8 0-3 0 5 0-12 0 10 0-12 0 10 0 1 1-8 0 8 0-11 0 5 0 0 0 7 0-12 0 13 0-13 0 10 1-3 0 6 0-4 0-9 0 9 0-3 0 7 0-13 0 8 0-3 0 5 0 1 0-11 0 1 1 12 0-8 0 1 0-4 0 11 0-12 0 7 0-6 0 0 0 10 0-8 0 0 0 0 0 3 0-1 0 1 0 6 0-9 0-2 0-2 0 2 0 1 0 7 1-6 0 4 0-1 0 1 0 2 0-8 0 10 0-12 0 14 0 0 0-5 0 2 0-5 0 8 0-2 0-3 0 5 0-3 0-11 1 8 0-4 0 8 0-4 0-3 0 0 0 2 0 0 0 0 1 8 0-12 0 3 0 8 0-7 0 5 0-10 0 9 0-6 0-2 0 0 0 3 0 0 0-3 0 3 0 9 0-6 0-4 0 8 0-1 1 2 0-11 0-3 0 0 0 3 0 2 0-4 0 12 0-7 0-3 0 4 0-3 0 1 0 9 1-7 0 0 0 8 0-16 0 7 0-4 0 9 0-8 0 12 0-10 0-2 0 2 0-6 0 3 0 11 0 1 0-2 0-5 0-1 1 5 0-7 0-2 0 1 0 10 0 2 0-2 0-11 0 8 0 2 0-9 0 5 0 2 0 1 0 2 0-12 0 8 1-8 0 2 0 7 0 0 0 0 0 1 0-6 0 8 0-11 0 0 0 5 0 4 0-7 0-2 0-1 0 4 0 10 0-9 1 2 0 3 0-3 0-6 0 10 0-10 0 4 0-2 0 7 0 1 0-11 1 12 0-7 0-4 0 3 0 5 0 2 0-4 0-1 0-3 0-2 0 5 0 0 0-6 0 10 0 0 0-3 0-8 1 14 0-9 0-3 0 12 0-6 0 2 0 5 0-7 0 5 0-4 0 0 0 3 0-4 0 3 0-4 0-7 0 11 1-1 0-4 0-6 0 15 0-9 0 7 0-3 0-4 0-5 0 12 0-10 0 12 0-8 0 6 1-2 0-9 0 2 0 3 0-3 0-2 0 6 0-2 0 2 0 1 0 2 0 2 0-9 1 4 0-4 0 2 0-7 0 8 0-4 0 5 0 1 0 0 0-1 0-1 0 6 0-3 1-10 0 2 0 1 0 10 0-2 0-1 0 1 0 4 0-13 0 2 0 8 0-6 0 3 0-1 1 3 0-9 0 1 0-1 0 6 0 6 0 0 0-6 1-8 0 0 0 4 0 8 0-12 0 9 0-9 0 6 0-6 0 2 0 4 0 7 0-1 1-3 0 0 0-2 0-8 0 15 0-15 0 13 0-9 0 5 1 3 0 3 0-5 0-5 0 8 0-12 0 8 0-4 1-2 0 4 0 5 0-7 0 1 0-6 0 16 0-16 0 9 1-1 0 3 0-6 0-4 0 1 0 2 0 10 0-6 0-8 0 8 0 1 1 0 0 7 0-9 0-7 0 12 0 3 0 0 0-11 0 4 0-1 1 3 0-5 0 5 0 0 0-2 0-3 0 5 0-6 1 6 0-5 0 5 0-9 0 1 0 8 0 5 0-7 0-7 0 2 1 3 0 1 0 3 0-8 0 7 0 6 0-11 1 0 0 7 0 2 0-6 0 2 0 4 0-6 1 7 0-2 0 1 0 0 0-9 0-1 0 2 1-2 0 1 0 1 0 0 0 5 1 6 0-2 0-3 1-1 0 4 0-13 1 13 0-12 0 1 0-3 0 2 0 0 0 8 0-6 1 2 0-2 0 1 0 1 0 1 0-3 0 1 1 3 0 3 0-2 0-9 0 12 1 0 0-11 0 9 0-2 0-7 1 10 0 1 0-9 0 9 0-5 1-2 0 6 1-1 1-8 1 0 0-2 1 8 0-4 0 2 1-1 0 7 0 1 0-12 0 0 0 1 1 13 0-1 0-13 2 7 1 4 1-7 0 3 0-4 1 12 0-9 1 0 2-6 3 4 2 3 0 3 3-3 1 7 2-12 2 6 4 1 0 6-121 7 4 3 1-6 1 6 6 3 5-9 1 2 0-2 0 10 2-7 0-3 3-4 0 7 1 5 0-5 0 8 1-15 0 14 1-13 1 6 0-5 2 14 1-2 0-6 0-6 1 4 0 0 0 3 0 0 0-8 1 14 0-4 0-5 0 7 0 3 1 0 0-10 0-5 0 3 0 9 0-5 0-2 0-6 0 10 1-7 0 0 0 1 0-3 0 12 0 1 0-13 0 10 1 0 1-5 0 8 0-10 0 11 0 0 0-3 1-3 0 5 0-13 0 14 0-1 0-1 0 2 1 0 0-11 0 12 0-15 0 14 0-3 0-10 1 8 0-4 0 9 0-11 0-3 1 9 0 0 0 1 0 4 0-9 0 6 0 2 0 1 1-7 0-2 0 6 0 1 1 0 0 2 0-7 0-8 0 10 1 3 0-9 0 1 0-2 0 0 0 8 0-1 1-1 0 4 0 2 0-14 0 13 0-1 0-12 0 8 0-3 0-3 0 9 0 3 1-13 0 9 0-9 0 4 0 3 0 4 0 3 0-9 0 5 0 3 0-10 0 9 0-5 0 4 0-3 0 5 1-7 0 1 0-2 0 0 0 8 0-4 0-8 0 12 0-11 0 6 1-2 0-1 0-4 0 11 0-11 0 1 0-4 0 5 1 5 0-8 0 7 0-3 0 7 0 1 0-9 0-1 0 11 0-5 0 1 0 0 0-5 0 2 1 4 0 1 0 0 0-11 0 4 0 0 0 0 0 1 0-5 0 6 0-4 0-3 1 8 0-1 0-3 0-2 0 11 0-11 0 8 0 5 0-4 0-5 1-4 0 9 0-11 0 3 0 0 0 3 0 6 0-10 0 3 0 0 0 10 0-3 0-3 0-9 1 10 0 0 0 1 0-11 0 7 0 3 0 4 0 1 0-6 1 2 0-11 0 12 0-5 0 1 0-2 0 7 0 1 0-11 0-3 0 8 0-4 1 5 0-3 0 0 0 9 0-10 0 8 0-6 0 4 0-12 0 5 0 6 0-7 0 0 0 2 0 8 0-12 0 5 0 3 0-5 0 9 0 1 1-12 0 5 0 7 0-11 0 11 0 0 0-9 0 6 0-6 0-5 0 4 0 5 0-5 0 9 0-8 0 4 0-2 1-6 0 9 0 2 0 1 0-8 0 5 0 3 0-3 1 3 0-14 0 13 0-2 0-2 0 0 0 4 0 0 0 1 0-3 0 0 0 4 0-8 0 0 0-7 0 11 0-1 0 5 1-10 0 6 0-4 0-5 0 1 0 1 0 6 0-2 0 5 0 3 0-2 0-1 0-11 0 1 0 12 0-9 1 0 0-3 0 12 0-3 0-1 0 2 0 2 0-9 0-2 0 0 0-1 0 2 0 8 0-13 0 10 0 2 0-5 0 9 0-13 0 9 0-2 0-9 1 13 0-2 0 1 0-1 0-5 0-2 0 5 0-8 0 11 0-7 0-2 0 2 0 10 0-3 1-2 0 2 0-7 0 3 0-3 0-2 0 6 0-4 0 7 1 2 0-2 0-2 0 3 0 0 0-4 0-4 0-4 0 12 0-12 0 12 0-13 0 4 0 0 0 2 0-1 1 8 0-2 0 3 0-3 0-6 0 8 0-9 0-4 0 9 0 3 0-7 0 8 0-12 0 2 0 12 1-8 0-3 0 10 0-12 0 0 0 1 0-1 0 5 1-4 0 1 0 6 0-2 0-2 0 3 0 3 0 2 0 0 0-1 0-3 0-3 0 6 0 1 0-1 1-4 0-2 0 7 0-10 0 0 0 0 0 0 0 0 0 6 0-4 0-4 0 7 0 2 0-1 1 4 0-8 0 6 0-4 0-4 0 8 0 0 0-5 0 0 0-3 0 1 0-1 0 8 0-4 0-4 0 4 0 0 0-3 1-1 0 8 0-1 0-8 0 12 0-15 0 6 0 1 0-2 0 8 0-4 0 5 0-3 0 0 0-7 0 3 1-4 0 11 0-3 0 2 0 1 0-11 0-2 0 1 0 9 0-10 0 5 0 4 0 0 0-6 0 7 0-4 0 7 1-14 0 10 0 3 0-6 0-8 0 4 0 8 0-6 0-6 0 14 0-12 0 0 0 12 0-13 0 11 0 3 0-13 1 7 0-6 0 4 0-6 0 12 0-6 0-6 0 11 0-2 0 4 0-7 0 1 0 8 1-15 0 12 0-2 0-1 0-9 0 9 0-1 0-1 0-6 0 3 0-4 1-1 0 0 0 5 0 5 0 4 0-7 0-3 0 4 0 3 0-9 0 2 1 5 0-2 0 3 0-6 0 3 0 0 0 9 0 0 0-6 0 3 0-4 0-7 1 6 0-2 0 1 0-3 0-4 0 7 0 6 0-5 0-5 0 2 0 5 0 6 0-1 1-1 0-5 0 2 0-8 0 4 0 5 1 2 0-1 0-4 0-4 0 0 0 5 0-1 0 6 0-3 1-8 0-3 0 15 0-10 0 8 0-9 0 9 1-10 0-2 0 3 0 8 1-5 0-5 0 1 0-1 0 11 0-11 0 3 1 8 0 0 0-3 0 4 0-11 1 5 0-6 0 8 0-8 0-2 0 3 1 7 0-6 0 4 0 0 0-1 0 5 0-6 0 4 1-9 0 3 0 4 0 2 1-8 0-2 0 13 0-3 0-3 0 1 1-3 0 9 1-2 0-2 0 1 0-10 1 10 0-10 0 4 0 5 1-7 0-4 0 16 0-5 1-4 0 4 0-5 1-1 0-2 2 5 1-4 0 4 1-2 2 8 1-9 0-4 0 8 0 1 1 5 1 0 0-11 0 1 1 4 1-6 0 6 1-6 2 12 1-12 0-1 2 8 1 0 1-3 1 0 2-2 8 20-117 3 8 1 2 2 0-3 3 3 2-14 3 2 0 6 0-2 0 1 1-3 0 3 1 0 0-3 0 1 1 4 0-9 0 8 1 1 1 1 1 4 1-9 0 5 0-1 1 1 0-7 1 1 0 7 1-7 0-3 0 10 1 1 0 3 1-5 0-1 0-1 0 1 0 4 0-2 1-7 0 0 0-5 1 9 0 3 0-2 0-6 0 3 1-1 0 3 0-9 1 13 0 3 0-9 1 0 0 3 0-3 1 0 0-7 0 9 0 4 0-10 0 6 0 1 1-3 0 8 0-11 0 1 0-4 0 9 1-6 0 11 0-6 0 0 0 4 0-8 0 8 0-2 0-7 1 2 0 8 0-7 0 0 0 4 0-5 1 8 0-7 0-1 0 10 0-15 1 9 0 5 0-6 0 2 0-4 0 4 0-10 0 11 0-10 0-2 1 15 0-4 0-8 0 5 0 1 0-5 0 3 0 0 0-7 0 5 0-3 0 4 0-3 0 2 0-3 0 3 0 7 0-6 0-1 0 9 1-1 0 0 0-8 0-3 0 9 0-9 1 4 0 8 0-6 0-8 0 8 0-7 0 3 0 0 0 9 0 2 0 0 1-12 0 1 0 3 0 4 0-1 0-8 0-1 0 2 1 0 0 1 0 7 0 3 0-7 0-5 0 13 0-2 1 0 0-8 0 3 0-1 0 6 0-7 0-3 0 8 0-9 0-1 0 12 0-12 0 6 0 0 0 7 1-4 0 0 0-6 0 1 0-1 0-3 0 5 0 9 0-13 0 13 0-2 0-3 0-8 0 11 0 1 0-4 0 0 0 0 0-3 0 9 0-7 0-8 1 10 0-5 0-4 0 9 0-2 0 0 0 0 0 6 0-10 0 4 0-3 0 4 0-1 0-8 0 6 0-5 0 2 0 12 0-13 1 4 0 3 0 5 0-14 0 13 0-11 0 9 0-5 0 8 0-7 0-7 0 7 0-6 0-1 0 1 0 5 1 4 0 3 0-5 0 1 0-7 0 2 0-1 0 12 0-15 0 10 0-1 1-7 0 0 0 0 0-1 0 8 0-3 0 8 0-15 0 15 0 0 0-7 0 5 0 2 0-13 0 8 0-3 0-1 0-1 0-1 0 2 0 2 0 7 0-1 1 0 0-9 0 1 0 5 0-7 0-1 0 12 0-7 0 6 0-11 0-3 0 12 0-5 0 6 0-11 0 8 0 2 0-10 0 13 0-14 0 0 1 7 0 6 0-7 0 6 0-8 0-1 0 9 0-1 0-11 0 1 0 8 0 5 0-4 0-6 0-2 0-3 0 2 0 7 1 0 0 1 0 2 0-12 0 7 0 3 0-9 0 8 0 4 0-6 0 7 0-1 1 2 0-9 0-5 0 1 0 11 0-4 0-1 0 1 0 2 0-3 0 2 0 1 1-2 0 0 0 5 0-3 0-8 0 10 0-7 0 3 0-5 0 0 0 8 0-11 0 9 0-3 0-1 0 10 0-9 1 0 0 3 0 5 0-6 0-1 0-4 0 4 0 3 0-3 0-2 0 0 0 5 0-10 0 5 0-5 0 13 0-10 0 2 1-2 0 3 0 2 0-5 0 11 0-1 0-2 0 1 0-1 0-4 0 4 0-7 0 1 0 5 0-2 0 2 0-2 0-1 0 5 1-8 0-1 0 3 0-4 0 6 0-2 0-4 0 0 0 1 0-2 0-2 0 2 0 0 0 14 0-16 0 1 1 4 0 8 0-13 0 11 0-11 0 12 0-8 0 0 0 9 0-6 0-4 0 2 0 8 0-11 0 3 0-1 0 10 0-9 0 11 0-11 0 10 0-7 0 7 1 0 0-4 0-10 0 11 0-8 0 10 0-3 0 2 0-1 0-10 0 7 0-9 0 7 0 9 0-11 1-1 0 9 0 0 0-8 0 7 0-5 0 6 0-5 0-4 0 0 0-1 0 13 0-5 0-4 0-1 0-5 0 10 0-10 0 3 0 3 1-5 0 6 0 1 0 0 0-9 0 12 0 1 1-9 0 5 0-8 0-1 0 0 0 10 0-7 0-2 0 11 0-5 0 0 1-6 0 13 0-11 0 12 0-15 0 1 0 10 0-11 0 1 0 15 1-2 0-11 0 12 0-7 0-2 0 1 0-3 0 11 0-11 0-2 0 4 0-6 0 13 0-5 0-5 0 10 0-11 0 10 1 1 0-11 0 13 0-6 0-6 0 3 0 8 0-11 0 12 0-15 0 13 0 2 1-4 0-3 0-2 0-2 0 5 0 5 1-10 0 2 0 2 0 2 0-6 0-4 0 2 0 5 0-6 0 10 0-5 0 8 1-1 0-8 0-1 0 2 1 4 0 1 0-7 0 8 0-2 0 6 0-4 1-10 0 12 0-5 0-1 0 0 1-7 0 10 0 4 0-4 0-4 0-6 0 13 1-3 0-8 0 5 0 7 0-6 0 1 0-9 0 1 0 8 0-1 1 7 0 0 0-13 0 1 0 5 0-3 1 7 0-9 0-4 0 14 0-2 0-3 1-7 0 14 0-1 0-12 0-2 0 11 1-3 0-5 0 8 0-2 0 4 0 2 0-5 1-4 0-1 0 1 0 3 1-4 1 6 0 1 0 3 0-12 0 1 0 3 1 3 1-6 0 1 2 6 1-5 1 5 0-4 0-2 1-3 0 5 1-4 2 2 1 4 1 2 1-6 1 0 0 3 1-4 1 0 0 8 1 1 0-10 11 9 5 11-110-4 2-3 1 5 0 0 6 5 1-9 1 5 2 4 0-1 0 4 1-3 1-9 0 9 0 2 2-10 0 1 1 6 1-4 1 1 0 4 0 2 0-3 1-7 0-2 0 11 0-10 1 14 1-4 0-11 0 10 0-9 0 8 1 2 0 0 1-9 0 2 0 3 1 5 0 2 1-7 0-6 0 6 0 1 0-2 0 8 1-9 0 7 0-3 0 0 0-8 0-2 1 14 0-10 0 12 0-1 0-3 0 0 0 1 0-3 1-7 0 3 0 4 0 4 0-6 0 3 0 1 0-12 0 12 0-4 0-7 1 7 0-1 0 4 0-3 0 6 0-10 0 11 0-9 0-5 0 2 0 3 0 0 0 4 0-7 0 10 1-12 0 2 0 7 0-6 0 4 0 1 0-6 0 1 0 10 1-4 0-8 0 9 0-2 0-3 0 6 0-11 0 13 0-6 0-3 0 8 1-3 0-4 0 6 0 0 0-8 1 7 0-5 0-1 0-1 0 5 0 2 0 3 0-11 0 7 0-9 0 2 1 0 0 10 0-12 0 9 0 1 0-1 0-6 0-2 1 4 0 4 0 0 0-4 0 5 0-1 0-1 1 5 0-6 0-8 0 14 0-3 0-4 0 4 0-11 0 1 0 11 0 3 0-12 0 3 0 8 0-7 0 0 0 3 0 0 0 2 0-10 1 1 0 4 0-4 0-3 0 6 0-5 0-1 0 4 0 1 1 9 0-8 0-2 0 3 1 8 0-1 0-7 0-5 0 7 0-2 0 6 0 1 0-1 0-8 0 4 0 7 0-15 0 14 0-14 1 5 0 8 0 1 0-3 0 1 0-2 0-9 0 7 0 3 0-1 0-1 0-4 1 10 0-3 0-8 0-2 0 7 0-5 0 2 0-6 1-1 0 10 0-3 0 1 0-8 0 1 0 1 0 12 0-12 0 5 0-2 0 0 0 7 0-8 0 6 0 2 1-4 0-1 0 6 0-11 0 2 0-2 0 2 0 10 0-4 0-1 0-6 0 6 0-9 0 2 0-1 0-1 0 5 0-2 1 10 0-9 0 2 0-5 0 10 0-4 0 6 0-13 0 2 0-1 0 5 0 3 0 2 0-7 0-3 0 10 0-10 0 13 0-2 0-2 1-4 0 8 0-1 0-2 0 2 0 1 0 1 0-4 0-10 0 13 0-12 0 13 0-14 0 8 0 2 0 1 1-8 0 1 0 7 0 1 0-3 0 5 0-14 0 8 0 2 0-8 0 7 0-4 1 4 0 0 0-1 0-9 0 3 0 4 0 4 0-2 0 5 0-13 0 2 0 6 1-9 0 14 0-6 0 7 0-5 0 2 0-8 0 1 0 7 0-10 0 4 0 8 0-8 0-1 0-1 1 5 0-4 0-1 0 2 0 0 0-2 0 10 0-3 0-2 0 0 0-1 0-3 0-4 0 2 0-3 0 5 0-2 0 13 0-16 0 12 0-2 0-8 0 4 1-5 0 0 0 1 0 7 0-2 0 2 0 6 0 0 0-13 0 3 0 3 0-8 0 7 0 2 0-6 0 4 1-6 0 5 0-2 0 6 0 4 0-6 0 3 0 2 0 1 0-4 1-2 0-3 0-3 0 4 0 5 0 2 0 1 0 0 0 0 0-13 0 9 0 2 0-1 0 1 0-4 0-7 0 5 0-4 0 0 0 13 0-15 1 0 0 7 0 5 0 2 0-14 0 14 0-4 0-4 0-2 0-2 0 3 0 11 0-9 0 2 0 5 0-7 0 6 0-4 0-1 0-5 0 1 1 9 0 0 0-3 0-2 0-2 0 8 0 0 0 0 0-10 0-2 0 12 0-1 0-4 0-4 0 8 0 3 0-2 0-6 0 7 1-10 0 0 0-2 0 6 0-6 0-1 0 14 0-11 0-1 0 11 0-12 0 6 0 5 0-1 0-10 0 8 0 3 0-6 0 7 0-3 0-9 0 3 0 1 1 9 0-5 0-5 0-2 0 8 0 3 0-7 0 2 0-6 0-1 0 5 0-4 0-1 0 12 0-11 0 3 1-5 0 9 0-5 0-3 0 0 0 5 0-1 0 7 0-13 0 2 1-2 0 7 0-3 0 2 0 6 0 2 0 1 0-1 0-11 0-2 0 6 0-4 0 7 0-4 0-3 1 1 0-2 0 2 0-4 0 14 0-5 0-2 0-3 0-2 0 10 0 0 0-6 0 2 0-2 0-4 0 10 0-8 0-1 0 9 1-1 0 2 0-9 0-2 0 1 0 2 0-5 0 7 0 0 0-2 0-2 0 10 0 0 1-6 0-2 0 0 0 5 0-2 0 4 0-12 0 7 0-3 0 8 0-10 0 2 0-4 0 6 0 4 1-6 0 9 0-7 0 6 0-5 0-1 0 1 0-8 0 5 0 3 0 7 0-10 0 3 0 1 0 3 0-1 0 2 1-9 0 2 0-2 0 7 0-3 0 5 0-2 0-11 1 8 0-3 0-4 0 5 0-4 0-1 0 10 0 4 0 0 0-10 0 3 0 5 0-2 0 5 1-6 0-6 0 6 0 4 0-7 0 0 0 8 0-5 0-4 0 1 0-6 0 13 0-7 0 6 1-4 0-9 0 16 0-16 0 2 1 8 0 6 0-5 0 3 0-2 1 3 0-14 0 10 0-6 0-3 0 9 0 0 0 1 0-9 1 6 0 3 0-9 0 4 0-4 0 6 0-7 0 6 0 4 0 0 0-3 0-4 1 10 0-6 0-7 1 8 0-6 0 10 0-3 0-3 0 8 0-2 0-4 1 1 0-9 0 5 0 0 0 1 1-6 0 7 0-4 0 0 1 7 0 3 0-12 1 7 0 3 0 0 0-11 0 3 1 6 0 0 0 3 1-13 0 13 1-5 0-3 0 1 0 0 1 3 0-2 0 3 0 2 0-1 0-7 1 11 0-7 0 5 1 2 0-6 0-9 0 6 0-7 1 13 0-8 0 5 1 0 0-2 1-1 0-3 2 12 0-1 1-6 0-1 2-4 4 6 2-9 4 13 4 16-99 1 1-2 0-3 1-5 1 0 1-4 1 1 0 2 0 5 1 6 0-7 2 7 2-14 1 7 0 8 0-11 1-3 1 5 0 4 0 1 0-1 0-6 1 5 0 0 0 2 1 1 0-11 0 12 0 0 1-3 0 5 1-1 0-11 0 3 1 4 0-3 0-4 0 9 0 1 1-2 1-8 0 9 0-2 0-11 0 11 0-1 0-1 1-2 0-2 0-1 0-3 1 11 0 1 0-9 0 2 0-5 0 12 1-3 0 6 0-12 0 11 0-4 0-11 0 10 1-3 0-6 0 12 0 0 0-1 0 4 0-15 1 14 0-3 0 3 0-12 0 6 0 1 0-3 0 1 0 3 0-2 0-4 1-4 0 12 0-10 0 4 0 6 1-2 0-4 0 5 0-1 0-3 0-7 0 15 0-4 0-7 0 3 0 4 0-9 1 12 0-2 0 1 0-9 0 8 0-3 0-5 1 3 0 3 0 1 0 2 0-1 0 3 0-12 0 0 0 12 0-14 0 8 0-4 0 6 0-9 1 5 0-8 0 5 0 10 0-11 1 9 0-5 0-5 0-2 0 6 0 0 0-4 0-2 0 3 0 11 0-5 0-4 1 9 0-7 0 5 0-4 0-2 0 9 0-12 0 0 0 10 0-1 0-10 0 9 0 0 1-3 0-8 0 4 0 1 0 9 0 1 0-11 0 3 0-6 1 13 0-3 0-7 0 6 0-2 0-8 0 14 0-8 0-5 0 9 1-4 0 7 0-2 0 2 0-5 0 4 0-6 0 1 0 5 0 2 0-13 0-1 0 6 0-2 0 7 0-6 0-5 0 7 0-1 0-5 0 13 0-6 0-6 1 9 0-3 0 5 0 0 0-6 0-3 0 9 0-12 0 3 0-4 0 12 0 2 0-12 0 9 1-6 0 1 0-3 0 3 0 5 0 2 0 1 0-14 0 2 0 1 0-3 0 13 0 1 0-9 0-6 0 6 0 8 0-2 0-11 0 6 1 6 0 0 0-10 0-1 0 5 0 7 0 0 0-14 0 8 0 5 0-10 0 2 0 4 0 3 0 2 0-11 1 1 0-3 0 10 0-1 0-1 0 1 0 5 0 0 0-9 0 7 0-8 0 5 0-9 0 1 0 4 0 2 0 1 0 6 0-2 0-7 0-1 0 3 1-2 0-2 0 10 0-5 0 1 0-9 0 12 0-2 0-3 0-3 0 8 0-6 0-6 0 13 0-4 0-5 0 10 0-6 0 5 0 0 1 1 0-14 0 1 0 13 0-5 0-4 0 3 0 1 0 2 0-1 0 3 0-2 0 4 0-14 0 10 0-6 0-1 0-3 0 6 0 7 0-1 1 0 0 0 0-1 0 0 0-12 0 9 0 0 0-9 0 11 0-1 0 1 0-1 0-1 0-1 0 3 0-2 1-1 0 1 0-6 0 0 0 7 0-11 0 4 0 1 0-3 0 7 0 3 0-5 0-3 0 0 0 7 0-9 0 6 0-5 1 7 0 3 0-3 0 2 0-8 0 3 0 4 0 0 0 2 0-7 0 8 0-3 0-7 0-3 0 4 0 6 0-2 0-4 0 2 0 6 0-6 0 8 1-1 0-4 0-4 0 7 0-9 0 0 0 9 0-10 0 6 0-1 0-4 0-3 0 11 0-7 0 6 0 2 0-2 0 4 0-11 0 2 1 3 0-8 0 1 0 6 0 6 0-12 0 12 0-13 0 15 0-14 0 14 0-1 0-8 0 8 0-5 0-10 0 6 1 8 0 0 0-7 0-5 0 2 0 8 0-2 0-7 0-3 0 15 0-1 0-10 0 6 0 2 0-1 0 2 0-11 0 2 0 6 0 5 0-9 0 1 0 9 0-6 0-3 0-5 0 8 0 1 0-6 0-1 1 10 0-11 0 4 0 3 0 6 0-3 0 3 0-5 0 0 0 0 0-11 0 13 0-1 0-6 0 2 0-7 0 10 0 0 0-5 0 6 0-12 0 7 0-1 1 2 0-7 0 11 0 0 0-10 0 10 0-11 0 6 0 8 0 0 0-14 0 10 0-2 0 2 0 1 0 0 0-5 0 5 0-8 0 10 0-13 0 9 0-7 0 10 0-3 0 3 1-5 0 5 0-5 0-5 0-3 0 4 0 4 0-6 0 8 1 5 0-7 0-5 0 11 0-1 0 1 0-4 0-3 0 3 0-5 0-4 0 12 0-2 0-2 0-4 0 8 0-9 0 4 0-2 0 5 0-3 0 5 0-8 0 6 0-2 0 7 1-11 0 0 0 5 0-8 0-1 0 2 0 7 0-4 0 2 0-5 0 12 0-8 0 5 0-7 0-3 1 13 0-14 0 3 0 6 0-2 0 6 0-5 0 2 0-8 0 12 0-3 0-3 0-5 0 9 0 0 0-7 0 6 1 1 0-2 0-1 0-6 0 1 0-5 0 4 0 7 0-7 0-2 1 9 0-7 0 2 0 1 0 7 0-11 0 8 0-7 0 9 0 2 0-11 0 9 0-6 0-3 0 8 1-6 0-1 0-3 0 10 0-11 0 5 0 3 0 0 0 1 1 3 0-11 0 13 0-12 0 1 0 4 0 3 0-1 0-9 0 6 0-3 0 8 0-5 0 2 0 2 0-11 0 0 0 2 1 11 0-10 0-1 0 5 0-2 0 2 0-1 0 2 0 2 0-4 0 7 0-3 1-3 0 6 0-3 0 1 0-4 0-2 0 4 0 4 0-11 0 3 0-1 0 5 0-2 0-1 1 10 0-6 0 1 0-7 0 10 0-14 0 1 0 14 0-14 0 10 0-6 1 9 0-5 0-5 0 8 0-4 0 7 0-9 0 3 0-6 0 5 1-5 0 6 0-1 0 4 0-12 0 8 1 6 0-8 0-6 0 8 0 3 1-5 0 0 0 10 0-3 1 0 0 1 0-14 0 14 0-8 0 1 1 6 0-13 0 14 0-3 0 2 1-6 0-2 0 6 0-7 0 11 1-5 0-4 0-6 0 6 0 3 0-7 0 10 1-1 0 2 0 3 0-13 0-1 1 4 0 6 0 2 0-8 0-1 0 5 0 3 1-6 0 1 0-8 0 10 1-2 0-7 0 6 1 0 0-3 0-2 1 13 0-5 1 3 0-11 0 11 1-8 0 9 0 0 0-10 2 1 1 1 0 3 2-1 0-7 1 2 1 5 2 2 3 15-95 5 1-4 3 0 2 4 6-11 1-1 0 7 0-1 2 3 0-8 1 2 1 10 1-3 0-9 1 3 1-5 1 4 0 7 1 3 0-14 0 5 1 2 1 1 1-7 0 7 0-6 0 10 2-9 0 7 0-11 0 12 0-10 1 1 0 12 0-9 1 0 0 4 1 4 0-6 0-4 0 2 0 2 1 1 0 0 0-6 0 6 0 6 1-3 0-4 0-1 0 5 0-4 0 6 0-4 1-9 0 4 0 2 0-6 0 5 1 10 0-1 0-11 0 6 0-7 0 1 0 4 0-1 0 6 0 2 0-6 0-6 1 6 0 1 0 3 0-10 0 10 0-4 0-6 0 6 1-1 0 5 0-3 0 3 0-1 0-7 0 2 0 3 0 1 0 5 0-7 0 0 0-4 1-1 0 12 0-4 0-6 0 3 0-5 0-2 0 4 0 9 0-11 0 11 0 0 1-8 0 4 0-11 0 15 0-8 0 5 0 1 0-4 0 0 0 2 0-8 1-1 0-1 0 11 0-11 0 5 0 4 0-8 0 2 0 0 0 10 0 1 0 1 0-10 0 4 1 5 0-4 0-4 0 6 0-8 0 0 0 3 0-6 0 13 0-14 0 0 0 5 0-2 0 4 0-6 0 4 0-3 1 6 0 2 0 5 0-7 0-9 0 5 0 5 0-9 0 5 0 6 0-5 0-7 0 6 1 0 0-2 0 0 0 6 0 4 0-9 0 2 0 4 0-2 0-5 0 2 0 9 0-8 0 4 0-7 0 2 0 9 0-11 0 6 1 2 0-5 0-2 0 5 0-10 0 7 0-1 0 4 0-7 0 6 0 6 0-4 0 3 0 2 0-13 0 0 0 10 0-6 0 1 0-6 0 9 1-10 0-1 0 8 0 2 0-7 0 11 0-12 0 2 0 7 0 1 0-7 0-3 0 12 0-14 0 13 1-10 0 13 0-11 0 11 0-7 0 7 0-14 0 13 0-10 0 5 0 0 0 1 0-6 0 11 0-10 0 10 0 0 0-10 0-6 0 13 0-12 0 5 0-2 0 11 0-11 0 9 0-9 0 2 0 8 0-4 1-8 0-1 0 13 0-9 0 1 0 3 0 4 0 3 0-7 0-4 0-1 0 4 0 7 0 0 0-5 0-10 0 14 0-12 1 10 0-6 0 6 0-8 0 6 0 2 0-7 0 10 0-7 0-3 0-1 0 11 0-13 0 12 0-3 0-7 0 0 0 7 0-7 0 11 0-7 0-8 0 9 0 6 0-5 0-3 0 1 0-2 1 0 0-3 0 5 0 5 0-13 0 13 0 0 0-11 0 7 0-3 0 5 0-6 0 6 0-6 0 6 0-10 0 0 0 10 1-9 0 6 0-6 0 12 0-11 0 13 0-5 0-7 0 0 0 12 0-14 0 0 0 8 0-6 0 10 0 1 0-4 0-8 0 1 0-4 0 0 0 10 0-7 0 10 0 1 0-2 1-12 0 2 0 2 0 12 0-5 0-10 0 14 0 1 0-3 0 2 0-8 0 1 0 0 0 7 0-1 0-1 0 1 0-5 0-8 0 10 0-2 1-1 0-7 0 8 0-5 0 10 0-1 0-4 0 1 0-6 0 5 0-4 0-3 0 1 0 1 0 10 0 1 0-1 0-4 0-3 0 8 1-12 0 7 0 6 0-12 0 1 0 7 0-9 0 4 0-4 0 1 0 10 0-9 0 2 0 1 0 6 0-12 0 10 0-9 0 3 0 2 1-5 0 8 0 0 0 0 0-10 0 0 0 13 0-9 0 3 0-3 0-2 0 12 0-6 0 1 0 1 0 3 1-9 0 3 0-7 0-1 0 14 0-4 0-3 0 2 0-8 0 14 0-14 0 1 0 4 0 5 0 4 0-1 0-11 0 0 0 1 0 0 0 11 0-7 0-6 1-1 0 4 0 9 0-3 0-1 0-7 0-2 0 3 0 0 0 11 0-4 0 3 0-11 0 4 0 0 0 4 1-10 0 6 0-6 0 4 0 5 0-5 0 5 0-4 0 2 0-1 0-3 0-2 0 5 0 5 0 0 1-2 0-3 0 9 0-10 0-1 0-1 0-2 0 11 0-1 0-6 0 2 0-2 0 9 0-15 0 12 1-10 0 13 0-9 0 10 0-8 0 1 0 5 0-1 0 2 0 0 0-6 0-4 0 9 0 0 0-13 0 13 1-4 0-5 0 4 0 4 0 0 0-7 0 4 0-4 0 7 0-3 0-5 1 1 0-4 0 6 0 3 0-6 0 5 0-6 0-4 0 5 0 2 0-3 0 11 0-9 0 2 0-5 0-2 1 1 0 4 0 4 0 5 0-10 0 10 0-4 0 5 0-12 0 3 0 8 0-11 0 10 0-7 0-2 0-2 1 4 0-6 0 15 0-7 0 1 0-4 0-3 0 13 0-4 0 1 0-8 0 2 0 6 0-7 0 2 0-2 1 10 0-2 0-11 0 3 0 7 0-1 0-5 0-6 0 15 0-2 1-10 0 11 0-3 0 2 0-6 0-4 0-2 0 12 0-8 0 0 0 0 0-1 1-3 0 7 0 1 0-9 0 6 0 4 0-5 0 6 0-4 0-5 0 5 0-1 0 5 1-1 0-4 0 7 0-12 0 10 0-7 0-1 0-3 0 0 0 2 0 0 1 6 0-8 0 5 0-1 0 8 0 1 0-10 0 9 0-5 1 7 0-12 0 8 0-4 0-4 0 6 1 7 0-3 0-7 0 9 0-1 0-3 0-9 0 2 0 11 0 0 0-11 0 3 0 6 0-11 1 14 0-2 0-5 0-8 0 11 0-1 1-6 0 0 0-2 1 8 0-9 0 4 0 10 0-9 0 3 0 3 0-2 0-5 1 7 0-2 0 3 0-9 0 9 0-2 1-9 1-1 0 7 0-6 0 8 1 3 0-8 0-3 0 7 1 3 0-8 0-3 0-1 1 10 0 1 1-1 1-7 1 11 1-11 0 3 0 0 1 8 1-15 1 3 0 7 0 6 1-11 2 1 0-3 2 2 1-1 0 0 0-4 1 15 1-3 0-3 0-5 1-4 7 5 4 14-105 10 1-11 5 7 0 3 2-1 8 0 2-3 1 3 1-11 0 2 0-1 1 15 0-2 0-7 1 7 0-8 0 5 0-9 1 7 1 4 0-6 0-1 1 5 0 5 0-15 1 2 0 4 0 7 0-14 0 8 1-7 0 0 0 6 0 4 0-4 0-4 0 4 1-6 0 8 0-6 1 8 0-6 0 8 0-11 0 6 0-1 1-1 0 3 0-4 0 1 0 7 0 0 0-5 1 7 0-6 0-3 0-6 0 6 1 1 0 3 0-9 1 5 0 9 0-12 0 3 0-4 0 10 0-7 0 6 0-10 1 7 0 3 0-9 0 4 0 1 0-7 1 2 0 0 0 2 0 3 0 0 0 8 0 0 0-11 1 2 0 7 0-10 0 2 0 6 1 4 0-9 0 8 0-3 0 3 0-2 0-1 0-3 0 0 0-3 0 4 1-1 0-6 0 8 0 0 0 3 0-6 0 0 0 8 0-10 0 1 0 5 1 2 0-6 0-2 0 5 0 1 0-3 0-3 0 5 0-2 0 8 0-14 0 12 0-13 0 12 0-2 0 3 0-6 1-1 0 4 0-5 0 4 0-1 0 3 0-1 0-7 0 4 0-8 0 15 0-12 1 10 0-10 0 0 0 5 0 3 0-7 0-3 0 10 0 3 0 1 0-1 0-4 0 5 0-10 0-5 0 12 0 2 0-10 1 5 0-1 0 1 0-5 0-1 0-1 0 10 0-1 0-2 0-6 1 11 0-8 0 10 0-3 0-5 0 7 0-14 0 14 1-14 0 3 0 1 0 7 0-10 0-1 0 6 0-2 0 1 0-1 0 3 0 1 0-7 0 3 0 1 0 8 0 0 0-12 0-1 0 2 0 6 1-4 0 8 0-6 0 1 0 1 0-6 0 2 0 4 0-2 0-2 0-1 0-4 0 6 0-5 0 9 0-10 0 14 1 0 0 1 0-8 0-4 0-3 0 13 0-5 0-4 0 3 0-1 0-2 0 9 0-5 0-4 0 7 0-4 0 0 0-7 0 7 0-6 0 15 0-14 0 5 1 4 0 3 0-8 0 9 0-10 0 7 0-5 0 1 0 7 0-15 0 11 0-6 0-1 0 4 0 1 1 0 0 1 0 1 0-9 0 3 0 1 0 1 0 2 0-7 0 1 0 11 0-2 0-11 0 0 0 9 0-5 0 9 1-8 0 3 0 6 0 0 0-2 0 0 0-12 0 9 0-3 0-4 0 6 1 4 0 0 0-2 0-9 0 13 0 0 0-10 0-3 0 4 0-6 0 11 0-2 0-6 0-1 0 2 0 4 0 5 0-5 0-7 1-1 0 9 0 7 0-12 0 11 0-1 0-7 0 7 0-3 0-3 0 3 0 2 0-7 0 8 0-3 0-10 0 5 0 4 0 4 0-13 0-1 0 14 1 1 0-1 0-1 0 0 0-4 0-5 0 8 0 1 0-7 0 4 0 1 1-6 0 6 0 2 0-4 0-9 0 15 0-14 0 13 0-3 0-2 0-7 0 5 0-3 0 7 0-7 0 6 0-4 0-4 1 11 0 0 0-3 0-2 0-4 0 6 0-4 0-4 0 2 0 6 0 1 0 1 0-6 0 8 0 1 0-1 0-3 0-8 0 9 0-8 0 9 0-7 1 7 0 1 0-11 0 2 0 0 0-4 0 10 0-1 0 4 0-3 0-8 0 9 0-8 0 0 0 1 0 1 0-5 1 9 0-1 0-4 0 5 0 2 0-12 0 0 0 8 0-5 0 11 0-9 0-3 0 4 0-2 0-3 1 10 0-1 0 5 0-10 0 2 0 6 0-8 0 3 0-2 0 7 0-12 0 1 0 7 0 2 0-2 0-7 0 6 0-6 0 1 0 9 0-7 0-3 0 10 1 3 0-7 0 0 0 6 0-7 0 4 0-4 0 0 0-2 0 8 0-5 0-6 1 12 0 1 0-12 0-3 0 13 0-6 0 3 0-3 0-5 0 11 0-3 0-1 0-2 0 0 0 3 0-10 0 10 0 4 0-11 0-1 1-1 0 8 0-7 0 6 0-1 0-4 0 1 0-3 0 14 0 0 0 0 0-13 0 0 0 5 0-5 0 13 0-5 0-6 1 12 0-13 0 0 0 7 0-7 0 10 1-12 0 12 0-7 0 7 0-11 0 11 0-3 0 6 0 0 0-2 0-9 0-3 0 12 0-4 0 6 1-10 0 5 0-4 0 9 0-16 0 8 0 3 0 1 0 3 0-2 1 3 0-4 0-11 0 5 0 0 0-4 0 0 0 4 0-2 0 5 0-1 0-1 0-6 0 5 0-2 0-4 1 5 0 1 0 5 0-9 0 11 0-4 0 6 0-4 0-7 0 1 0 10 0-9 0-1 0 9 0-9 1 3 0 5 0-9 0 11 0-11 0-1 0 9 0-2 0 4 1-11 0 8 0-4 0-5 0 9 0-4 0-5 0 5 0-6 1 5 0-3 0-2 0 3 0-1 0 3 0-3 0 7 0 4 1-5 0-7 0 6 0-2 0-5 0 5 1 10 0-15 0 10 0-3 0-4 0 3 0-6 0 13 0-7 0 1 0-3 0 3 1 2 0-4 0 0 0-2 1 9 0 1 0-11 0-3 0 1 1 3 0 0 0 7 1 4 0-12 0 11 0-2 1-1 0 3 1-6 0-8 0 7 0 3 0-1 0-8 0 8 0-2 1 2 0-5 1-1 2-2 0 9 0 0 0 3 1-10 0 10 1-12 0 7 1 0 0 0 0 6 2 2 0-6 0-7 0 0 0 12 3-1 0-12 0 11 1 1 0 1 0-4 0 4 2-6 0 3 0 1 3-11 1-1 0 6 4-1 1 6 0 19-97-12 0-1 9 5 2-2 2-1 4 8 0-4 1-7 0 15 1-12 0 8 0-3 0 1 1 3 0-3 0 4 2-5 0 5 1-4 0-1 1 6 0 0 1-9 0 5 0-2 0-5 0 6 0-4 1-4 0 1 0-3 0 2 0-1 1 8 0 4 1-4 0-4 1 7 0-11 0 7 0 3 0-10 0 5 1 3 0-3 0 2 1-2 0 4 0-3 0 3 0-9 0 5 0-1 0 1 0-3 0 10 1 0 0-13 0 9 0-7 0 13 0-4 0-10 0 0 1 4 0 4 0-3 0 2 0 8 0-1 0-14 0 4 0-3 0 10 0-8 1 4 0-1 0-1 0 0 0 10 0-14 0 13 0-10 0-1 0-3 0 11 1-11 0 4 0-3 0 9 0-1 0-8 0 11 1-1 0-2 0-4 0 4 0 1 0-4 0 4 0-5 0 0 0 8 0-10 0 3 1 4 0-8 0 5 0-5 0-1 0 11 0-11 0 5 0 9 0-7 1 5 0-11 0 11 0-11 0 6 0 2 0-10 0 14 0-3 1 1 0-4 0-5 0 10 0-9 0 6 0 3 0-1 0-7 0 2 0 3 0 4 0 0 0-13 0 7 0-3 0-4 0 8 1-7 0 10 0-11 0-1 0 11 0-9 0 9 0-3 0-1 0-6 0 7 0-1 0 6 0-11 0 4 0-3 0 12 1-4 0 4 0-3 0-8 0 7 0-12 0 2 0 8 0-2 0 0 0-4 0 2 0 4 0-4 0 6 0-2 0-6 1 3 0 0 0 8 0-5 0-8 0 11 0-1 0 1 0-3 0-10 0 7 0 1 0-3 0-2 0 9 0-5 0 7 0-13 0 6 1 1 0-7 0 7 0 6 0-6 0 4 0-7 0 4 0 0 0-5 0 8 0-5 0 6 0 1 0-7 1-4 0 8 0 0 0 2 0-3 0-4 0 0 0-4 0-1 0 1 0-2 0 6 0-3 0-1 0 9 0-8 0 7 0-5 0 8 1 1 0-3 0 3 0-4 0-3 0 1 0-6 0 5 0-7 0 6 0 0 0 2 0 2 0-1 0-9 0 14 0-10 0 7 1-11 0 7 0 5 0 3 0-8 0 7 0 1 0-10 0 11 0-7 0-9 1 15 0-4 0-5 0-5 0 10 0-8 0 9 0-2 0-7 0 9 0-8 0 6 0-5 0 5 0-9 1 12 0-10 0 8 0-2 0 5 0-6 0-3 0-1 0 3 0-7 0 10 0-3 0 0 0 3 0 2 0 1 0-7 0 3 1 6 0-10 0 5 0 1 0-5 0-6 0 4 0-3 0 0 0 1 0 6 0 6 0-3 0-10 0 5 0 0 0-2 1 3 0 6 0-12 0 12 0 3 0-2 0 1 0-8 0 2 0 1 0-9 0 8 0-5 0 10 0-1 1 1 0-11 0 4 0-4 0 7 0-7 0 7 0-9 0 1 0 4 0 5 0 0 0-10 0 9 0-6 1 2 0-5 0 0 0 5 0 7 0-4 0 5 0-8 0 0 0 9 0-12 0 10 0-11 0 5 0-6 0 7 1-6 0 9 0 4 0-9 0-3 0 8 0-4 0 6 0-2 0-4 0-1 0 8 0 0 0 2 0-10 0 4 0-8 0 1 0 11 0-10 0 6 0 3 1-8 0 11 0-2 0-8 0 9 0-14 0 0 0 13 0-8 0 8 0 2 0-4 0 3 0-2 0-9 0 6 0 0 1 2 0-11 0 1 0-1 0 14 0-11 0 6 0 5 0-14 0 8 0 3 0-4 0 8 0-8 0-5 0-3 0 5 0 8 1-1 0-2 0-6 0 1 0 2 0-4 0-2 0 15 0-2 0-6 0-3 0 5 0 1 0-8 0 12 1-11 0 9 0-3 0-8 0 5 0 1 0 6 0-9 0 3 0-1 0-5 0 8 0 0 0-5 0-5 1 4 0 8 0-11 0 2 0-1 0-1 0 14 0-2 0-13 0 3 1 6 0 3 0 0 0 1 0-6 0 7 0-4 0 5 0-13 0 10 0 2 0-1 0-8 0 3 1-7 0 15 0-9 0-4 0 8 0-11 0 10 0-10 0 6 0 9 0-7 0 4 0-7 1 4 0 3 0-7 0 6 0 2 1-11 0-1 0 6 0 9 0-10 0 1 0-3 0 4 0 2 0 1 0-10 0 1 0 6 0 4 0-1 1-6 0 10 0-6 0-4 0 7 0-9 0 0 0 10 0-13 0 12 0-11 0 4 0 6 1-6 0 6 0 1 0-5 0-2 0-1 0-2 0 13 0 1 0-5 1-7 0 8 0-1 0-8 0 3 0 0 0 2 1 5 0-9 0 5 0-1 0-3 0 2 0-5 0 2 1 11 0-6 0 4 0-7 0 7 0-9 0 10 0-3 0-9 1 14 0-13 0 0 0 12 0-14 1 7 0 0 0 1 0-7 1 11 1 2 0-9 0 8 1-12 0 6 0-4 0-1 0 0 0 4 1 2 0-9 0 3 0 8 2 2 0-7 0-1 0 0 0 6 1-4 0 4 0 3 1 1 0-4 1-3 0 6 1-4 0-8 2 10 0-12 1 2 1 13 0-8 2-2 0 1 3 3 4 7 3 12-92 0 3 0 2-10 3 5 0-6 0 5 3 6 0-7 1 3 1-6 2 6 2 1 1 7 0-14 1 3 1 5 0 5 1-14 0 15 0-8 1-1 1 2 0 6 1-3 0 3 1-11 0 4 0 3 0 3 0-10 0 6 1 3 0-12 1 12 0 1 0-13 0 1 0 7 0 4 0-13 1 16 0-7 0-7 0 1 0 2 0 3 0-5 1 6 0-4 0 7 0-9 0 11 0-6 0-6 1 1 0 7 0-5 0-4 0 14 0-5 1-3 0-1 0 5 0-4 0 2 0-9 0 10 0 5 0-6 0-4 0-4 1 2 0-1 0 9 0-2 0-6 0 3 0 7 1-4 0-5 0 1 0 0 0-3 0 3 0 10 0-2 0 1 0-7 0 6 0 3 0-9 0-4 1 12 0-10 0 3 0 6 0-7 0-4 0 10 0 2 0-3 0-5 0-6 0 14 0-13 0 10 0-10 0 1 0 0 1 3 0 4 0-3 0 4 0-5 0 10 0-9 0 4 0-10 0 6 1 0 0-4 0-3 0 13 0-1 0-2 0 4 0-9 0 10 0-11 0 9 0-11 0-1 0 7 1 6 0-8 0 4 0 6 0-10 0 10 0-1 0-3 0 0 0 0 0-5 0 1 1 2 0 4 0-4 0-1 0 6 0-2 0-5 0 2 0 5 0-12 0 10 0 0 0-10 0-1 1 7 0-7 0 7 0 6 0-11 0 7 0-9 0 0 0 0 0 0 0-1 0 4 0-3 0 3 1 1 0 3 0-7 0 6 0 4 0-8 0 7 0 3 0-13 0 14 0-9 0 3 0 1 0-7 0 10 0 1 0-4 0-2 0-2 0 0 0-6 0 16 0-16 0 16 0-15 0 6 0-4 0 8 1-10 0 14 0-11 0 3 0-1 0 5 0 1 0-1 0-6 0 5 0 3 0-7 0-1 0 8 0-6 0 3 0-7 1 9 0-9 0 2 0 4 0 3 0-5 0-3 0-3 0 6 0 8 0-5 0-8 0 1 0 0 0-2 0 8 0 7 0 0 0 0 0-15 1 4 0 7 0 2 0-12 0 5 0 6 0-9 0-1 0 7 0-3 0-3 0 2 0 0 0 0 0 9 0-8 0 9 0-13 0-1 0 7 0 4 0-1 1-9 0-3 0 10 0-5 0-4 0 9 0-7 0-2 0 14 0-6 0 1 0-2 0-6 0-2 0 14 0-3 0 2 1 1 0-12 0 3 0 6 0 0 0 3 0 1 0-14 0 3 0 4 0-8 0 13 0-2 0-3 0 1 0 0 0-7 1 6 0 4 0-7 0 6 0 2 0 0 0-4 0-6 0 2 0-1 0-1 0 4 0 3 0-2 0 6 0-2 0 2 0 1 0-8 0 2 0 2 0-2 1 1 0 0 0 2 0-6 0-2 0 3 0 0 0-6 0 10 0 0 0-3 0 4 0 0 0-7 0 5 0-7 0 3 0 8 0-13 0 6 0-1 0-3 1 6 0-7 0 13 0-5 0 3 0-1 0-7 0-3 0 12 0 0 0-9 0 6 0 2 0 3 0-9 0 1 0 7 0-4 0-7 0 9 1-12 0 10 0-10 0 14 0-12 0 5 0 8 0 0 0-16 0 5 0-1 0 6 0-3 0 6 0-2 0-9 0-2 0 2 0 2 0-3 1 5 0 1 0-5 0 5 0 1 0 7 0-9 0 5 0-6 0-2 0 0 0-2 0 14 0-14 0 11 1-6 0-3 0 11 0 1 0-5 0-3 0 6 0-7 0 8 0-1 0-11 0 9 0 1 0-1 0-9 0 1 0 10 0 0 1-4 0-5 0 1 0 0 0-5 0 4 0 4 0 3 0 3 0-6 0-5 1 8 0 4 0-8 0-4 0 7 0-6 0 5 0 2 0-4 0 3 0-4 0 4 0 1 0-6 1-1 0-2 0 5 0-2 0 8 0-8 0-4 0 8 0-9 0 7 0-4 0 10 0 1 1-12 0 5 0 5 0 1 0-1 0-10 0 0 0-1 0-1 0 9 0-2 1 3 0-1 0 0 0 5 0-4 0-9 0 13 0-11 1 5 0-2 0 6 0-1 0-7 0 0 0 0 0 4 0 6 0-9 1-3 0 4 0 3 0-6 0 8 0 2 0-2 0 1 0-8 0 4 0-8 0 9 1 3 0-9 0 2 0 11 0-5 0-1 0-4 0 6 1 0 0-6 0 0 0 9 0-9 0 7 0-8 0 4 0 2 0 4 1-11 0 9 0-3 0-9 0 3 0 8 0-4 0-4 0 10 0-11 1-2 0 2 0 12 0-9 1 9 0-8 0 0 1-3 0 7 0-4 0-3 0 5 0 3 0-9 0-2 1 1 0-2 0 2 0 12 0-12 0 12 0-13 0 13 1 1 0-14 0 7 0 1 0-2 0 2 0 0 1-5 0 0 0 6 1 4 0-5 0 2 0-1 1 2 1-1 0-8 0-1 0 9 1-2 0 6 0-1 0-8 1-4 0 1 0-1 1 8 0 5 0-5 3 0 0 3 2 0 3-8 2 4 3-1 0-2 3 11-81 12 3-10 1 6 3-3 1 3 0-5 1 10 1-12 0 3 0 10 1-9 0 5 1 0 0-11 1 8 0 4 1-2 1-7 0 4 0 2 1 5 0 0 0-7 0 0 1-3 0 6 1-9 0 14 0-7 0 5 1-4 0 5 0-4 0-8 0 3 0 5 0 0 0-1 1 6 0-13 0-1 1 3 0 6 0-4 0 4 0-7 0 9 0-8 1 5 0 3 0 1 0 0 1-11 0 8 0-1 1-8 0 7 0-2 0-5 0-1 0 4 0 10 0-5 0-9 0 3 0 8 0-5 0-3 1 11 0-7 0 0 0-3 0 9 1-9 0 6 0 0 0-8 0 10 1-8 0 4 0 8 0-4 0-4 0 1 0 4 0-4 0 3 0-4 0 8 0-14 0 2 1 6 0-5 0 1 0 2 0-7 0 0 0 2 0-3 1 11 0-8 0 8 0 2 0 2 0-14 0 11 0-6 0-1 0 7 0 1 0-13 0 4 0 2 1 1 0 5 0-6 0-4 0 10 0 0 0-6 0 9 0-3 0-8 1-3 0 4 0-2 0 2 0-2 0-2 0 2 0 12 0 0 0 0 0-8 1 2 0-8 0 9 0-6 0 7 0-6 0 6 0 1 0-1 0-9 0 1 1 11 0 2 0-8 0-1 0 9 0-13 0 3 0 9 0-9 0 3 0-8 0 4 0 2 0 5 0-4 0 1 0 3 0-2 0-6 1-2 0 5 0 1 0 2 0 4 0-2 0-1 0-5 0-3 0 11 0-4 0-10 0 13 0-7 0 8 0-10 1-1 0-1 0 3 0 3 0 8 0-1 0-9 0 5 0 2 0 0 0-7 0 6 0-1 0 3 0-8 1 4 0-9 0 0 0 10 0-5 0 4 0-3 0-3 0-1 0 3 0 4 0-8 0 3 0 1 0 3 0 2 0-6 0-4 1 4 0 9 0-1 0-7 0 8 0 0 0-4 0-5 0-2 0 7 0 4 0-3 0-4 0 5 0-12 0 13 0-6 0 1 0 0 0-6 0 4 0-3 0 11 0-13 0 5 0 7 1-2 0-9 0 11 0-12 0 12 0 3 0-2 0-5 0 3 0 2 0 0 0-13 0 0 0 11 0-4 0 7 0 1 0-4 0-11 0 6 1-6 0 14 0-4 0-9 0 3 0 2 0-3 0 5 0 5 0 2 0-8 0 5 0-1 0 3 0-14 0 2 0 10 0-2 0-7 1 3 0 2 0 0 0-6 0 3 0 2 0-4 0 2 0 6 0-6 0-3 0 2 0 9 0-11 1-2 0 12 0-1 0 3 0-2 0-5 0-7 0-1 0 0 0 4 0 6 0 0 0-6 0 4 0-2 0 2 1-5 0 4 0-4 0 5 0-3 0-2 0 9 0-4 0 5 0-1 1-12 0 5 0 9 0-1 0-2 0-7 0-2 0 1 0-1 0 8 0 0 0 3 0-3 0-9 0 0 0 13 0-14 0 4 0 0 1 11 0 1 0-6 0 6 0-3 0-12 0 3 0 9 0 2 0-4 0-4 0 6 1-2 0-4 0 2 0 3 0-8 0 0 0 8 0-10 0 2 0 2 0 0 0 1 0-5 1 3 0 2 0 2 0-8 0 5 0-4 0 14 1-3 0-2 0-8 0 9 0-7 0 8 0-9 0-2 0 2 0-1 0-1 1 13 0-14 0 6 0 6 0-3 0-8 0 11 0-1 0-10 1-1 0 5 0 10 0-12 0 5 0-4 0 8 0 2 0-5 1-7 0-2 0 7 0-6 0 3 0 7 0-11 0 1 1 11 0-6 0-5 0 0 0-2 0 1 0 2 0-2 0 10 0-7 0 11 0-4 0-9 0 8 1-2 0 8 0-7 0 4 0-11 0 4 0-4 0 11 1-8 0 8 0-4 0-7 0 7 0-2 0 0 1 7 0-13 0 6 0 4 1-6 0 10 0-13 0 0 0-1 0 2 0 7 0 4 1-12 0 13 0-15 0 5 0 11 0-3 0-11 0 6 1-7 0 1 1 12 0-5 0 7 0-9 0-7 0 11 1-8 0 4 0 3 0-8 1 8 0-8 0 9 1 0 0-2 1 3 0-8 1 10 0-11 2 8 0-10 1 13 1-1 2-10 1 5 0-3 0 10 1-9 1-2 0 16-77-3 8 4 1-1 1 8 2-2 1-6 0 3 2-4 2 1 0-1 0 2 1 8 0-5 2 3 0-7 1 3 2-6 0 3 0 7 0 4 1-1 0-10 0 4 0 0 0-8 1 11 0-8 0 0 1 5 0 0 0-8 0 13 0-1 0-8 1 10 0-2 0 1 0-4 1 6 0-9 0 3 0-7 1 13 0-13 0 9 0-4 0-7 0 14 0-3 1 4 0 0 0-13 0 2 0 9 1-2 0-5 0 4 0-9 0 14 0-13 0 13 0-11 0 10 1-8 0 8 0-8 0 5 0 0 0 5 0-10 0 9 1-13 0-1 0 7 0-7 0 3 0 6 0-2 0-4 1 9 0-1 0-6 0 0 0 0 0 8 0 0 0-6 0-1 0-2 0-3 0 6 0 5 0-3 0-3 0 7 0-5 0 3 0-11 1 13 0-3 0-4 0 6 0-13 0 0 0 3 0 8 0-2 0 3 1 1 0-10 0 9 0-8 0-1 0 5 0-8 0 9 0-2 0-4 0 8 0 1 0-1 0-1 1-4 0 6 0-2 0-5 0 7 0-7 0 2 0 1 0 7 0-13 1 10 0-8 0-4 0 3 0 5 0 3 0-1 0-1 0-8 0 11 0 2 1-7 0-5 0 1 0 7 0 1 0-6 0 6 0 2 0-5 0-8 0 7 0 3 0 1 0-8 0-1 0-1 0 0 1 3 0 7 0 1 0-4 0 2 0 0 0-2 0 6 0 1 0-12 0 10 0 1 0-6 1-1 0 0 0 3 0-9 0 1 0 5 0 3 0-5 0 7 0-6 0 8 0-6 0 1 0-7 0 2 0 9 0-1 0-9 1 8 0-7 0 8 0-10 0 2 0 1 0 2 0-6 0 6 0 8 1-15 0 14 0-2 0-3 0 1 0-4 0 4 0-5 0 4 0-6 0 12 1-8 0-6 0 2 0 6 0-5 0 10 0-2 0-11 0 9 0 4 0-14 0 6 0 0 1 0 0 8 0-8 0-4 0-2 0 15 0-15 0 4 0 6 0-3 0-2 0 2 0-1 0 7 1-12 0 0 0-1 0 3 0 1 0 11 0-2 0-3 0-6 0 9 0-12 0 8 0-6 0 0 0 11 1-5 0-6 0 0 0 4 0 4 0 3 0-1 0 2 0 0 0-8 0-4 0 1 0 6 0 3 0-9 0-2 0-1 0 12 1-5 0 0 0 0 0 8 0-6 0 1 0-10 0 5 0 5 0-4 0 6 0-5 0-8 0 3 0-2 0 5 0-3 0 9 1-6 0 7 0-6 0 3 0-7 0-2 0 8 0-6 0 1 1 10 0 0 0-2 0-8 0 8 0 1 0-13 0 7 0 9 0-1 0-1 0-13 1 9 0-9 0 7 0-5 0 1 0-1 0 0 0 2 0-5 0 3 1-3 0 2 0-1 0 8 0-8 0 10 0-11 0 5 0 1 0 8 0-10 0 5 0-9 0 15 1-2 0-13 0 2 0 12 0-8 0-2 0 10 0-6 0-2 0 2 0 1 0-4 0 5 0-9 1 8 0 2 0-10 0 2 0-2 0 13 1-11 0 6 0-8 0 13 0-12 0 9 0-7 0 3 0 8 0-14 0 0 1 6 0 1 1-6 0 7 0-4 0 2 0 7 1-12 0 10 0-8 0 4 1 3 0-2 0 4 0-12 0 1 1 7 0-6 0 5 0 4 0-4 0-4 1 3 0 9 0-6 1-7 0 8 0-8 0 7 1-4 0 6 1-8 0 11 1-4 1-2 2-8 0 5 2 10 2-15 0 9 4 9-68 6 2-7 2 8 1 0 0-7 2-2 1 9 1 6 0-13 0 5 1 0 1-6 0-1 1 14 0-5 0 2 2 3 0-15 1 1 1 1 0 3 0 2 1 0 0 6 0-7 1 4 0 3 0-1 0-1 1 2 0-10 0 2 0 9 0-12 1-1 0 4 0-5 0 8 0 1 1 4 0-7 0-3 0 2 0-3 1 0 0-1 0 0 0 9 1 2 0-10 0 6 0-5 0 6 1-9 0 10 0-6 0 8 1-11 0 13 0-14 0 1 0 10 0-7 1 1 0-4 0 7 0 1 0-2 0 3 0-8 0 12 0-6 0-4 0 2 0 0 0 7 0-1 0-7 0-1 0 5 1-3 0 7 0-12 0 12 0-5 0 6 0-11 0 6 0 0 0-7 0-2 1 8 0-7 0 1 0 4 0 3 0-6 0 4 0 4 0-4 0 6 0 0 0-6 0 7 1-9 0-4 0 2 0 2 0 5 0-3 0-3 0-3 0 12 0-6 0 5 1-2 0 2 0-5 0 4 0 0 0 3 0-11 0 5 0 3 0-9 0 10 0 2 1-5 0 1 0-1 0 5 0-11 0 1 0 4 0 4 1-3 0-7 0 0 0 0 0-2 0 1 0 3 0 6 0 5 0-3 0-11 0 0 1 13 0 0 0-10 0 7 0-3 0-2 0 8 0-5 0 5 0-10 0-2 0 8 0-3 0 1 0-5 0-2 1 15 0-15 0 6 0 5 0-7 0 8 0-8 0-2 0 0 0 3 0 2 0-8 1 10 0-8 0 12 0-6 0 4 0 0 0 2 0-14 1 8 0 7 0-8 0 3 0 5 0-12 0 2 0-2 0-2 0 14 0-12 0 1 0 2 0-3 0-1 0 1 0-2 1 9 0-6 0-3 0 5 0-3 0 10 0-1 0 1 0-8 0 4 0 1 0 5 0-7 1 4 0 2 0-5 0-7 0 0 0 5 0 0 0 5 0 2 0 0 0-13 0 6 0 9 1-13 0 12 0-8 0-4 0 10 0-5 0 1 0 6 0 0 0-5 1-9 0 7 0-2 0 5 0-6 0-2 0-1 0 13 0-6 0-6 0 6 0 3 0-3 1-2 0 6 0-10 0-1 0 0 0 7 0 5 0-9 0 2 0 1 0-7 0 9 0-2 1-4 0 8 0-10 0 12 1-2 0-10 0 5 0-6 0 4 0 1 0-1 0 7 1-4 0 5 1-2 0 2 0 0 0-10 0 10 0-12 1 7 0 3 0-7 0 3 0 3 0 1 0-5 0 3 0-1 0-5 0 2 0-4 1 7 0 5 0-12 0 2 0 0 0 4 0 1 0-2 0-4 0 4 1-2 0 9 0-1 1 1 0-1 1-4 0-7 0 3 0 3 0 2 1 0 1-9 0 1 0 4 0 3 0 4 0-12 0 9 1 5 0-13 0 0 0 9 2 2 0 3 0-8 0 0 0 1 1 6 1-3 1-5 0-3 1-1 1 0 1 8 1 5 0-4 1 1 0 1 0-10 1 5 2 6 3 14-70-8 2 2 4-4 2 12 3-3 0-4 1-6 1 15 0-5 1-5 0 3 1-4 2 8 0-3 0-7 1 5 1 6 0-10 1 3 0-2 0 7 0-8 0 11 0-12 1 1 0 5 0-8 0 6 0-3 1 9 0-6 1 2 0 5 0-9 0 1 0 0 0-5 0 8 0 7 0-9 0 3 0-5 1 1 0 3 0-8 0 12 0-6 1 5 0-7 0 7 0-4 0 7 0-5 0-5 0 7 0 1 0-8 1 5 0-6 0-2 0 8 0-1 0 7 0-13 0 12 1-2 0-10 0 5 0 4 0 2 0 1 1-14 0 3 0 2 0 6 0-3 0-2 0-1 0 4 1-10 0 7 0 8 0-9 0 2 0-6 0 1 0 3 0-1 0-1 1 9 0 0 0 2 0-1 0-12 0 9 0-11 1 13 0-2 0-5 0-1 0 10 0-1 0-11 0 12 0-5 1 5 0-5 0-8 0 2 0-3 0 13 0-2 0 1 0 0 0 1 0-2 0-9 1 9 0 1 0-3 0-7 0-1 0 4 0-3 0 11 0-11 0 4 1-1 0 5 0 5 0-11 0 8 0-11 0 0 0 1 1-2 0 9 0-6 0-1 0 6 0-6 0 13 0-9 0 9 0-9 0-1 1 0 0 5 0 0 0 4 0-3 0-2 0-6 1-2 0 5 0 9 0-1 0-11 0 1 0 7 0 0 0-9 1 7 0-10 0 0 0 9 0-4 0-1 0 6 1-6 0 7 0-8 0 2 0-5 0 4 1 3 0 7 0-8 0 3 0-4 0-2 0-2 0 7 0 1 1-4 0 0 0 1 0 8 0-3 0-8 0 3 0 6 0-10 0 4 0 5 1-6 0-4 0 0 0 7 0 2 0-8 0 6 0 3 1-2 0-4 0-2 0 7 0-10 0 9 0 6 0 0 0-14 1 1 0 6 0 3 0 1 0-8 0 9 0-3 0 6 0-4 0 1 1 3 0-10 0-2 0 0 0 12 0-9 0 7 1-5 0-7 0 4 0-5 0 3 1-2 0 7 0-4 0 6 0-2 0 4 0-8 1 3 0 2 0 0 1-4 0-5 0 3 1 1 1-1 0 5 0-7 2 5 0-3 1 3 1-4 0 11 1-14 1 16 0-9 0 8 0-14 1 2 1 5 0-4 1-1 2 6 1 0 1-7 1 4 0 1 2-1 1 2 1-8 5 30-70-4 6-6 1 5 2 7 0-9 0 1 0-4 1 2 4 2 0 5 1-12 0 14 0-3 0-11 1 10 1 3 0-13 1 5 0-2 0 1 1 11 0-10 0 6 0-9 0-1 0 5 1-6 0 3 0 8 1-7 0 3 0-1 0-2 1 6 0-3 0 7 0-11 1 2 0 2 1-8 0 14 0 0 0-3 0-4 1 0 0-4 0 9 0 0 0 1 0-4 0-6 0 12 0-6 1-7 0 0 0 12 0-7 0 4 0 4 1-11 0 6 0-4 0 8 0-12 0-2 0 12 0-10 0 6 0-3 0 5 0 4 1-8 0 3 0 0 0-1 0 7 1-11 0 6 0-4 0-1 0 2 0 8 0-1 1-9 0 2 0-3 0 1 0 0 0 5 0-10 0 7 0-2 0-3 0 1 1 0 0 7 0-8 0 3 0 9 0-8 0 7 0-2 0 0 0 3 0-6 1 5 0 1 0-2 1 2 0-14 0 3 0-1 0 2 0 10 0-11 0 11 1-12 0 13 0-5 0-4 0 9 0-3 0-7 0 0 0 1 0 5 0-2 0-3 0-6 1 3 0 12 0-13 0 7 0-2 0 3 1-6 0 6 0-7 0 7 1 4 0-7 0 1 0-3 0 1 1-1 0 11 0-11 0 10 1-4 1 2 0 1 0-1 0-7 0 0 0-5 1 14 0-2 0-7 0 10 0-4 1-8 0 0 0-1 0 5 0 4 0-5 1 3 0-6 0 11 0-10 1-5 0 10 0-7 0 2 0 9 0-1 1-11 0 9 1-2 0-2 0 4 0 1 0 3 0-12 1-2 0 14 0-9 1 5 0-2 0-1 0 4 1 2 0-13 2 2 4 2 1 5 0-3 2 9 0-12 1-3 0 7 2-6 3 22-61 5 6-7 3-5 2-1 1 14 0-13 0 11 2 4 1-3 1-8 0-4 1 1 0 6 0-4 0 3 1 5 1 0 0-10 0 1 1-1 0 8 0-3 0 0 0 4 1-4 0 1 1-2 0 5 0-7 0 3 0-1 0-5 0 4 0-3 1 1 1 10 0-13 0 2 0 9 1 2 0-12 1 7 0-7 0 11 0 0 0 1 0-11 0 4 0 4 1-1 0 5 0-3 0-10 0 2 1-1 0 2 0 1 1 9 0 0 0-12 0 9 0-3 0-3 0-1 1 0 0 4 0-1 0-3 0 0 0-1 1 10 0-3 0-3 0 7 0-3 0-5 0 3 0-6 1 9 0-6 0-2 0-1 0 8 0-6 0 7 1-4 0-3 0 9 0-6 0 3 1 1 0 2 0-12 0 2 1 1 0-1 0-4 1 3 0 9 1-3 0 6 0 0 1-6 0-9 1 14 0-10 2 11 0 0 0-1 2-13 0 3 0 9 0-9 0 2 1-5 2 10 2-1 0-3 2 5 1-2 5-6 0-3 7 18-59-2 0 10 2-11 5 15 0-2 1 0 1-3 3 3 0-12 0 12 1 0 1-6 0 5 2 1 0-1 1-1 0-8 1 4 1-6 0 14 0 0 0 1 1-5 0-3 0-2 0-4 1-2 2 7 0-3 1 1 0 6 0-9 0 0 0 7 1-2 1 4 0-9 0 1 0 3 1-3 0-2 0 2 1-2 0 8 0-6 0 2 1-4 0 10 0 2 0 1 0 0 1-8 1 5 0 4 0-6 1-8 2 5 0-4 0 12 1-4 0 2 2-7 1 6 0-3 9-1 5 6 1 7-61 0 4-3 12 3 1-1 0 10 1 0 1-9 1-3 0 1 2 2 1 2 2 2 0 3 1-1 0-6 0 0 0 2 1 6 0-10 1 2 0 1 0 1 1 6 0 1 0-10 0 2 2 3 0 8 0-10 2-6 0 7 0 9 1-10 1 2 0-1 0-5 0 11 0-1 1-7 0-3 1 4 2-4 0-1 0 14 1-8 2-6 1 1 1 3 0-3 2 11 2-10 7-1 0 26-52 4 14-9 2-2 2 0 0 2 1-2 3 1 2 7 1-13 3 3 0-1 1-2 0 5 0-4 3 12 2-8 0-4 1 8 1-1 1 5 3-11 0 2 1 27-35 0 9-7 1 2 2-1 3 3 5 1 0-12 0 7 1 6 4-12 1 4 4-2 0 3 1 7 1-7 2 2 6-5 5 19-47 8 16-13 1-2 7 11 2-7 2 0 2 11 1-1 4-12 2 29-31-1 6-7 7 2 10 1 4-10 5 7 10 12-28 7 3-6 1 9 8 0 1 16-13 3 4 14 7 3-2 12 4 19-13 0 0" fill="none" stroke="none" marker-start="url(#dot)" marker-mid="url(#dot)"/></g>
<circle cx="481.0" cy="679.2" r="0.8" fill="#000"/>
<circle cx="487.3" cy="676.4" r="0.8" fill="#000"/>
<circle cx="490.8" cy="676.8" r="0.8" fill="#000"/>
<circle cx="496.8" cy="675.0" r="0.8" fill="#000"/>
<circle cx="497.8" cy="679.2" r="0.8" fill="#000"/>
<circle cx="495.0" cy="683.8" r="0.8" fill="#000"/>
<circle cx="511.5" cy="683.4" r="0.8" fill="#000"/>
<circle cx="538.8" cy="675.7" r="0.8" fill="#000"/>
<circle cx="548.6" cy="689.0" r="0.8" fill="#000"/>
<circle cx="488.7" cy="696.0" r="0.8" fill="#000"/>
<circle cx="496.8" cy="701.3" r="0.8" fill="#000"/>
<circle cx="500.3" cy="696.8" r="0.8" fill="#000"/>
<circle cx="511.8" cy="696.0" r="0.8" fill="#000"/>
<circle cx="518.5" cy="696.8" r="0.8" fill="#000"/>
<circle cx="508.3" cy="705.2" r="0.8" fill="#000"/>
<circle cx="497.8" cy="726.9" r="0.8" fill="#000"/>
<circle cx="516.4" cy="724.1" r="0.8" fill="#000"/>
<circle cx="517.8" cy="726.2" r="0.8" fill="#000"/>
<circle cx="536.4" cy="718.5" r="0.8" fill="#000"/>
<circle cx="541.3" cy="712.2" r="0.8" fill="#000"/>
<circle cx="544.8" cy="722.3" r="0.8" fill="#000"/>
<circle cx="565.8" cy="743.7" r="0.8" fill="#000"/>
<circle cx="528.3" cy="779.5" r="0.8" fill="#000"/>
<circle cx="509.0" cy="787.5" r="0.8" fill="#000"/>
<circle cx="562.7" cy="783.0" r="0.8" fill="#000"/>
<circle cx="567.2" cy="666.3" r="0.8" fill="#000"/>
<circle cx="543.0" cy="654.7" r="0.8" fill="#000"/>
<circle cx="517.1" cy="659.3" r="0.8" fill="#000"/>
<circle cx="604.0" cy="647.0" r="0.8" fill="#000"/>
<circle cx="614.9" cy="642.5" r="0.8" fill="#000"/>
<circle cx="785.0" cy="564.8" r="0.8" fill="#000"/>
<circle cx="785.0" cy="573.0" r="0.8" fill="#000"/>
<circle cx="746.0" cy="552.0" r="0.8" fill="#000"/>
<circle cx="757.0" cy="561.0" r="0.8" fill="#000"/>
<circle cx="612.5" cy="678.4" r="2.45" fill="#00f"/>
<rect x="467.5" y="484.5" width="330.0" height="314.5" fill="none" stroke="#000" stroke-width="1.05"/>
<path d="M481.2 799v4.5M525.1 799v4.5M569.1 799v4.5M613.0 799v4.5M657.0 799v4.5M700.9 799v4.5M744.8 799v4.5M788.8 799v4.5M467.5 507.0h-7M467.5 578.6h-7M467.5 650.2h-7M467.5 721.8h-7M467.5 793.4h-7" stroke="#000" stroke-width="1" fill="none"/>
<text x="478.42" y="812.90" font-size="13.6" fill="#000">0</text>
<text x="522.36" y="812.90" font-size="13.6" fill="#000">2</text>
<text x="566.34" y="812.90" font-size="13.6" fill="#000">4</text>
<text x="610.19" y="812.90" font-size="13.6" fill="#000">6</text>
<text x="654.18" y="812.90" font-size="13.6" fill="#000">8</text>
<text x="696.68" y="812.90" font-size="13.6" fill="#000">10</text>
<text x="740.70" y="812.90" font-size="13.6" fill="#000">12</text>
<text x="784.50" y="812.90" font-size="13.6" fill="#000">14</text>
<text transform="translate(460.20,509.37) rotate(-90)" font-size="13.6" fill="#000">1</text>
<text transform="translate(460.20,580.78) rotate(-90)" font-size="13.6" fill="#000">0</text>
<text transform="translate(460.20,655.26) rotate(-90)" font-size="13.6" fill="#000">−1</text>
<text transform="translate(460.20,726.85) rotate(-90)" font-size="13.6" fill="#000">−2</text>
<text transform="translate(460.20,798.49) rotate(-90)" font-size="13.6" fill="#000">−3</text>
<text x="593.71" y="479.00" font-size="13.6" fill="#000">C_0nM − Fluvo_2uM</text>
<text x="601.57" y="825.40" font-size="13.6" fill="#000">Average log CPM</text>
<text transform="translate(447.25,671.20) rotate(-90)" font-size="13.4" fill="#000">log−fold−change</text>
<rect x="741" y="750.5" width="56.5" height="48.5" fill="#fff" stroke="#000" stroke-width="1.05"/>
<text x="754.76" y="765.20" font-size="13.85" fill="#000">NotSig</text>
<text x="754.83" y="777.40" font-size="13.85" fill="#000">Up</text>
<text x="754.76" y="789.80" font-size="13.85" fill="#000">Down</text>
<circle cx="748.3" cy="762.5" r="0.75" fill="#000"/>
<circle cx="748.3" cy="774.8" r="2.3" fill="#f00"/>
<circle cx="748.3" cy="787.1" r="2.3" fill="#00f"/>
</svg>
</body></html>
